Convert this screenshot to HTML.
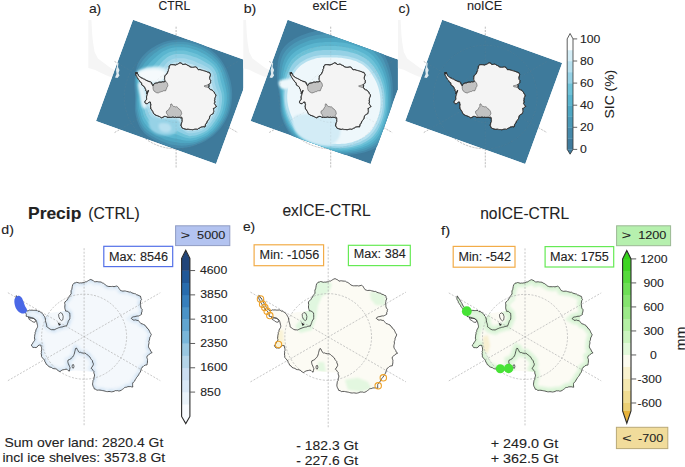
<!DOCTYPE html><html><head><meta charset="utf-8"><style>html,body{margin:0;padding:0;background:#fff;}svg{display:block;}text{font-family:"Liberation Sans",sans-serif;stroke:#2a2a2a;stroke-width:0.1px;}</style></head><body>
<svg width="685" height="467" viewBox="0 0 685 467">
<defs><clipPath id="ax0"><rect x="88.2" y="19.7" width="155.1" height="160"/></clipPath><clipPath id="rc0"><path d="M133 19.7 L253 63 L216 164 L96 121Z"/></clipPath><clipPath id="ax1"><rect x="243.3" y="19.7" width="154.6" height="160"/></clipPath><clipPath id="rc1"><path d="M287.6 19.7 L407.6 63 L370.6 164 L250.6 121Z"/></clipPath><clipPath id="ax2"><rect x="397.9" y="19.7" width="287.1" height="160"/></clipPath><clipPath id="rc2"><path d="M442.2 19.7 L562.2 63 L525.2 164 L405.2 121Z"/></clipPath><clipPath id="coastclip"><path d="M-67.8 -41.1 L-65.9 -38.2 L-63.8 -34.4 L-61.5 -30.9 L-59.3 -27.9 L-57.1 -25.8 L-53.4 -26.6 L-48.1 -26.4 L-43.8 -24.7 L-40.6 -22.1 L-39 -18.9 L-36.6 -22.9 L-33.1 -23.9 L-29.1 -24.5 L-25.1 -24.9 L-21.6 -25.4 L-18.3 -25.6 L-19.6 -29.4 L-19 -34.6 L-16.4 -37.8 L-14.5 -40.4 L-13.2 -42.9 L-13.2 -46.1 L-11.9 -48.7 L-11.2 -51.9 L-10 -53.8 L-7.4 -54.5 L-4.8 -53.8 L-1 -53.8 L2.2 -55.1 L6.7 -57.1 L9.3 -56.2 L10.6 -54.5 L13.2 -55.1 L17 -54.5 L20.2 -52.6 L23.5 -50.6 L27.3 -50 L32.5 -50.6 L34.4 -49.3 L36.2 -46.2 L41.3 -45.4 L46.5 -44.5 L51.6 -42.6 L56.1 -40.6 L57.4 -37.4 L56.1 -33.6 L56.7 -29.7 L58 -27.1 L57.4 -22.6 L54.2 -20.7 L55.4 -18.7 L54.2 -16.2 L56.7 -13 L60.6 -11.7 L63.8 -7.9 L65.7 -5.3 L67 -2.1 L65.4 2.2 L64.7 6 L64.5 11.2 L66.7 14.4 L68 15.7 L65.4 17.6 L62.8 19.5 L63.5 24 L62.8 27.9 L60.2 29.1 L57 31.7 L56.4 35.6 L54.5 38.1 L52.5 40.7 L51.2 43.3 L48.7 46.5 L48.7 50.4 L46.1 49.7 L41.6 50.4 L38.4 52.3 L35.8 54.2 L31.3 54.2 L27.5 54.9 L23.6 54.9 L19.8 54.2 L15.9 53.6 L12.9 53.3 L10.4 52.3 L8.5 48.4 L9.1 43.9 L10.4 39.4 L9.7 34.9 L5.9 34.7 L0.9 34.5 L-4.1 34.1 L-9.1 33.7 L-12.1 33.9 L-14.7 34.3 L-17.9 32.4 L-21.1 33 L-24.3 34.9 L-27.5 32.8 L-31.4 31.5 L-35.3 29.6 L-37.8 27.6 L-39.1 25.1 L-40.4 22.5 L-42.3 19.9 L-43 16.7 L-42.3 12.2 L-43 8.4 L-44.9 8.4 L-48.1 10.9 L-51.3 10.9 L-52.6 8.4 L-51.3 5.8 L-49.4 3.9 L-49.7 -0.1 L-49.1 -3.3 L-48.1 -6.6 L-47 -9.2 L-46.4 -11.4 L-47.5 -15.1 L-48.6 -17.3 L-50.7 -18.3 L-52.9 -18.3 L-55.5 -19.4 L-57.7 -20.5 L-58.2 -23.7 L-61.1 -26.5 L-63.9 -30.2 L-66.3 -34.3 L-68.3 -38.5Z"/></clipPath><filter id="bl1" x="-20%" y="-20%" width="140%" height="140%"><feGaussianBlur stdDeviation="1.2"/></filter><filter id="bl2" x="-20%" y="-20%" width="140%" height="140%"><feGaussianBlur stdDeviation="0.8"/></filter></defs>
<g clip-path="url(#ax0)">
<rect x="88.2" y="19.7" width="155.1" height="160" fill="#fff"/>
<path d="M88.2 19.8 L91.4 19.8 L92.2 34.3 L93 42.3 L94.6 52 L97.9 58.4 L104.3 63.2 L110.7 68.1 L115.5 70.5 L117.5 72 L119 74.5 L117.2 76.5 L113.1 77 L109.1 76.6 L101.1 72.9 L94.6 69.7 L88.2 68.1Z" fill="#f5f5f5"/>
<g stroke="#a3a3a3" stroke-width="0.6" stroke-dasharray="2 1.3" fill="none"><line x1="176.1" y1="26.7" x2="176.1" y2="168" /><line x1="114.61" y1="61.5" x2="237.59" y2="132.5"/><line x1="114.61" y1="132.5" x2="237.59" y2="61.5"/><circle cx="176.1" cy="97" r="25.4" fill="none"/><circle cx="176.1" cy="97" r="51.8" fill="none"/></g>
<g clip-path="url(#rc0)">
<path d="M133 19.7 L253 63 L216 164 L96 121Z" fill="#3e7a9b"/>
<path d="M117 62 L118.5 63 L118 67 L119.5 70 L118.5 73 L119.5 75.5 L117.5 78 L115 77.5 L116.5 74 L116 70 L117 66Z" fill="#dfe9ee"/>
<path d="M232.1 97 C232.05 98.22 231.95 99.44 231.82 100.65 C231.69 101.86 231.52 103.07 231.31 104.27 C231.1 105.46 230.85 106.66 230.56 107.83 C230.27 109.01 229.94 110.18 229.58 111.33 C229.21 112.48 228.8 113.62 228.36 114.74 C227.92 115.86 227.43 116.97 226.91 118.05 C226.39 119.13 225.83 120.19 225.24 121.23 C224.65 122.27 224.02 123.29 223.36 124.29 C222.7 125.28 222 126.25 221.28 127.19 C220.56 128.13 219.8 129.05 219.02 129.93 C218.24 130.82 217.42 131.68 216.59 132.51 C215.75 133.33 214.89 134.13 214 134.9 C213.11 135.67 212.2 136.4 211.27 137.1 C210.33 137.8 209.38 138.46 208.4 139.09 C207.43 139.72 206.43 140.32 205.42 140.88 C204.41 141.44 203.38 141.97 202.35 142.46 C201.31 142.96 200.26 143.42 199.2 143.85 C198.14 144.28 197.07 144.67 196 145.04 C194.93 145.41 193.84 145.75 192.76 146.07 C191.67 146.38 190.57 146.67 189.48 146.92 C188.38 147.17 187.27 147.39 186.16 147.57 C185.05 147.74 183.93 147.89 182.81 147.98 C181.69 148.08 180.57 148.13 179.45 148.14 C178.33 148.14 177.21 148.1 176.1 148 C174.99 147.9 173.88 147.74 172.79 147.54 C171.7 147.34 170.61 147.08 169.55 146.78 C168.48 146.49 167.43 146.14 166.4 145.78 C165.37 145.41 164.35 145 163.35 144.58 C162.35 144.15 161.37 143.7 160.4 143.24 C159.44 142.78 158.49 142.29 157.54 141.81 C156.59 141.32 155.66 140.84 154.73 140.33 C153.8 139.83 152.88 139.32 151.98 138.78 C151.07 138.25 150.17 137.69 149.3 137.1 C148.43 136.51 147.58 135.9 146.76 135.24 C145.94 134.58 145.15 133.88 144.4 133.14 C143.66 132.41 142.95 131.62 142.3 130.8 C141.65 129.98 141.06 129.1 140.51 128.21 C139.96 127.32 139.47 126.39 139.02 125.45 C138.57 124.51 138.18 123.55 137.82 122.58 C137.45 121.62 137.14 120.64 136.85 119.66 C136.56 118.69 136.31 117.71 136.08 116.74 C135.85 115.77 135.62 114.8 135.45 113.84 C135.27 112.87 135.13 111.91 135.03 110.94 C134.93 109.98 134.9 109 134.87 108.05 C134.85 107.09 134.87 106.14 134.89 105.2 C134.92 104.26 134.97 103.33 135 102.41 C135.04 101.49 135.09 100.59 135.1 99.69 C135.12 98.79 135.12 97.9 135.1 97 C135.08 96.1 135.02 95.21 134.96 94.3 C134.9 93.4 134.81 92.48 134.74 91.56 C134.67 90.63 134.58 89.69 134.52 88.73 C134.46 87.77 134.39 86.8 134.36 85.82 C134.34 84.83 134.32 83.83 134.34 82.83 C134.37 81.82 134.44 80.81 134.53 79.78 C134.61 78.75 134.72 77.71 134.84 76.65 C134.97 75.6 135.09 74.51 135.26 73.42 C135.43 72.33 135.62 71.22 135.86 70.11 C136.11 69.01 136.39 67.89 136.73 66.79 C137.08 65.7 137.48 64.6 137.94 63.54 C138.41 62.48 138.95 61.44 139.54 60.44 C140.14 59.45 140.81 58.49 141.51 57.56 C142.22 56.63 142.98 55.74 143.78 54.88 C144.58 54.02 145.43 53.2 146.31 52.41 C147.19 51.62 148.11 50.87 149.05 50.15 C149.99 49.43 150.97 48.74 151.97 48.08 C152.97 47.42 154 46.78 155.05 46.19 C156.1 45.59 157.18 45.02 158.27 44.49 C159.37 43.96 160.5 43.47 161.64 43.02 C162.78 42.57 163.94 42.17 165.12 41.8 C166.3 41.44 167.5 41.11 168.71 40.83 C169.91 40.55 171.14 40.32 172.37 40.13 C173.6 39.94 174.85 39.8 176.1 39.7 C177.35 39.6 178.61 39.55 179.87 39.55 C181.12 39.54 182.39 39.58 183.65 39.67 C184.91 39.76 186.17 39.89 187.42 40.07 C188.68 40.25 189.93 40.48 191.17 40.75 C192.41 41.03 193.65 41.35 194.87 41.72 C196.09 42.08 197.3 42.5 198.49 42.95 C199.68 43.41 200.86 43.91 202.01 44.46 C203.17 45 204.31 45.59 205.42 46.21 C206.54 46.84 207.63 47.51 208.69 48.22 C209.76 48.93 210.8 49.68 211.81 50.47 C212.81 51.25 213.8 52.08 214.74 52.94 C215.68 53.8 216.6 54.7 217.47 55.63 C218.34 56.57 219.17 57.54 219.96 58.54 C220.74 59.54 221.49 60.58 222.19 61.64 C222.89 62.69 223.55 63.78 224.17 64.88 C224.79 65.98 225.37 67.11 225.91 68.24 C226.46 69.37 226.96 70.53 227.44 71.68 C227.91 72.84 228.35 74.01 228.76 75.19 C229.17 76.36 229.55 77.55 229.89 78.74 C230.23 79.93 230.53 81.14 230.8 82.34 C231.07 83.55 231.29 84.77 231.48 85.98 C231.67 87.2 231.82 88.43 231.93 89.65 C232.04 90.87 232.11 92.1 232.14 93.33 C232.17 94.55 232.15 95.78 232.1 97Z" fill="#4589aa"/>
<path d="M230.56 97 C230.52 98.19 230.45 99.37 230.33 100.55 C230.21 101.73 230.05 102.91 229.86 104.08 C229.66 105.24 229.41 106.4 229.14 107.55 C228.87 108.7 228.58 109.84 228.23 110.97 C227.88 112.09 227.5 113.21 227.07 114.3 C226.64 115.4 226.16 116.47 225.66 117.53 C225.15 118.58 224.6 119.62 224.03 120.63 C223.45 121.65 222.84 122.65 222.2 123.62 C221.56 124.59 220.87 125.53 220.17 126.45 C219.47 127.37 218.75 128.28 218 129.15 C217.24 130.02 216.46 130.87 215.65 131.68 C214.83 132.49 213.99 133.27 213.12 134.02 C212.25 134.77 211.37 135.49 210.45 136.17 C209.54 136.85 208.59 137.49 207.63 138.09 C206.67 138.7 205.68 139.26 204.69 139.79 C203.69 140.32 202.68 140.81 201.66 141.28 C200.64 141.74 199.61 142.17 198.57 142.56 C197.53 142.96 196.47 143.31 195.42 143.64 C194.37 143.97 193.31 144.31 192.24 144.55 C191.17 144.8 190.07 144.96 188.99 145.11 C187.91 145.27 186.83 145.4 185.74 145.49 C184.66 145.58 183.58 145.64 182.51 145.65 C181.43 145.67 180.35 145.65 179.28 145.58 C178.22 145.52 177.15 145.39 176.1 145.26 C175.05 145.14 174 145.02 172.96 144.83 C171.93 144.65 170.9 144.4 169.89 144.13 C168.89 143.86 167.89 143.55 166.91 143.21 C165.93 142.88 164.96 142.51 164.01 142.12 C163.06 141.74 162.12 141.32 161.2 140.9 C160.27 140.47 159.37 140.02 158.46 139.58 C157.56 139.14 156.66 138.7 155.76 138.24 C154.87 137.78 153.98 137.33 153.1 136.83 C152.23 136.34 151.36 135.83 150.52 135.29 C149.67 134.74 148.84 134.18 148.04 133.57 C147.24 132.96 146.45 132.33 145.72 131.64 C144.99 130.95 144.3 130.22 143.66 129.44 C143.02 128.67 142.43 127.84 141.89 127 C141.35 126.16 140.86 125.28 140.41 124.39 C139.96 123.49 139.56 122.58 139.2 121.66 C138.83 120.74 138.52 119.8 138.23 118.87 C137.94 117.93 137.69 116.99 137.46 116.05 C137.23 115.12 137.04 114.18 136.85 113.26 C136.66 112.33 136.47 111.42 136.35 110.49 C136.22 109.57 136.15 108.64 136.1 107.72 C136.05 106.8 136.05 105.88 136.04 104.97 C136.04 104.06 136.06 103.16 136.07 102.27 C136.07 101.38 136.07 100.5 136.08 99.62 C136.09 98.74 136.13 97.87 136.12 97 C136.11 96.13 136.08 95.26 136.04 94.37 C136 93.49 135.93 92.61 135.87 91.7 C135.82 90.8 135.76 89.9 135.69 88.96 C135.62 88.03 135.51 87.08 135.44 86.1 C135.36 85.13 135.27 84.14 135.23 83.13 C135.18 82.12 135.1 81.06 135.16 80.04 C135.22 79.02 135.43 78.04 135.6 77.03 C135.77 76.01 135.94 74.97 136.18 73.95 C136.43 72.94 136.72 71.92 137.08 70.93 C137.43 69.93 137.83 68.94 138.3 67.99 C138.76 67.04 139.33 66.16 139.86 65.22 C140.4 64.29 140.89 63.3 141.48 62.38 C142.07 61.47 142.72 60.58 143.4 59.71 C144.08 58.85 144.8 58 145.55 57.19 C146.3 56.37 147.1 55.59 147.92 54.83 C148.74 54.06 149.6 53.33 150.48 52.62 C151.36 51.92 152.27 51.23 153.2 50.57 C154.14 49.91 155.09 49.27 156.07 48.65 C157.06 48.04 158.06 47.45 159.09 46.9 C160.12 46.35 161.18 45.83 162.26 45.37 C163.34 44.9 164.45 44.47 165.57 44.09 C166.7 43.7 167.84 43.36 169 43.06 C170.16 42.77 171.33 42.53 172.52 42.33 C173.7 42.14 174.9 41.99 176.1 41.9 C177.3 41.8 178.51 41.76 179.72 41.76 C180.93 41.75 182.15 41.78 183.36 41.86 C184.57 41.93 185.79 42.06 186.99 42.23 C188.2 42.4 189.41 42.62 190.6 42.89 C191.79 43.16 192.97 43.48 194.15 43.84 C195.32 44.19 196.49 44.58 197.64 45.01 C198.78 45.44 199.92 45.91 201.04 46.43 C202.16 46.94 203.25 47.5 204.33 48.1 C205.41 48.69 206.47 49.33 207.51 49.99 C208.55 50.66 209.57 51.36 210.56 52.09 C211.55 52.83 212.51 53.61 213.44 54.42 C214.37 55.23 215.28 56.08 216.14 56.96 C217.01 57.84 217.85 58.74 218.64 59.69 C219.42 60.64 220.16 61.64 220.85 62.66 C221.55 63.68 222.19 64.73 222.8 65.8 C223.4 66.87 223.96 67.96 224.47 69.07 C224.99 70.18 225.44 71.32 225.87 72.45 C226.31 73.59 226.69 74.74 227.06 75.89 C227.43 77.04 227.8 78.19 228.12 79.34 C228.45 80.5 228.75 81.66 229.01 82.82 C229.28 83.99 229.52 85.16 229.73 86.33 C229.93 87.51 230.11 88.69 230.25 89.87 C230.39 91.05 230.5 92.24 230.55 93.43 C230.6 94.62 230.6 95.81 230.56 97Z" fill="#4a98b6"/>
<path d="M228.85 97 C228.83 98.15 228.78 99.3 228.68 100.45 C228.58 101.59 228.43 102.73 228.25 103.87 C228.06 105 227.82 106.12 227.57 107.24 C227.32 108.36 227.06 109.47 226.73 110.57 C226.41 111.66 226.05 112.75 225.64 113.82 C225.22 114.88 224.75 115.92 224.26 116.95 C223.77 117.97 223.23 118.98 222.68 119.97 C222.12 120.96 221.54 121.93 220.91 122.87 C220.29 123.82 219.62 124.73 218.95 125.63 C218.27 126.53 217.59 127.43 216.87 128.28 C216.14 129.14 215.39 129.97 214.6 130.76 C213.81 131.56 212.98 132.31 212.14 133.04 C211.3 133.77 210.44 134.48 209.55 135.14 C208.65 135.79 207.72 136.41 206.78 136.98 C205.83 137.55 204.85 138.07 203.87 138.57 C202.9 139.06 201.9 139.53 200.9 139.96 C199.9 140.38 198.89 140.78 197.86 141.13 C196.84 141.49 195.81 141.8 194.78 142.09 C193.74 142.38 192.72 142.7 191.67 142.87 C190.62 143.04 189.52 143.06 188.46 143.11 C187.39 143.16 186.33 143.18 185.29 143.18 C184.24 143.17 183.2 143.14 182.16 143.06 C181.13 142.99 180.11 142.89 179.1 142.75 C178.09 142.61 177.09 142.37 176.1 142.22 C175.11 142.06 174.13 142 173.16 141.83 C172.19 141.66 171.23 141.44 170.28 141.19 C169.33 140.95 168.4 140.67 167.47 140.37 C166.55 140.07 165.64 139.74 164.74 139.4 C163.84 139.05 162.96 138.68 162.08 138.29 C161.21 137.91 160.35 137.5 159.49 137.11 C158.62 136.71 157.76 136.33 156.91 135.92 C156.05 135.51 155.19 135.11 154.35 134.67 C153.51 134.23 152.68 133.76 151.87 133.27 C151.05 132.78 150.24 132.27 149.46 131.72 C148.68 131.17 147.91 130.59 147.19 129.96 C146.48 129.33 145.79 128.65 145.16 127.94 C144.54 127.22 143.96 126.45 143.42 125.66 C142.89 124.87 142.4 124.04 141.95 123.2 C141.5 122.37 141.1 121.5 140.73 120.63 C140.37 119.76 140.05 118.87 139.76 117.98 C139.47 117.09 139.23 116.19 139 115.29 C138.78 114.4 138.6 113.5 138.4 112.61 C138.21 111.73 137.97 110.87 137.81 110 C137.65 109.12 137.54 108.23 137.46 107.35 C137.38 106.47 137.36 105.59 137.32 104.71 C137.29 103.84 137.27 102.98 137.25 102.12 C137.22 101.25 137.17 100.4 137.17 99.55 C137.17 98.7 137.24 97.85 137.25 97 C137.26 96.15 137.27 95.31 137.25 94.45 C137.23 93.6 137.18 92.74 137.13 91.87 C137.09 91 137.07 90.13 136.99 89.22 C136.9 88.31 136.76 87.38 136.63 86.42 C136.5 85.46 136.34 84.47 136.21 83.46 C136.08 82.44 135.82 81.34 135.86 80.33 C135.9 79.33 136.21 78.41 136.44 77.44 C136.66 76.48 136.88 75.48 137.21 74.55 C137.54 73.61 137.96 72.7 138.43 71.83 C138.9 70.96 139.44 70.11 140.03 69.33 C140.63 68.54 141.4 67.89 142 67.09 C142.6 66.3 143.06 65.37 143.64 64.54 C144.22 63.71 144.85 62.9 145.49 62.1 C146.14 61.3 146.81 60.52 147.52 59.75 C148.22 58.99 148.95 58.24 149.71 57.51 C150.47 56.78 151.26 56.07 152.07 55.38 C152.88 54.68 153.71 54 154.57 53.34 C155.42 52.67 156.3 52.02 157.21 51.4 C158.12 50.77 159.04 50.15 160 49.58 C160.96 49 161.95 48.46 162.96 47.97 C163.98 47.48 165.02 47.03 166.08 46.62 C167.14 46.22 168.23 45.85 169.33 45.54 C170.42 45.23 171.55 44.98 172.68 44.78 C173.81 44.58 174.95 44.43 176.1 44.34 C177.25 44.25 178.4 44.22 179.56 44.21 C180.72 44.2 181.88 44.22 183.04 44.29 C184.2 44.36 185.36 44.46 186.52 44.62 C187.67 44.79 188.82 45.01 189.96 45.27 C191.1 45.53 192.23 45.85 193.35 46.19 C194.47 46.53 195.59 46.89 196.69 47.29 C197.79 47.69 198.89 48.13 199.96 48.61 C201.03 49.1 202.08 49.64 203.12 50.2 C204.16 50.75 205.19 51.34 206.19 51.96 C207.2 52.58 208.2 53.22 209.17 53.91 C210.14 54.59 211.09 55.31 212 56.06 C212.92 56.81 213.81 57.61 214.68 58.42 C215.54 59.24 216.4 60.08 217.18 60.98 C217.96 61.87 218.69 62.82 219.37 63.8 C220.05 64.77 220.69 65.78 221.27 66.82 C221.86 67.85 222.4 68.91 222.88 69.99 C223.35 71.08 223.76 72.2 224.14 73.31 C224.52 74.42 224.83 75.56 225.17 76.67 C225.51 77.79 225.85 78.89 226.16 80.01 C226.47 81.12 226.76 82.23 227.03 83.35 C227.3 84.47 227.55 85.59 227.77 86.72 C228 87.85 228.22 88.98 228.38 90.12 C228.55 91.25 228.7 92.4 228.78 93.55 C228.85 94.69 228.87 95.85 228.85 97Z" fill="#4ea6c2"/>
<path d="M226.8 97 C226.81 98.1 226.77 99.21 226.69 100.32 C226.61 101.42 226.49 102.52 226.32 103.61 C226.15 104.7 225.92 105.78 225.69 106.86 C225.46 107.94 225.23 109.03 224.94 110.09 C224.65 111.15 224.31 112.2 223.92 113.23 C223.52 114.26 223.06 115.26 222.58 116.25 C222.11 117.24 221.59 118.21 221.05 119.17 C220.52 120.12 219.97 121.07 219.37 121.98 C218.77 122.89 218.12 123.77 217.47 124.64 C216.83 125.52 216.2 126.4 215.51 127.24 C214.82 128.08 214.1 128.89 213.35 129.66 C212.59 130.43 211.78 131.16 210.97 131.87 C210.15 132.57 209.33 133.27 208.46 133.9 C207.59 134.53 206.68 135.11 205.76 135.65 C204.83 136.18 203.86 136.65 202.9 137.11 C201.94 137.56 200.97 137.99 199.99 138.37 C199.01 138.76 198.02 139.11 197.02 139.42 C196.02 139.73 195.01 139.98 194 140.22 C193 140.46 192.02 140.77 190.99 140.85 C189.95 140.93 188.85 140.78 187.81 140.71 C186.77 140.63 185.74 140.53 184.73 140.4 C183.72 140.28 182.73 140.14 181.76 139.96 C180.78 139.78 179.82 139.57 178.88 139.34 C177.93 139.11 177.01 138.75 176.1 138.56 C175.19 138.38 174.29 138.37 173.4 138.22 C172.51 138.07 171.62 137.87 170.75 137.66 C169.87 137.45 169.01 137.21 168.15 136.95 C167.3 136.69 166.45 136.42 165.62 136.12 C164.78 135.83 163.96 135.5 163.14 135.17 C162.33 134.84 161.53 134.48 160.72 134.14 C159.91 133.8 159.09 133.48 158.28 133.13 C157.47 132.79 156.65 132.45 155.85 132.07 C155.05 131.69 154.26 131.28 153.48 130.85 C152.7 130.42 151.92 129.98 151.17 129.49 C150.41 129.01 149.65 128.52 148.95 127.95 C148.25 127.39 147.59 126.78 146.97 126.13 C146.36 125.48 145.79 124.77 145.26 124.04 C144.73 123.32 144.25 122.56 143.8 121.79 C143.35 121.01 142.95 120.21 142.58 119.4 C142.21 118.59 141.88 117.76 141.6 116.92 C141.31 116.09 141.07 115.23 140.85 114.38 C140.63 113.54 140.49 112.67 140.27 111.84 C140.06 111.01 139.76 110.22 139.57 109.4 C139.37 108.58 139.21 107.75 139.09 106.92 C138.97 106.08 138.93 105.24 138.86 104.41 C138.79 103.58 138.73 102.75 138.67 101.93 C138.6 101.1 138.49 100.29 138.48 99.47 C138.47 98.64 138.57 97.82 138.61 97 C138.64 96.18 138.69 95.37 138.69 94.55 C138.7 93.73 138.67 92.91 138.64 92.07 C138.62 91.23 138.64 90.41 138.55 89.53 C138.45 88.65 138.25 87.75 138.05 86.81 C137.86 85.86 137.61 84.88 137.39 83.86 C137.16 82.84 136.69 81.67 136.7 80.68 C136.71 79.69 137.16 78.84 137.45 77.94 C137.73 77.03 138.01 76.09 138.44 75.26 C138.87 74.42 139.43 73.63 140.05 72.91 C140.66 72.19 141.37 71.52 142.12 70.92 C142.87 70.33 143.87 69.97 144.56 69.34 C145.24 68.71 145.65 67.86 146.23 67.13 C146.8 66.4 147.4 65.69 148.01 64.97 C148.62 64.25 149.24 63.53 149.88 62.83 C150.52 62.12 151.18 61.42 151.86 60.72 C152.54 60.03 153.25 59.36 153.97 58.68 C154.7 58 155.44 57.32 156.21 56.66 C156.97 55.99 157.76 55.33 158.57 54.69 C159.39 54.04 160.22 53.39 161.09 52.79 C161.96 52.19 162.87 51.61 163.8 51.09 C164.73 50.57 165.7 50.1 166.69 49.67 C167.67 49.24 168.69 48.84 169.72 48.52 C170.75 48.19 171.81 47.92 172.87 47.71 C173.93 47.5 175.02 47.36 176.1 47.27 C177.18 47.18 178.27 47.17 179.37 47.16 C180.46 47.15 181.56 47.15 182.66 47.2 C183.75 47.26 184.86 47.35 185.95 47.5 C187.04 47.65 188.12 47.86 189.2 48.12 C190.27 48.37 191.33 48.7 192.39 49.02 C193.45 49.34 194.51 49.66 195.56 50.03 C196.6 50.4 197.65 50.79 198.67 51.24 C199.69 51.69 200.68 52.2 201.67 52.71 C202.66 53.22 203.64 53.76 204.62 54.32 C205.59 54.89 206.56 55.46 207.5 56.08 C208.44 56.7 209.37 57.34 210.28 58.03 C211.18 58.71 212.05 59.44 212.91 60.19 C213.77 60.93 214.64 61.68 215.42 62.51 C216.2 63.34 216.92 64.24 217.59 65.16 C218.26 66.08 218.88 67.05 219.44 68.04 C220 69.03 220.52 70.05 220.96 71.1 C221.39 72.15 221.74 73.25 222.06 74.33 C222.38 75.42 222.61 76.54 222.9 77.61 C223.19 78.69 223.52 79.74 223.81 80.81 C224.1 81.87 224.38 82.93 224.65 83.99 C224.92 85.06 225.18 86.12 225.43 87.19 C225.68 88.26 225.94 89.33 226.14 90.41 C226.35 91.49 226.54 92.59 226.65 93.69 C226.76 94.78 226.79 95.9 226.8 97Z" fill="#5ab5cf"/>
<path d="M224.4 97 C224.44 98.05 224.43 99.11 224.38 100.16 C224.32 101.22 224.21 102.27 224.07 103.31 C223.92 104.36 223.69 105.39 223.49 106.43 C223.28 107.46 223.11 108.5 222.85 109.53 C222.58 110.55 222.28 111.56 221.91 112.55 C221.54 113.54 221.08 114.5 220.63 115.44 C220.17 116.39 219.67 117.32 219.16 118.24 C218.65 119.15 218.14 120.06 217.57 120.94 C217 121.82 216.36 122.65 215.75 123.5 C215.15 124.34 214.57 125.21 213.93 126.02 C213.28 126.84 212.6 127.63 211.88 128.38 C211.16 129.13 210.38 129.82 209.6 130.5 C208.82 131.18 208.03 131.85 207.19 132.45 C206.35 133.05 205.47 133.6 204.56 134.09 C203.66 134.58 202.7 135 201.76 135.4 C200.82 135.81 199.88 136.19 198.92 136.53 C197.97 136.86 197 137.17 196.03 137.42 C195.06 137.67 194.07 137.86 193.1 138.04 C192.13 138.22 191.19 138.52 190.19 138.5 C189.18 138.48 188.08 138.12 187.06 137.9 C186.04 137.68 185.05 137.43 184.09 137.17 C183.13 136.91 182.19 136.64 181.28 136.34 C180.37 136.04 179.48 135.71 178.61 135.37 C177.75 135.03 176.92 134.53 176.1 134.3 C175.28 134.07 174.48 134.13 173.67 134.01 C172.87 133.88 172.08 133.72 171.29 133.55 C170.5 133.37 169.72 133.17 168.95 132.96 C168.17 132.76 167.4 132.55 166.64 132.31 C165.88 132.07 165.13 131.8 164.38 131.53 C163.63 131.26 162.9 130.95 162.15 130.67 C161.4 130.4 160.64 130.15 159.88 129.88 C159.13 129.61 158.36 129.35 157.6 129.04 C156.85 128.73 156.11 128.38 155.37 128.03 C154.63 127.67 153.88 127.3 153.16 126.9 C152.43 126.5 151.69 126.09 151.01 125.61 C150.33 125.13 149.68 124.59 149.08 124.02 C148.48 123.44 147.93 122.81 147.41 122.16 C146.89 121.52 146.4 120.83 145.96 120.13 C145.51 119.43 145.1 118.7 144.73 117.96 C144.36 117.22 144.03 116.46 143.74 115.68 C143.45 114.91 143.22 114.11 143 113.32 C142.79 112.53 142.68 111.71 142.45 110.94 C142.22 110.17 141.86 109.46 141.61 108.71 C141.37 107.95 141.16 107.18 141 106.41 C140.83 105.63 140.76 104.83 140.65 104.05 C140.53 103.27 140.43 102.49 140.32 101.71 C140.21 100.93 140.03 100.15 140.01 99.37 C139.99 98.58 140.13 97.78 140.19 97 C140.26 96.22 140.34 95.44 140.38 94.66 C140.41 93.88 140.41 93.1 140.41 92.3 C140.4 91.51 140.48 90.73 140.36 89.89 C140.25 89.05 139.99 88.18 139.72 87.25 C139.45 86.32 139.1 85.35 138.76 84.33 C138.42 83.3 137.71 82.06 137.69 81.09 C137.66 80.12 138.26 79.35 138.62 78.52 C138.99 77.68 139.32 76.81 139.87 76.09 C140.43 75.36 141.16 74.72 141.94 74.17 C142.71 73.62 143.61 73.16 144.55 72.79 C145.48 72.42 146.76 72.4 147.54 71.96 C148.33 71.52 148.68 70.76 149.25 70.15 C149.81 69.54 150.38 68.94 150.94 68.32 C151.51 67.69 152.06 67.05 152.63 66.41 C153.2 65.77 153.77 65.12 154.37 64.48 C154.96 63.83 155.57 63.19 156.2 62.53 C156.82 61.87 157.46 61.2 158.12 60.53 C158.78 59.86 159.46 59.19 160.16 58.53 C160.87 57.86 161.6 57.17 162.36 56.54 C163.13 55.9 163.94 55.29 164.78 54.74 C165.61 54.19 166.49 53.68 167.39 53.23 C168.29 52.77 169.22 52.33 170.17 51.99 C171.12 51.64 172.11 51.35 173.09 51.13 C174.08 50.92 175.09 50.78 176.1 50.69 C177.11 50.6 178.12 50.61 179.14 50.6 C180.16 50.58 181.18 50.56 182.21 50.61 C183.23 50.65 184.26 50.71 185.28 50.85 C186.3 50.99 187.31 51.2 188.31 51.44 C189.31 51.68 190.28 52.02 191.27 52.31 C192.26 52.61 193.25 52.9 194.23 53.23 C195.21 53.56 196.2 53.9 197.15 54.3 C198.11 54.71 199.04 55.18 199.98 55.65 C200.91 56.11 201.84 56.59 202.77 57.08 C203.7 57.58 204.64 58.07 205.56 58.61 C206.47 59.15 207.38 59.72 208.26 60.33 C209.14 60.93 210 61.58 210.86 62.24 C211.71 62.91 212.6 63.56 213.38 64.31 C214.15 65.06 214.86 65.9 215.51 66.76 C216.17 67.62 216.78 68.53 217.31 69.46 C217.84 70.4 218.33 71.38 218.72 72.39 C219.11 73.4 219.38 74.48 219.63 75.53 C219.89 76.58 220.02 77.68 220.26 78.71 C220.49 79.74 220.79 80.73 221.06 81.74 C221.33 82.74 221.6 83.74 221.87 84.74 C222.14 85.74 222.41 86.73 222.69 87.73 C222.97 88.74 223.28 89.74 223.53 90.76 C223.77 91.78 224.03 92.81 224.17 93.85 C224.32 94.89 224.37 95.95 224.4 97Z" fill="#6ec2d8"/>
<path d="M222.01 97 C222.07 98 222.1 99.01 222.06 100.01 C222.03 101.02 221.94 102.02 221.81 103.02 C221.68 104.01 221.46 105 221.29 105.99 C221.11 106.98 220.98 107.98 220.75 108.96 C220.52 109.94 220.25 110.92 219.9 111.87 C219.56 112.81 219.11 113.73 218.67 114.63 C218.23 115.54 217.76 116.43 217.27 117.3 C216.79 118.18 216.31 119.06 215.77 119.9 C215.23 120.74 214.6 121.53 214.03 122.35 C213.46 123.16 212.94 124.02 212.34 124.81 C211.74 125.6 211.1 126.38 210.42 127.1 C209.73 127.82 208.98 128.48 208.23 129.13 C207.48 129.78 206.73 130.43 205.92 131 C205.11 131.57 204.25 132.09 203.37 132.54 C202.48 132.99 201.54 133.34 200.62 133.7 C199.7 134.06 198.78 134.39 197.85 134.68 C196.93 134.97 195.99 135.22 195.05 135.42 C194.1 135.62 193.14 135.74 192.2 135.86 C191.25 135.98 190.37 136.27 189.39 136.15 C188.41 136.02 187.3 135.46 186.31 135.09 C185.32 134.73 184.36 134.33 183.45 133.94 C182.53 133.54 181.65 133.13 180.8 132.71 C179.95 132.29 179.14 131.84 178.35 131.4 C177.57 130.95 176.83 130.31 176.1 130.04 C175.37 129.77 174.66 129.9 173.95 129.8 C173.24 129.7 172.53 129.56 171.83 129.43 C171.13 129.29 170.43 129.13 169.74 128.98 C169.04 128.82 168.35 128.67 167.66 128.49 C166.98 128.31 166.29 128.1 165.62 127.89 C164.94 127.67 164.28 127.42 163.59 127.21 C162.9 127 162.19 126.83 161.49 126.63 C160.78 126.43 160.06 126.24 159.35 126 C158.65 125.77 157.96 125.48 157.26 125.2 C156.56 124.92 155.84 124.63 155.15 124.31 C154.45 123.99 153.72 123.67 153.07 123.27 C152.41 122.87 151.78 122.4 151.19 121.91 C150.61 121.41 150.07 120.85 149.55 120.28 C149.04 119.71 148.56 119.1 148.11 118.48 C147.67 117.85 147.25 117.2 146.88 116.52 C146.51 115.85 146.17 115.16 145.88 114.45 C145.59 113.74 145.36 113 145.15 112.26 C144.95 111.53 144.88 110.74 144.63 110.04 C144.38 109.33 143.95 108.7 143.66 108.01 C143.37 107.32 143.11 106.61 142.9 105.9 C142.7 105.18 142.59 104.43 142.44 103.7 C142.28 102.96 142.12 102.23 141.97 101.49 C141.82 100.75 141.57 100.01 141.53 99.27 C141.5 98.52 141.69 97.75 141.78 97 C141.87 96.25 142 95.51 142.06 94.77 C142.13 94.02 142.15 93.29 142.17 92.53 C142.19 91.78 142.31 91.06 142.18 90.25 C142.05 89.45 141.73 88.61 141.39 87.7 C141.04 86.79 140.59 85.83 140.14 84.79 C139.68 83.76 138.73 82.45 138.67 81.5 C138.61 80.55 139.36 79.86 139.8 79.1 C140.24 78.33 140.64 77.52 141.31 76.91 C141.98 76.3 142.88 75.81 143.82 75.43 C144.77 75.06 145.86 74.8 146.98 74.65 C148.1 74.51 149.65 74.82 150.53 74.58 C151.41 74.33 151.71 73.65 152.27 73.17 C152.83 72.68 153.36 72.19 153.88 71.66 C154.4 71.13 154.88 70.57 155.38 70 C155.88 69.43 156.37 68.83 156.88 68.23 C157.38 67.63 157.9 67.02 158.42 66.38 C158.95 65.75 159.47 65.08 160.03 64.41 C160.58 63.74 161.15 63.05 161.75 62.37 C162.36 61.68 162.97 60.95 163.64 60.28 C164.3 59.62 165.01 58.97 165.75 58.38 C166.5 57.8 167.29 57.27 168.1 56.78 C168.91 56.29 169.76 55.83 170.63 55.46 C171.5 55.09 172.41 54.78 173.32 54.56 C174.23 54.33 175.17 54.19 176.1 54.11 C177.03 54.02 177.97 54.05 178.92 54.03 C179.86 54.02 180.81 53.98 181.76 54.01 C182.71 54.04 183.67 54.08 184.61 54.21 C185.55 54.33 186.49 54.53 187.42 54.77 C188.34 55 189.23 55.34 190.15 55.61 C191.06 55.89 191.99 56.13 192.91 56.42 C193.82 56.72 194.75 57.01 195.64 57.37 C196.54 57.73 197.4 58.17 198.28 58.58 C199.16 58.99 200.04 59.41 200.93 59.84 C201.82 60.27 202.73 60.68 203.61 61.15 C204.5 61.61 205.38 62.1 206.25 62.63 C207.11 63.15 207.95 63.72 208.8 64.3 C209.65 64.88 210.56 65.43 211.33 66.1 C212.1 66.78 212.8 67.55 213.44 68.35 C214.08 69.15 214.67 70 215.18 70.89 C215.68 71.78 216.14 72.71 216.48 73.69 C216.82 74.66 217.02 75.71 217.21 76.73 C217.39 77.75 217.43 78.82 217.61 79.81 C217.8 80.8 218.07 81.72 218.31 82.67 C218.56 83.62 218.81 84.55 219.09 85.48 C219.36 86.42 219.65 87.34 219.96 88.28 C220.26 89.21 220.62 90.14 220.91 91.1 C221.2 92.06 221.51 93.03 221.69 94.01 C221.88 94.99 221.95 96 222.01 97Z" fill="#8fcfe4"/>
<path d="M219.1 97 C219.2 97.94 219.26 98.89 219.25 99.83 C219.25 100.77 219.18 101.72 219.08 102.66 C218.97 103.6 218.76 104.52 218.62 105.46 C218.47 106.39 218.4 107.35 218.21 108.28 C218.02 109.21 217.79 110.15 217.47 111.04 C217.15 111.94 216.71 112.79 216.3 113.65 C215.88 114.5 215.43 115.34 214.98 116.17 C214.52 117 214.08 117.84 213.58 118.64 C213.07 119.43 212.47 120.17 211.95 120.95 C211.42 121.73 210.97 122.57 210.42 123.33 C209.87 124.1 209.28 124.85 208.64 125.54 C208 126.23 207.28 126.85 206.56 127.46 C205.85 128.08 205.15 128.71 204.38 129.24 C203.6 129.77 202.77 130.25 201.92 130.65 C201.06 131.04 200.13 131.33 199.24 131.63 C198.35 131.93 197.46 132.21 196.56 132.44 C195.66 132.66 194.76 132.86 193.85 132.99 C192.94 133.12 192.01 133.17 191.1 133.22 C190.2 133.27 189.37 133.54 188.42 133.29 C187.47 133.03 186.35 132.23 185.39 131.69 C184.44 131.14 183.53 130.57 182.67 130.01 C181.8 129.45 180.99 128.88 180.22 128.31 C179.45 127.74 178.73 127.15 178.04 126.58 C177.35 126 176.73 125.18 176.1 124.86 C175.47 124.55 174.89 124.76 174.29 124.68 C173.68 124.61 173.09 124.52 172.49 124.43 C171.89 124.34 171.3 124.23 170.7 124.14 C170.1 124.04 169.5 123.96 168.9 123.85 C168.31 123.74 167.71 123.61 167.12 123.46 C166.52 123.32 165.94 123.13 165.33 123 C164.72 122.87 164.08 122.79 163.44 122.68 C162.79 122.57 162.13 122.47 161.48 122.32 C160.83 122.17 160.2 121.97 159.55 121.77 C158.89 121.58 158.23 121.39 157.56 121.16 C156.9 120.93 156.2 120.72 155.56 120.42 C154.93 120.12 154.32 119.75 153.76 119.34 C153.19 118.94 152.66 118.48 152.16 118 C151.65 117.52 151.17 117 150.73 116.47 C150.29 115.93 149.87 115.37 149.49 114.78 C149.12 114.19 148.77 113.58 148.48 112.94 C148.2 112.31 147.97 111.64 147.77 110.97 C147.57 110.3 147.54 109.58 147.27 108.94 C147 108.31 146.49 107.78 146.15 107.17 C145.81 106.56 145.47 105.93 145.21 105.28 C144.96 104.63 144.81 103.94 144.61 103.26 C144.4 102.59 144.19 101.92 143.98 101.23 C143.78 100.54 143.43 99.85 143.39 99.14 C143.34 98.44 143.58 97.71 143.7 97 C143.82 96.29 144.01 95.6 144.11 94.9 C144.21 94.21 144.26 93.52 144.31 92.81 C144.35 92.11 144.54 91.45 144.39 90.69 C144.24 89.93 143.84 89.13 143.41 88.24 C142.98 87.35 142.4 86.4 141.8 85.36 C141.21 84.32 139.96 82.92 139.86 81.99 C139.77 81.06 140.69 80.48 141.22 79.8 C141.75 79.12 142.24 78.39 143.05 77.92 C143.87 77.45 144.97 77.13 146.12 76.97 C147.26 76.8 148.59 76.79 149.93 76.92 C151.27 77.05 153.16 77.77 154.16 77.76 C155.16 77.74 155.39 77.17 155.93 76.83 C156.48 76.5 156.98 76.14 157.44 75.73 C157.91 75.31 158.31 74.85 158.73 74.36 C159.14 73.87 159.52 73.34 159.92 72.79 C160.32 72.24 160.72 71.67 161.12 71.06 C161.53 70.45 161.92 69.78 162.35 69.11 C162.77 68.44 163.21 67.74 163.69 67.03 C164.16 66.31 164.64 65.54 165.18 64.83 C165.72 64.13 166.31 63.43 166.94 62.81 C167.57 62.18 168.25 61.62 168.96 61.1 C169.67 60.57 170.41 60.07 171.19 59.67 C171.96 59.27 172.77 58.95 173.59 58.71 C174.41 58.48 175.26 58.34 176.1 58.26 C176.94 58.17 177.79 58.23 178.64 58.21 C179.5 58.19 180.36 58.13 181.22 58.14 C182.08 58.15 182.95 58.17 183.8 58.28 C184.66 58.39 185.5 58.58 186.34 58.8 C187.17 59.02 187.96 59.37 188.79 59.62 C189.62 59.87 190.46 60.06 191.3 60.31 C192.14 60.55 192.99 60.78 193.81 61.09 C194.63 61.4 195.41 61.79 196.22 62.14 C197.04 62.49 197.86 62.84 198.69 63.19 C199.53 63.53 200.4 63.85 201.25 64.22 C202.1 64.6 202.96 64.99 203.8 65.42 C204.64 65.84 205.46 66.32 206.3 66.8 C207.14 67.27 208.08 67.7 208.85 68.28 C209.61 68.86 210.29 69.56 210.92 70.28 C211.54 71.01 212.11 71.79 212.58 72.62 C213.06 73.45 213.49 74.33 213.76 75.25 C214.04 76.18 214.15 77.2 214.26 78.18 C214.36 79.16 214.28 80.2 214.4 81.14 C214.52 82.07 214.76 82.93 214.98 83.8 C215.2 84.68 215.44 85.53 215.71 86.39 C215.99 87.24 216.3 88.08 216.63 88.94 C216.97 89.79 217.39 90.64 217.74 91.52 C218.08 92.4 218.46 93.3 218.68 94.21 C218.91 95.12 219.01 96.06 219.1 97Z" fill="#a6d8ea"/>
<path d="M216.54 97 C216.66 97.88 216.75 98.78 216.77 99.67 C216.79 100.56 216.75 101.45 216.66 102.34 C216.58 103.23 216.37 104.1 216.26 104.99 C216.14 105.88 216.12 106.79 215.97 107.68 C215.81 108.57 215.61 109.46 215.32 110.31 C215.02 111.16 214.59 111.97 214.2 112.78 C213.81 113.59 213.38 114.38 212.95 115.17 C212.53 115.96 212.12 116.77 211.65 117.52 C211.17 118.28 210.59 118.97 210.1 119.72 C209.62 120.47 209.23 121.29 208.72 122.03 C208.22 122.77 207.68 123.5 207.07 124.16 C206.47 124.82 205.77 125.41 205.1 126 C204.42 126.59 203.76 127.2 203.02 127.69 C202.27 128.19 201.47 128.63 200.64 128.98 C199.8 129.33 198.89 129.56 198.02 129.8 C197.15 130.05 196.29 130.28 195.42 130.46 C194.55 130.63 193.67 130.78 192.79 130.85 C191.91 130.92 191.01 130.9 190.14 130.89 C189.26 130.87 188.49 131.13 187.56 130.77 C186.64 130.4 185.52 129.39 184.59 128.68 C183.66 127.98 182.79 127.25 181.98 126.54 C181.16 125.84 180.41 125.13 179.71 124.43 C179.01 123.72 178.36 123.01 177.76 122.32 C177.16 121.63 176.63 120.66 176.1 120.3 C175.57 119.94 175.09 120.22 174.58 120.17 C174.08 120.13 173.57 120.07 173.07 120.01 C172.57 119.96 172.06 119.91 171.55 119.87 C171.04 119.82 170.52 119.81 170 119.76 C169.48 119.71 168.96 119.64 168.44 119.56 C167.92 119.48 167.42 119.35 166.87 119.29 C166.32 119.23 165.74 119.23 165.15 119.2 C164.57 119.16 163.95 119.15 163.36 119.07 C162.76 119 162.18 118.86 161.57 118.75 C160.96 118.63 160.33 118.52 159.69 118.38 C159.06 118.24 158.38 118.12 157.76 117.91 C157.15 117.69 156.57 117.4 156.02 117.08 C155.47 116.76 154.95 116.38 154.46 115.98 C153.96 115.58 153.48 115.15 153.04 114.69 C152.6 114.24 152.17 113.75 151.8 113.24 C151.42 112.73 151.07 112.19 150.78 111.62 C150.49 111.05 150.27 110.44 150.08 109.83 C149.88 109.23 149.89 108.54 149.61 107.97 C149.32 107.41 148.74 106.96 148.35 106.42 C147.95 105.88 147.56 105.32 147.26 104.73 C146.95 104.14 146.78 103.51 146.52 102.88 C146.27 102.26 146 101.64 145.75 101 C145.5 100.35 145.08 99.7 145.02 99.04 C144.96 98.37 145.25 97.67 145.4 97 C145.55 96.33 145.79 95.68 145.92 95.02 C146.05 94.37 146.13 93.72 146.2 93.06 C146.27 92.41 146.5 91.8 146.34 91.08 C146.17 90.36 145.7 89.59 145.19 88.72 C144.68 87.85 143.99 86.91 143.28 85.86 C142.57 84.81 141.05 83.33 140.92 82.43 C140.79 81.52 141.87 81.02 142.48 80.42 C143.09 79.82 143.65 79.16 144.59 78.81 C145.54 78.46 146.82 78.3 148.14 78.32 C149.47 78.34 151 78.54 152.53 78.92 C154.07 79.29 156.25 80.37 157.36 80.56 C158.46 80.75 158.63 80.28 159.17 80.07 C159.71 79.86 160.17 79.62 160.59 79.31 C161 79 161.34 78.62 161.68 78.2 C162.01 77.79 162.3 77.31 162.61 76.81 C162.91 76.31 163.21 75.78 163.51 75.19 C163.8 74.6 164.08 73.94 164.39 73.26 C164.71 72.59 165.03 71.88 165.39 71.14 C165.75 70.41 166.11 69.59 166.54 68.85 C166.98 68.11 167.46 67.37 167.98 66.71 C168.51 66.05 169.1 65.46 169.72 64.9 C170.33 64.35 170.99 63.81 171.67 63.39 C172.36 62.97 173.09 62.63 173.83 62.38 C174.57 62.14 175.34 62 176.1 61.92 C176.86 61.84 177.63 61.91 178.4 61.89 C179.17 61.87 179.95 61.79 180.74 61.79 C181.52 61.78 182.31 61.78 183.09 61.87 C183.86 61.97 184.63 62.15 185.38 62.36 C186.13 62.58 186.84 62.92 187.59 63.15 C188.34 63.38 189.11 63.53 189.88 63.73 C190.65 63.93 191.44 64.11 192.19 64.37 C192.94 64.63 193.65 64.99 194.41 65.29 C195.16 65.58 195.93 65.87 196.72 66.14 C197.51 66.42 198.35 66.65 199.17 66.94 C199.99 67.23 200.82 67.53 201.64 67.88 C202.46 68.22 203.26 68.61 204.1 69 C204.94 69.39 205.89 69.71 206.65 70.21 C207.42 70.7 208.09 71.33 208.69 71.99 C209.3 72.65 209.85 73.38 210.3 74.15 C210.74 74.93 211.14 75.75 211.37 76.64 C211.59 77.52 211.62 78.52 211.66 79.47 C211.69 80.41 211.5 81.42 211.56 82.31 C211.63 83.2 211.84 83.99 212.03 84.8 C212.23 85.61 212.46 86.4 212.74 87.18 C213.01 87.97 213.34 88.74 213.7 89.52 C214.07 90.3 214.55 91.08 214.93 91.89 C215.32 92.7 215.76 93.53 216.03 94.38 C216.29 95.24 216.41 96.12 216.54 97Z" fill="#c4e5f2"/>
<path d="M137 72 C137.67 70.83 140 69.83 142 69 C144 68.17 146.67 67.42 149 67 C151.33 66.58 153.67 66.42 156 66.5 C158.33 66.58 161.17 66.92 163 67.5 C164.83 68.08 166.33 68.75 167 70 C167.67 71.25 167.5 73.33 167 75 C166.5 76.67 165.67 78.67 164 80 C162.33 81.33 159.33 82.67 157 83 C154.67 83.33 152.5 82.58 150 82 C147.5 81.42 144 80.5 142 79.5 C140 78.5 138.83 77.25 138 76 C137.17 74.75 136.33 73.17 137 72Z" fill="#d5eef7" filter="url(#bl2)"/>
<path d="M139 73 C139.75 72.08 142 71.08 144 70.5 C146 69.92 148.67 69.67 151 69.5 C153.33 69.33 155.83 69.25 158 69.5 C160.17 69.75 162.75 70.08 164 71 C165.25 71.92 165.75 73.58 165.5 75 C165.25 76.42 163.92 78.33 162.5 79.5 C161.08 80.67 159.08 81.67 157 82 C154.92 82.33 152.33 82 150 81.5 C147.67 81 144.75 79.92 143 79 C141.25 78.08 140.17 77 139.5 76 C138.83 75 138.25 73.92 139 73Z" fill="#f5fafc" filter="url(#bl2)"/>
<path d="M150 118 C151.67 116.5 156.33 118.83 160 119 C163.67 119.17 168.67 118.67 172 119 C175.33 119.33 179 119.17 180 121 C181 122.83 179.67 127.67 178 130 C176.33 132.33 173.33 134.33 170 135 C166.67 135.67 161.33 135.17 158 134 C154.67 132.83 151.33 130.67 150 128 C148.67 125.33 148.33 119.5 150 118Z" fill="#96d2e6" filter="url(#bl2)"/>
<path d="M159 124 C159.83 122.83 163.17 122.83 165 123 C166.83 123.17 169 123.83 170 125 C171 126.17 171.67 128.75 171 130 C170.33 131.25 167.83 132.5 166 132.5 C164.17 132.5 161.17 131.42 160 130 C158.83 128.58 158.17 125.17 159 124Z" fill="#b8e0f0" filter="url(#bl2)"/>
<path d="M180 119 C181.17 118.17 185.33 117.67 188 117.5 C190.67 117.33 194.5 117.42 196 118 C197.5 118.58 198.17 120.17 197 121 C195.83 121.83 191.67 122.75 189 123 C186.33 123.25 182.5 123.17 181 122.5 C179.5 121.83 178.83 119.83 180 119Z" fill="#cfeaf5" filter="url(#bl2)"/>
<path d="M138 84 C138.33 81.83 140.83 82 142 83 C143.17 84 144.17 87.17 145 90 C145.83 92.83 146.83 97 147 100 C147.17 103 146.83 107 146 108 C145.17 109 143 108 142 106 C141 104 140.67 99.67 140 96 C139.33 92.33 137.67 86.17 138 84Z" fill="#e2f3f9" filter="url(#bl2)"/>
</g>
<g stroke="#8a8a8a" stroke-opacity="0.22" stroke-width="0.6" stroke-dasharray="2 1.5" fill="none"><line x1="176.1" y1="26.7" x2="176.1" y2="168" /><line x1="114.61" y1="61.5" x2="237.59" y2="132.5"/><line x1="114.61" y1="132.5" x2="237.59" y2="61.5"/><circle cx="176.1" cy="97" r="25.4" fill="none"/><circle cx="176.1" cy="97" r="51.8" fill="none"/></g>
<g transform="translate(176.1 97)">
<path d="M-39.38 -23.34 L-39.58 -22.83 L-40.46 -24.48 L-40.38 -23.05 L-40.28 -22.07 L-39.78 -21.29 L-39.2 -20.57 L-38.99 -19.6 L-38.23 -18.95 L-38 -18 L-37.24 -17.42 L-36.7 -16.68 L-36.33 -15.81 L-35.66 -14.78 L-34.38 -14.15 L-34.3 -13.18 L-34.39 -12.12 L-33.28 -11.34 L-32.22 -10.64 L-31.23 -9.83 L-31.18 -8.61 L-30.14 -7.79 L-30.25 -6.55 L-29.62 -5.56 L-29.29 -4.52 L-29.54 -3.51 L-29.02 -4.32 L-28.3 -5.04 L-28.29 -6.11 L-27.68 -6.78 L-27.71 -6.81 L-27.89 -5.44 L-28.66 -3.94 L-28.64 -2.86 L-28.92 -1.91 L-29.2 -0.97 L-29.71 -0.05 L-29.44 1.13 L-29.31 2.41 L-30.59 3.43 L-31.28 4.98 L-30.54 6.35 L-29.58 6.69 L-28.55 6.6 L-27.79 5.6 L-26.73 5.05 L-25.61 5 L-25.65 6.18 L-25.34 7.24 L-25.17 8.18 L-25.79 9 L-25.33 9.88 L-25.33 10.88 L-25.32 11.95 L-24.42 12.48 L-24.04 13.39 L-22.99 14.79 L-22.57 16.52 L-21.87 17.17 L-21.03 17.67 L-19.97 18.42 L-18.65 18.63 L-17.57 19.27 L-16.41 19.58 L-15.45 20.2 L-14.48 20.75 L-13.39 20.41 L-12.5 19.95 L-11.61 19.45 L-10.71 19.38 L-9.55 19.59 L-8.73 20.56 L-7.2 20.28 L-5.44 20.4 L-4.44 20.36 L-3.42 20.07 L-2.43 20.22 L-1.46 20.49 L-0.43 20.12 L0.54 20.51 L1.54 20.34 L2.53 20.35 L3.53 20.35 L4.63 20.9 L6.03 20.73 L6.09 21.64 L6.13 22.55 L5.94 23.38 L6.21 24.43 L5.71 25.25 L5.38 26.13 L5.03 26.99 L4.96 27.89 L4.83 28.92 L5.76 29.9 L6.21 31.08 L7.69 31.63 L9.42 32.17 L10.58 32.4 L11.83 32.02 L12.96 32.25 L14.05 32.49 L15.21 32.49 L16.37 32.67 L17.51 32.53 L18.63 32.1 L19.97 31.91 L21.28 32.22 L22.03 31.62 L22.88 31.17 L23.97 30.84 L24.78 30.13 L25.66 29.87 L26.56 29.8 L27.41 29.7 L28.68 30 L29.27 28.84 L29.14 27.8 L29.94 26.89 L30.66 25.87 L31.19 24.18 L31.79 23.41 L32.22 22.51 L33.08 21.99 L33.27 21.14 L33.45 19.98 L33.8 18.71 L34.73 17.91 L35.79 17.22 L37.07 16.55 L37.24 15.38 L37.56 14.32 L37.38 13.44 L37.43 12.51 L37.18 11.34 L38.31 11.25 L38.98 10.54 L39.56 9.71 L40.35 9.47 L39.61 8.63 L38.97 7.67 L38.13 6.66 L38.68 5.64 L38.82 4.62 L38.49 3.57 L38.71 2.44 L38.66 1.21 L38.99 0.36 L39.46 -0.44 L39.73 -1.19 L39.71 -2.29 L38.92 -3.01 L38.27 -3.73 L38.22 -4.91 L37.36 -5.47 L36.52 -6.05 L36.08 -6.99 L34.81 -7.04 L33.77 -7.75 L33.27 -8.9 L32.49 -9.53 L33.09 -11.2 L32.18 -12.47 L33.17 -12.97 L33.94 -13.48 L34.47 -14.32 L34.43 -15.24 L34.7 -16.22 L33.63 -17.66 L33.38 -18.81 L33.6 -19.93 L34.1 -21.02 L34.4 -22.35 L33.98 -23.29 L33.48 -24.37 L32.57 -24.72 L31.53 -24.79 L30.72 -25.37 L29.67 -25.64 L28.58 -25.8 L27.62 -26.16 L26.62 -26.51 L25.59 -26.68 L24.6 -27.16 L23.62 -27.5 L22.55 -27.3 L21.81 -27.65 L21.31 -28.59 L20.66 -29.61 L19.36 -30.02 L18.34 -29.81 L17.3 -29.69 L16.22 -29.55 L15.09 -29.74 L14.03 -30.19 L13.15 -30.95 L12.15 -31.51 L11.06 -31.86 L10.14 -32.55 L9.02 -32.83 L7.92 -32.51 L6.4 -32.51 L5.63 -33.72 L3.91 -34.17 L3.02 -33.75 L2.21 -33.18 L1.39 -32.59 L0.28 -32.6 L-0.6 -31.91 L-1.73 -32.23 L-2.77 -32.34 L-4.39 -32.37 L-5.89 -31.99 L-6.97 -30.96 L-7.03 -29.97 L-6.88 -28.88 L-7.6 -27.44 L-7.61 -26.49 L-8.11 -25.67 L-8.8 -24.17 L-9 -23.13 L-9.94 -22.64 L-10.8 -21.76 L-11.42 -20.61 L-11.32 -19.55 L-11.58 -18.54 L-11.42 -17.58 L-10.96 -16.48 L-10.91 -15.57 L-11.88 -15.28 L-12.86 -15.14 L-13.94 -15.27 L-14.94 -14.78 L-16.16 -14.96 L-17.36 -14.81 L-18.48 -14.2 L-19.65 -14.06 L-20.7 -13.79 L-21.63 -13.54 L-22.31 -12.87 L-22.59 -11.96 L-23.26 -11.22 L-23.92 -12.09 L-23.99 -13.38 L-24.84 -13.63 L-24.61 -14.57 L-25.68 -15.01 L-26.7 -15.57 L-28.07 -15.7 L-29.15 -16.45 L-30.1 -16.7 L-30.89 -17.22 L-31.69 -17.71 L-32.65 -17.9 L-33.34 -18.56 L-34.25 -18.8 L-35.13 -19.09 L-35.67 -19.96 L-36.9 -20.42 L-37.72 -21.39 L-37.96 -22.34 L-38.46 -23.17 L-39.01 -23.97 L-39.31 -24.9Z" fill="#c2c2c2" stroke="#262626" stroke-width="0.75" stroke-linejoin="round"/>
<path d="M-39.53 -23.29 L-39.25 -23.04 L-40.16 -24.43 L-40.68 -22.9 L-40.14 -22.14 L-39.76 -21.3 L-39.58 -20.35 L-38.99 -19.6 L-38.54 -18.77 L-38.14 -17.9 L-37.64 -17.12 L-36.9 -16.53 L-36.41 -15.73 L-35.51 -14.94 L-34.65 -14.11 L-34.59 -13.14 L-34.33 -12.22 L-33.07 -11.55 L-32.17 -10.69 L-31.5 -9.72 L-30.96 -8.7 L-30.61 -7.6 L-30.22 -6.55 L-29.65 -5.56 L-29.56 -4.46 L-29.1 -3.31 L-28.75 -4.2 L-28.66 -5.21 L-28.26 -6.1 L-27.59 -6.8 L-27.41 -6.73 L-27.86 -5.43 L-28.43 -3.87 L-29.01 -2.97 L-29.37 -1.99 L-29.6 -1.05 L-29.41 -0.07 L-29.6 1.14 L-29.46 2.26 L-30.38 3.53 L-31.48 5.09 L-30.54 6.72 L-29.58 6.35 L-28.49 6.67 L-27.71 5.7 L-26.73 4.99 L-25.84 5.04 L-25.55 6.16 L-25.01 7.29 L-25.28 8.16 L-25.46 9.05 L-25.52 9.92 L-25.24 10.86 L-25.11 11.79 L-24.7 12.68 L-23.83 13.29 L-23.3 14.95 L-22.48 16.41 L-21.61 16.84 L-20.98 17.54 L-19.88 18.24 L-18.69 18.76 L-17.46 18.93 L-16.5 19.73 L-15.5 20.27 L-14.34 20.98 L-13.61 20.04 L-12.58 19.53 L-11.65 19.24 L-10.73 19.41 L-9.64 19.75 L-8.93 20.38 L-8.58 19.46 L-8.15 18.42 L-8.79 17.28 L-9.64 16.2 L-9.76 15.07 L-9.55 14.12 L-8.79 13.57 L-7.91 13.23 L-7.03 11.93 L-6.45 10.76 L-5.56 9.72 L-5.51 8.54 L-5.49 7.29 L-5.03 6.87 L-4.23 7.05 L-3.92 8.03 L-3.31 8.74 L-2.51 9.48 L-1.49 9.49 L-0.54 9.88 L0.43 9.68 L1.24 10.2 L1.95 10.85 L2.59 11.76 L3.6 12.31 L4.43 13.22 L5.05 14.29 L5.37 15.43 L5.59 16.69 L5 17.81 L4.46 18.73 L5.15 19.73 L5.87 20.76 L6.01 21.65 L5.92 22.58 L6.29 23.48 L5.93 24.35 L5.83 25.28 L5.49 26.14 L5.54 27.06 L5.3 27.93 L5.28 28.7 L5.52 30.02 L6.18 31.15 L7.69 31.57 L9.47 31.89 L10.59 32.3 L11.82 32.07 L12.89 32.63 L14.05 32.64 L15.21 32.68 L16.4 32.84 L17.49 32.42 L18.63 32.27 L19.97 32.36 L21.45 32.46 L22.04 31.63 L22.94 31.27 L23.86 30.65 L24.77 30.07 L25.65 29.81 L26.54 29.65 L27.5 29.37 L28.8 30 L28.77 28.84 L29.08 27.75 L29.64 26.65 L30.33 25.7 L31.09 24.1 L31.98 23.56 L32.59 22.79 L33.07 21.99 L33.46 21.17 L33.62 20.01 L33.86 18.79 L34.87 18.08 L35.76 17.17 L37.35 16.6 L37.47 15.43 L38.03 14.25 L37.89 13.36 L37.54 12.5 L37.31 11.5 L38.29 11.23 L38.87 10.4 L39.66 9.85 L40.3 9.52 L39.65 8.6 L39.04 7.63 L38.39 6.67 L38.28 5.63 L38.47 4.6 L38.27 3.53 L38.6 2.42 L38.74 1.24 L39.2 0.44 L39.35 -0.48 L39.66 -1.16 L39.4 -2.17 L39 -3.08 L38.58 -3.95 L37.99 -4.71 L37.44 -5.54 L36.77 -6.26 L36.11 -7.07 L34.97 -7.53 L33.71 -7.7 L32.94 -8.64 L32.29 -9.88 L31.21 -9.61 L30.21 -10.03 L29.2 -10.12 L27.87 -10.94 L28.85 -11.38 L30 -11.61 L31.13 -12 L32.32 -12.22 L33.29 -12.75 L33.99 -13.48 L34.3 -14.34 L34.41 -15.24 L34.67 -16.21 L33.9 -17.7 L33.73 -18.86 L33.43 -19.99 L33.97 -21.07 L34.25 -22.3 L33.87 -23.25 L33.34 -24.04 L32.4 -24.35 L31.53 -24.79 L30.69 -25.29 L29.63 -25.55 L28.75 -26.27 L27.68 -26.52 L26.66 -26.73 L25.63 -26.91 L24.6 -27.11 L23.57 -27.18 L22.52 -27.1 L21.68 -27.57 L21.12 -28.48 L20.48 -29.35 L19.34 -30.14 L18.3 -30.08 L17.31 -29.67 L16.27 -29.88 L15.1 -29.82 L13.88 -29.94 L12.95 -30.61 L12.08 -31.41 L11 -31.75 L10.14 -32.56 L9.03 -32.85 L7.86 -32.79 L6.26 -32.4 L5.53 -33.44 L3.95 -34.07 L3.04 -33.71 L2.18 -33.25 L1.28 -32.86 L0.44 -32.21 L-0.6 -31.85 L-1.73 -31.9 L-2.83 -32.14 L-4.38 -32.35 L-5.98 -32.04 L-6.43 -30.84 L-6.66 -29.89 L-6.98 -28.94 L-7.94 -27.44 L-7.95 -26.49 L-7.94 -25.58 L-8.55 -23.99 L-9.2 -23.28 L-9.75 -22.49 L-10.52 -21.54 L-11.12 -20.57 L-11.62 -19.59 L-11.4 -18.51 L-11.89 -17.42 L-11.49 -16.3 L-10.91 -15.48 L-9.87 -15.31 L-9.37 -14.53 L-8.86 -13.96 L-8.46 -12.71 L-8.23 -11.39 L-8.67 -10.18 L-9.49 -9.14 L-9.53 -8.12 L-10.08 -7.32 L-10.4 -6.25 L-12.03 -6.26 L-13.05 -6.14 L-13.87 -5.42 L-14.93 -5.42 L-15.84 -4.94 L-16.87 -4.64 L-17.72 -4.09 L-19.39 -4.22 L-20.81 -5.02 L-22.21 -6.13 L-22.76 -7.35 L-23.1 -8.66 L-23.04 -9.97 L-23.24 -11.24 L-23.78 -12.16 L-24.28 -13.02 L-24.81 -13.63 L-24.63 -14.51 L-25.65 -15.11 L-26.88 -15.07 L-28.01 -15.87 L-29.21 -16.34 L-30.2 -16.54 L-30.79 -17.38 L-31.64 -17.79 L-32.41 -18.38 L-33.37 -18.51 L-34.18 -18.94 L-35 -19.35 L-35.64 -19.99 L-36.72 -20.63 L-37.76 -21.37 L-38.13 -22.26 L-38.6 -23.1 L-39.11 -23.93 L-39.1 -24.88Z" fill="#f4f4f4" stroke="#3a3a3a" stroke-width="0.5" stroke-linejoin="round"/>
<path d="M-39.38 -23.34 L-39.58 -22.83 L-40.46 -24.48 L-40.38 -23.05 L-40.28 -22.07 L-39.78 -21.29 L-39.2 -20.57 L-38.99 -19.6 L-38.23 -18.95 L-38 -18 L-37.24 -17.42 L-36.7 -16.68 L-36.33 -15.81 L-35.66 -14.78 L-34.38 -14.15 L-34.3 -13.18 L-34.39 -12.12 L-33.28 -11.34 L-32.22 -10.64 L-31.23 -9.83 L-31.18 -8.61 L-30.14 -7.79 L-30.25 -6.55 L-29.62 -5.56 L-29.29 -4.52 L-29.54 -3.51 L-29.02 -4.32 L-28.3 -5.04 L-28.29 -6.11 L-27.68 -6.78 L-27.71 -6.81 L-27.89 -5.44 L-28.66 -3.94 L-28.64 -2.86 L-28.92 -1.91 L-29.2 -0.97 L-29.71 -0.05 L-29.44 1.13 L-29.31 2.41 L-30.59 3.43 L-31.28 4.98 L-30.54 6.35 L-29.58 6.69 L-28.55 6.6 L-27.79 5.6 L-26.73 5.05 L-25.61 5 L-25.65 6.18 L-25.34 7.24 L-25.17 8.18 L-25.79 9 L-25.33 9.88 L-25.33 10.88 L-25.32 11.95 L-24.42 12.48 L-24.04 13.39 L-22.99 14.79 L-22.57 16.52 L-21.87 17.17 L-21.03 17.67 L-19.97 18.42 L-18.65 18.63 L-17.57 19.27 L-16.41 19.58 L-15.45 20.2 L-14.48 20.75 L-13.39 20.41 L-12.5 19.95 L-11.61 19.45 L-10.71 19.38 L-9.55 19.59 L-8.73 20.56 L-7.2 20.28 L-5.44 20.4 L-4.44 20.36 L-3.42 20.07 L-2.43 20.22 L-1.46 20.49 L-0.43 20.12 L0.54 20.51 L1.54 20.34 L2.53 20.35 L3.53 20.35 L4.63 20.9 L6.03 20.73 L6.09 21.64 L6.13 22.55 L5.94 23.38 L6.21 24.43 L5.71 25.25 L5.38 26.13 L5.03 26.99 L4.96 27.89 L4.83 28.92 L5.76 29.9 L6.21 31.08 L7.69 31.63 L9.42 32.17 L10.58 32.4 L11.83 32.02 L12.96 32.25 L14.05 32.49 L15.21 32.49 L16.37 32.67 L17.51 32.53 L18.63 32.1 L19.97 31.91 L21.28 32.22 L22.03 31.62 L22.88 31.17 L23.97 30.84 L24.78 30.13 L25.66 29.87 L26.56 29.8 L27.41 29.7 L28.68 30 L29.27 28.84 L29.14 27.8 L29.94 26.89 L30.66 25.87 L31.19 24.18 L31.79 23.41 L32.22 22.51 L33.08 21.99 L33.27 21.14 L33.45 19.98 L33.8 18.71 L34.73 17.91 L35.79 17.22 L37.07 16.55 L37.24 15.38 L37.56 14.32 L37.38 13.44 L37.43 12.51 L37.18 11.34 L38.31 11.25 L38.98 10.54 L39.56 9.71 L40.35 9.47 L39.61 8.63 L38.97 7.67 L38.13 6.66 L38.68 5.64 L38.82 4.62 L38.49 3.57 L38.71 2.44 L38.66 1.21 L38.99 0.36 L39.46 -0.44 L39.73 -1.19 L39.71 -2.29 L38.92 -3.01 L38.27 -3.73 L38.22 -4.91 L37.36 -5.47 L36.52 -6.05 L36.08 -6.99 L34.81 -7.04 L33.77 -7.75 L33.27 -8.9 L32.49 -9.53 L33.09 -11.2 L32.18 -12.47 L33.17 -12.97 L33.94 -13.48 L34.47 -14.32 L34.43 -15.24 L34.7 -16.22 L33.63 -17.66 L33.38 -18.81 L33.6 -19.93 L34.1 -21.02 L34.4 -22.35 L33.98 -23.29 L33.48 -24.37 L32.57 -24.72 L31.53 -24.79 L30.72 -25.37 L29.67 -25.64 L28.58 -25.8 L27.62 -26.16 L26.62 -26.51 L25.59 -26.68 L24.6 -27.16 L23.62 -27.5 L22.55 -27.3 L21.81 -27.65 L21.31 -28.59 L20.66 -29.61 L19.36 -30.02 L18.34 -29.81 L17.3 -29.69 L16.22 -29.55 L15.09 -29.74 L14.03 -30.19 L13.15 -30.95 L12.15 -31.51 L11.06 -31.86 L10.14 -32.55 L9.02 -32.83 L7.92 -32.51 L6.4 -32.51 L5.63 -33.72 L3.91 -34.17 L3.02 -33.75 L2.21 -33.18 L1.39 -32.59 L0.28 -32.6 L-0.6 -31.91 L-1.73 -32.23 L-2.77 -32.34 L-4.39 -32.37 L-5.89 -31.99 L-6.97 -30.96 L-7.03 -29.97 L-6.88 -28.88 L-7.6 -27.44 L-7.61 -26.49 L-8.11 -25.67 L-8.8 -24.17 L-9 -23.13 L-9.94 -22.64 L-10.8 -21.76 L-11.42 -20.61 L-11.32 -19.55 L-11.58 -18.54 L-11.42 -17.58 L-10.96 -16.48 L-10.91 -15.57 L-11.88 -15.28 L-12.86 -15.14 L-13.94 -15.27 L-14.94 -14.78 L-16.16 -14.96 L-17.36 -14.81 L-18.48 -14.2 L-19.65 -14.06 L-20.7 -13.79 L-21.63 -13.54 L-22.31 -12.87 L-22.59 -11.96 L-23.26 -11.22 L-23.92 -12.09 L-23.99 -13.38 L-24.84 -13.63 L-24.61 -14.57 L-25.68 -15.01 L-26.7 -15.57 L-28.07 -15.7 L-29.15 -16.45 L-30.1 -16.7 L-30.89 -17.22 L-31.69 -17.71 L-32.65 -17.9 L-33.34 -18.56 L-34.25 -18.8 L-35.13 -19.09 L-35.67 -19.96 L-36.9 -20.42 L-37.72 -21.39 L-37.96 -22.34 L-38.46 -23.17 L-39.01 -23.97 L-39.31 -24.9Z" fill="none" stroke="#262626" stroke-width="0.75" stroke-linejoin="round"/>
</g>
</g>
<g clip-path="url(#ax1)">
<rect x="243.3" y="19.7" width="154.6" height="160" fill="#fff"/>
<path d="M242.8 19.8 L246 19.8 L246.8 34.3 L247.6 42.3 L249.2 52 L252.5 58.4 L258.9 63.2 L265.3 68.1 L270.1 70.5 L272.1 72 L273.6 74.5 L271.8 76.5 L267.7 77 L263.7 76.6 L255.7 72.9 L249.2 69.7 L242.8 68.1Z" fill="#f5f5f5"/>
<g stroke="#a3a3a3" stroke-width="0.6" stroke-dasharray="2 1.3" fill="none"><line x1="330.7" y1="26.7" x2="330.7" y2="168" /><line x1="269.21" y1="61.5" x2="392.19" y2="132.5"/><line x1="269.21" y1="132.5" x2="392.19" y2="61.5"/><circle cx="330.7" cy="97" r="25.4" fill="none"/><circle cx="330.7" cy="97" r="51.8" fill="none"/></g>
<g clip-path="url(#rc1)">
<path d="M287.6 19.7 L407.6 63 L370.6 164 L250.6 121Z" fill="#3e7a9b"/>
<path d="M271.6 62 L273.1 63 L272.6 67 L274.1 70 L273.1 73 L274.1 75.5 L272.1 78 L269.6 77.5 L271.1 74 L270.6 70 L271.6 66Z" fill="#dfe9ee"/>
<path d="M392.7 97 C392.67 98.35 392.64 99.7 392.59 101.06 C392.54 102.41 392.48 103.76 392.39 105.12 C392.3 106.48 392.2 107.84 392.06 109.21 C391.92 110.57 391.76 111.94 391.55 113.31 C391.35 114.67 391.11 116.04 390.82 117.41 C390.54 118.77 390.18 120.13 389.83 121.49 C389.47 122.86 389.09 124.22 388.7 125.6 C388.31 126.98 387.92 128.39 387.47 129.78 C387.02 131.17 386.55 132.58 385.99 133.95 C385.43 135.31 384.83 136.69 384.12 137.99 C383.41 139.29 382.63 140.58 381.74 141.76 C380.85 142.94 379.87 144.08 378.78 145.08 C377.7 146.09 376.5 146.99 375.25 147.8 C374 148.61 372.66 149.3 371.31 149.92 C369.95 150.54 368.53 151.05 367.12 151.51 C365.71 151.97 364.27 152.34 362.85 152.68 C361.43 153.02 359.99 153.29 358.59 153.55 C357.19 153.82 355.8 154.07 354.43 154.28 C353.05 154.49 351.69 154.69 350.33 154.82 C348.97 154.95 347.6 155.02 346.26 155.06 C344.91 155.1 343.57 155.09 342.25 155.05 C340.92 155.01 339.61 154.93 338.31 154.83 C337.02 154.74 335.74 154.61 334.47 154.47 C333.2 154.33 331.94 154.16 330.7 154 C329.46 153.84 328.22 153.67 327 153.48 C325.77 153.3 324.55 153.11 323.34 152.89 C322.13 152.67 320.92 152.44 319.73 152.17 C318.53 151.9 317.34 151.61 316.16 151.27 C314.98 150.93 313.81 150.56 312.66 150.14 C311.51 149.72 310.38 149.25 309.27 148.74 C308.16 148.23 307.07 147.67 306 147.09 C304.93 146.5 303.88 145.89 302.85 145.24 C301.82 144.59 300.81 143.91 299.83 143.2 C298.85 142.48 297.89 141.74 296.97 140.96 C296.05 140.18 295.15 139.36 294.29 138.52 C293.43 137.68 292.6 136.8 291.81 135.89 C291.02 134.98 290.27 134.04 289.56 133.08 C288.84 132.12 288.17 131.13 287.54 130.12 C286.9 129.11 286.31 128.08 285.75 127.04 C285.19 125.99 284.67 124.93 284.19 123.85 C283.71 122.78 283.27 121.69 282.86 120.59 C282.45 119.5 282.06 118.4 281.73 117.28 C281.41 116.17 281.14 115.03 280.93 113.9 C280.72 112.76 280.58 111.6 280.47 110.46 C280.36 109.32 280.31 108.17 280.25 107.03 C280.19 105.9 280.18 104.78 280.14 103.66 C280.09 102.54 280.07 101.43 280 100.32 C279.92 99.21 279.83 98.12 279.7 97 C279.57 95.88 279.38 94.77 279.2 93.62 C279.02 92.48 278.8 91.33 278.59 90.14 C278.39 88.96 278.17 87.75 277.98 86.51 C277.79 85.28 277.61 84.02 277.47 82.74 C277.33 81.45 277.2 80.14 277.15 78.82 C277.09 77.5 277.1 76.17 277.11 74.8 C277.13 73.44 277.18 72.06 277.24 70.64 C277.3 69.21 277.34 67.74 277.46 66.26 C277.57 64.78 277.71 63.26 277.95 61.76 C278.19 60.25 278.49 58.73 278.9 57.25 C279.31 55.77 279.8 54.29 280.42 52.9 C281.04 51.52 281.77 50.16 282.62 48.92 C283.46 47.67 284.44 46.51 285.48 45.43 C286.51 44.35 287.65 43.36 288.83 42.43 C290.01 41.51 291.26 40.67 292.54 39.89 C293.81 39.1 295.14 38.4 296.48 37.73 C297.81 37.05 299.18 36.45 300.55 35.86 C301.91 35.27 303.29 34.7 304.68 34.18 C306.07 33.66 307.47 33.16 308.88 32.73 C310.3 32.31 311.74 31.95 313.19 31.64 C314.63 31.33 316.09 31.07 317.54 30.86 C319 30.64 320.46 30.48 321.93 30.35 C323.39 30.22 324.85 30.14 326.31 30.08 C327.78 30.02 329.24 30 330.7 30 C332.16 30 333.62 30.03 335.09 30.09 C336.55 30.16 338.01 30.25 339.47 30.39 C340.93 30.53 342.39 30.7 343.84 30.92 C345.3 31.14 346.75 31.4 348.19 31.71 C349.64 32.02 351.08 32.38 352.5 32.79 C353.92 33.2 355.33 33.67 356.72 34.18 C358.12 34.68 359.5 35.23 360.87 35.81 C362.25 36.39 363.62 37 364.96 37.66 C366.3 38.32 367.64 39.02 368.93 39.78 C370.22 40.55 371.5 41.35 372.73 42.23 C373.95 43.1 375.15 44.03 376.28 45.03 C377.4 46.03 378.49 47.09 379.49 48.21 C380.49 49.33 381.42 50.53 382.28 51.76 C383.14 52.99 383.93 54.29 384.65 55.6 C385.37 56.92 386.02 58.28 386.62 59.64 C387.22 61 387.75 62.39 388.24 63.78 C388.74 65.16 389.18 66.57 389.59 67.96 C390.01 69.35 390.41 70.73 390.75 72.13 C391.1 73.52 391.41 74.91 391.67 76.3 C391.92 77.7 392.11 79.11 392.27 80.5 C392.43 81.9 392.53 83.3 392.61 84.68 C392.69 86.07 392.73 87.46 392.76 88.83 C392.78 90.2 392.78 91.57 392.77 92.93 C392.76 94.29 392.73 95.65 392.7 97Z" fill="#4589aa"/>
<path d="M391.1 97 C391.09 98.32 391.08 99.63 391.04 100.96 C391.01 102.28 390.96 103.6 390.88 104.92 C390.8 106.25 390.7 107.58 390.57 108.91 C390.43 110.24 390.28 111.58 390.07 112.91 C389.87 114.24 389.63 115.58 389.34 116.91 C389.06 118.24 388.71 119.55 388.35 120.88 C387.99 122.21 387.61 123.53 387.21 124.87 C386.81 126.2 386.41 127.56 385.95 128.9 C385.49 130.24 385 131.59 384.44 132.91 C383.87 134.22 383.26 135.54 382.55 136.79 C381.85 138.04 381.07 139.27 380.2 140.41 C379.33 141.55 378.36 142.64 377.31 143.61 C376.26 144.59 375.1 145.47 373.9 146.26 C372.69 147.04 371.4 147.73 370.1 148.34 C368.79 148.96 367.43 149.48 366.07 149.94 C364.72 150.41 363.33 150.79 361.96 151.14 C360.58 151.49 359.2 151.77 357.85 152.05 C356.49 152.32 355.15 152.58 353.81 152.8 C352.48 153.02 351.16 153.23 349.83 153.37 C348.51 153.51 347.19 153.59 345.88 153.64 C344.57 153.69 343.26 153.69 341.97 153.67 C340.68 153.64 339.4 153.57 338.14 153.49 C336.87 153.4 335.62 153.28 334.38 153.16 C333.14 153.03 331.92 152.88 330.7 152.72 C329.48 152.56 328.28 152.4 327.08 152.22 C325.88 152.04 324.69 151.86 323.51 151.64 C322.32 151.43 321.14 151.2 319.97 150.93 C318.8 150.67 317.64 150.38 316.49 150.05 C315.34 149.71 314.19 149.35 313.07 148.93 C311.95 148.52 310.84 148.05 309.76 147.55 C308.68 147.06 307.61 146.51 306.57 145.94 C305.52 145.36 304.49 144.76 303.49 144.13 C302.49 143.49 301.5 142.83 300.55 142.13 C299.59 141.43 298.66 140.7 297.76 139.93 C296.85 139.17 295.98 138.38 295.14 137.55 C294.3 136.73 293.49 135.87 292.71 134.99 C291.94 134.1 291.21 133.19 290.51 132.25 C289.81 131.31 289.15 130.35 288.52 129.36 C287.9 128.38 287.31 127.38 286.76 126.36 C286.21 125.34 285.7 124.3 285.22 123.26 C284.74 122.21 284.3 121.15 283.89 120.08 C283.49 119.01 283.1 117.94 282.77 116.85 C282.44 115.77 282.16 114.66 281.93 113.56 C281.7 112.45 281.55 111.32 281.41 110.21 C281.27 109.09 281.19 107.97 281.11 106.86 C281.03 105.75 280.99 104.65 280.94 103.55 C280.88 102.45 280.84 101.36 280.77 100.27 C280.69 99.18 280.61 98.1 280.5 97 C280.39 95.9 280.24 94.8 280.1 93.68 C279.95 92.56 279.78 91.43 279.63 90.28 C279.48 89.12 279.33 87.95 279.2 86.76 C279.07 85.56 278.95 84.35 278.87 83.11 C278.8 81.88 278.74 80.63 278.75 79.36 C278.75 78.1 278.82 76.83 278.89 75.54 C278.96 74.24 279.07 72.94 279.19 71.6 C279.3 70.26 279.41 68.88 279.59 67.49 C279.77 66.11 279.97 64.69 280.26 63.29 C280.55 61.9 280.88 60.48 281.33 59.12 C281.77 57.75 282.29 56.38 282.92 55.09 C283.55 53.81 284.28 52.56 285.11 51.41 C285.93 50.25 286.88 49.18 287.88 48.17 C288.88 47.17 289.97 46.25 291.1 45.39 C292.23 44.53 293.42 43.75 294.63 43.02 C295.85 42.29 297.11 41.63 298.37 41.01 C299.64 40.39 300.94 39.82 302.23 39.27 C303.53 38.73 304.83 38.2 306.15 37.72 C307.46 37.25 308.79 36.79 310.13 36.41 C311.47 36.02 312.84 35.7 314.2 35.42 C315.56 35.14 316.94 34.92 318.31 34.73 C319.69 34.54 321.07 34.41 322.44 34.3 C323.82 34.18 325.2 34.12 326.58 34.07 C327.95 34.02 329.33 34 330.7 34 C332.07 34 333.45 34.02 334.82 34.08 C336.2 34.14 337.58 34.22 338.95 34.34 C340.32 34.46 341.7 34.61 343.07 34.8 C344.44 35 345.81 35.23 347.18 35.51 C348.54 35.78 349.9 36.1 351.25 36.47 C352.59 36.84 353.93 37.27 355.25 37.72 C356.58 38.18 357.89 38.68 359.2 39.21 C360.51 39.73 361.82 40.28 363.1 40.88 C364.38 41.49 365.66 42.12 366.9 42.82 C368.15 43.52 369.37 44.26 370.56 45.06 C371.74 45.86 372.89 46.72 373.99 47.64 C375.08 48.56 376.14 49.54 377.11 50.59 C378.09 51.63 379.01 52.74 379.86 53.89 C380.71 55.04 381.49 56.25 382.21 57.47 C382.94 58.7 383.59 59.97 384.21 61.25 C384.82 62.53 385.37 63.83 385.88 65.14 C386.4 66.45 386.86 67.77 387.3 69.09 C387.74 70.4 388.16 71.72 388.53 73.04 C388.91 74.37 389.25 75.69 389.54 77.03 C389.82 78.36 390.05 79.7 390.25 81.04 C390.44 82.38 390.59 83.73 390.71 85.06 C390.83 86.4 390.91 87.74 390.97 89.07 C391.03 90.39 391.06 91.72 391.08 93.04 C391.11 94.36 391.11 95.68 391.1 97Z" fill="#4a98b6"/>
<path d="M389.5 97 C389.52 98.28 389.52 99.57 389.5 100.85 C389.48 102.14 389.44 103.43 389.37 104.72 C389.3 106.02 389.21 107.31 389.08 108.61 C388.95 109.91 388.79 111.21 388.59 112.51 C388.39 113.81 388.15 115.11 387.86 116.4 C387.58 117.7 387.23 118.98 386.87 120.27 C386.51 121.55 386.12 122.84 385.71 124.13 C385.31 125.42 384.9 126.73 384.42 128.02 C383.95 129.31 383.46 130.61 382.88 131.87 C382.31 133.13 381.69 134.39 380.99 135.59 C380.28 136.79 379.52 137.97 378.66 139.06 C377.8 140.15 376.86 141.2 375.84 142.14 C374.82 143.08 373.7 143.94 372.54 144.71 C371.38 145.48 370.14 146.16 368.89 146.77 C367.64 147.38 366.33 147.9 365.02 148.37 C363.72 148.84 362.38 149.23 361.06 149.59 C359.74 149.95 358.41 150.25 357.1 150.54 C355.79 150.83 354.5 151.09 353.2 151.32 C351.91 151.55 350.63 151.77 349.34 151.92 C348.06 152.07 346.77 152.16 345.5 152.22 C344.22 152.28 342.95 152.3 341.7 152.28 C340.44 152.27 339.19 152.22 337.96 152.14 C336.73 152.07 335.5 151.96 334.29 151.85 C333.08 151.73 331.89 151.59 330.7 151.44 C329.51 151.29 328.33 151.14 327.16 150.96 C325.99 150.79 324.83 150.61 323.67 150.4 C322.51 150.19 321.36 149.96 320.22 149.7 C319.08 149.43 317.94 149.15 316.81 148.82 C315.69 148.49 314.58 148.13 313.48 147.72 C312.39 147.32 311.31 146.86 310.25 146.37 C309.19 145.88 308.15 145.35 307.13 144.79 C306.12 144.23 305.11 143.64 304.13 143.01 C303.16 142.39 302.2 141.74 301.26 141.05 C300.33 140.37 299.42 139.65 298.54 138.91 C297.66 138.16 296.81 137.39 295.99 136.58 C295.17 135.78 294.37 134.94 293.62 134.08 C292.86 133.22 292.14 132.33 291.46 131.41 C290.77 130.5 290.12 129.56 289.51 128.61 C288.9 127.65 288.32 126.67 287.78 125.68 C287.23 124.69 286.73 123.68 286.25 122.66 C285.78 121.64 285.34 120.61 284.93 119.57 C284.52 118.53 284.14 117.48 283.8 116.43 C283.47 115.37 283.18 114.29 282.93 113.21 C282.69 112.14 282.51 111.04 282.35 109.96 C282.19 108.87 282.08 107.78 281.98 106.69 C281.87 105.61 281.81 104.52 281.73 103.45 C281.66 102.37 281.61 101.3 281.54 100.22 C281.46 99.15 281.39 98.08 281.3 97 C281.21 95.92 281.1 94.84 280.99 93.74 C280.89 92.64 280.77 91.54 280.67 90.41 C280.58 89.29 280.48 88.15 280.42 87 C280.35 85.84 280.29 84.67 280.28 83.49 C280.27 82.31 280.28 81.11 280.34 79.91 C280.41 78.7 280.53 77.5 280.66 76.27 C280.79 75.05 280.96 73.82 281.14 72.56 C281.31 71.3 281.49 70.01 281.73 68.72 C281.96 67.44 282.22 66.12 282.56 64.83 C282.9 63.54 283.28 62.24 283.76 60.98 C284.23 59.72 284.77 58.47 285.41 57.29 C286.05 56.1 286.78 54.96 287.59 53.89 C288.41 52.83 289.33 51.84 290.29 50.92 C291.25 49.99 292.3 49.14 293.37 48.35 C294.44 47.56 295.58 46.83 296.73 46.16 C297.88 45.48 299.07 44.87 300.27 44.29 C301.47 43.72 302.69 43.2 303.92 42.69 C305.14 42.19 306.37 41.71 307.62 41.27 C308.86 40.84 310.11 40.43 311.38 40.08 C312.64 39.74 313.93 39.45 315.21 39.21 C316.5 38.96 317.79 38.77 319.08 38.61 C320.38 38.45 321.67 38.33 322.96 38.24 C324.26 38.14 325.55 38.09 326.84 38.05 C328.13 38.01 329.41 38 330.7 38 C331.99 38 333.27 38.02 334.56 38.07 C335.85 38.11 337.14 38.18 338.43 38.29 C339.72 38.39 341.01 38.52 342.3 38.69 C343.59 38.86 344.88 39.06 346.16 39.3 C347.44 39.54 348.73 39.83 350 40.15 C351.27 40.48 352.53 40.86 353.78 41.27 C355.04 41.68 356.29 42.13 357.53 42.6 C358.77 43.07 360.01 43.56 361.24 44.11 C362.46 44.65 363.68 45.22 364.87 45.85 C366.07 46.48 367.25 47.16 368.38 47.89 C369.52 48.62 370.64 49.41 371.7 50.25 C372.76 51.1 373.78 52 374.74 52.96 C375.69 53.92 376.59 54.95 377.43 56.02 C378.27 57.08 379.05 58.2 379.78 59.34 C380.5 60.48 381.17 61.67 381.79 62.86 C382.42 64.05 382.99 65.28 383.52 66.5 C384.06 67.73 384.54 68.97 385.01 70.22 C385.48 71.46 385.92 72.71 386.32 73.96 C386.72 75.22 387.09 76.48 387.41 77.75 C387.73 79.02 387.99 80.3 388.23 81.59 C388.46 82.87 388.65 84.16 388.81 85.44 C388.97 86.73 389.09 88.02 389.18 89.3 C389.28 90.59 389.35 91.87 389.4 93.15 C389.46 94.44 389.48 95.72 389.5 97Z" fill="#4ea6c2"/>
<path d="M387.9 97 C387.94 98.25 387.96 99.5 387.95 100.75 C387.95 102.01 387.92 103.26 387.86 104.53 C387.8 105.79 387.71 107.05 387.59 108.32 C387.46 109.58 387.31 110.85 387.11 112.11 C386.91 113.38 386.67 114.65 386.38 115.9 C386.1 117.16 385.75 118.41 385.39 119.65 C385.03 120.9 384.64 122.15 384.22 123.39 C383.81 124.64 383.38 125.9 382.9 127.14 C382.42 128.38 381.91 129.62 381.33 130.83 C380.75 132.04 380.12 133.24 379.42 134.39 C378.72 135.53 377.96 136.66 377.12 137.71 C376.28 138.75 375.36 139.76 374.37 140.67 C373.38 141.58 372.3 142.41 371.19 143.17 C370.07 143.92 368.88 144.59 367.68 145.19 C366.48 145.8 365.23 146.32 363.97 146.8 C362.72 147.27 361.44 147.68 360.17 148.05 C358.9 148.42 357.62 148.73 356.36 149.03 C355.09 149.33 353.84 149.61 352.59 149.85 C351.34 150.09 350.09 150.31 348.85 150.46 C347.6 150.62 346.35 150.73 345.12 150.8 C343.88 150.88 342.64 150.9 341.42 150.9 C340.2 150.9 338.98 150.86 337.78 150.8 C336.58 150.74 335.39 150.64 334.21 150.54 C333.03 150.43 331.86 150.3 330.7 150.16 C329.54 150.02 328.39 149.87 327.25 149.7 C326.1 149.54 324.96 149.36 323.83 149.15 C322.7 148.94 321.58 148.72 320.46 148.46 C319.35 148.2 318.24 147.92 317.14 147.6 C316.05 147.27 314.96 146.92 313.89 146.52 C312.82 146.12 311.77 145.67 310.74 145.19 C309.71 144.71 308.69 144.19 307.7 143.64 C306.71 143.09 305.73 142.51 304.78 141.9 C303.82 141.29 302.89 140.65 301.98 139.98 C301.07 139.31 300.19 138.61 299.33 137.88 C298.47 137.15 297.64 136.4 296.84 135.61 C296.04 134.83 295.26 134.01 294.52 133.18 C293.79 132.34 293.08 131.47 292.41 130.58 C291.74 129.69 291.1 128.78 290.5 127.85 C289.89 126.92 289.33 125.97 288.79 125 C288.26 124.04 287.76 123.06 287.29 122.07 C286.82 121.07 286.38 120.07 285.97 119.06 C285.56 118.05 285.18 117.03 284.84 116 C284.5 114.97 284.19 113.92 283.94 112.87 C283.68 111.83 283.47 110.76 283.29 109.7 C283.11 108.64 282.97 107.58 282.84 106.52 C282.71 105.46 282.62 104.4 282.53 103.34 C282.44 102.28 282.38 101.23 282.31 100.17 C282.23 99.11 282.17 98.06 282.1 97 C282.03 95.94 281.95 94.88 281.89 93.8 C281.82 92.73 281.76 91.64 281.71 90.55 C281.67 89.46 281.64 88.35 281.63 87.24 C281.63 86.13 281.64 85 281.69 83.87 C281.74 82.74 281.82 81.59 281.94 80.45 C282.07 79.31 282.25 78.16 282.44 77.01 C282.63 75.85 282.85 74.7 283.09 73.52 C283.32 72.34 283.56 71.15 283.86 69.96 C284.16 68.77 284.48 67.56 284.86 66.37 C285.25 65.19 285.68 63.99 286.19 62.85 C286.7 61.7 287.26 60.55 287.91 59.48 C288.56 58.4 289.29 57.35 290.08 56.38 C290.88 55.41 291.77 54.51 292.69 53.66 C293.62 52.82 294.62 52.03 295.64 51.31 C296.66 50.58 297.73 49.91 298.82 49.29 C299.91 48.67 301.04 48.11 302.17 47.58 C303.3 47.05 304.45 46.57 305.6 46.11 C306.76 45.65 307.92 45.21 309.09 44.82 C310.26 44.43 311.44 44.06 312.63 43.75 C313.82 43.45 315.02 43.2 316.23 42.99 C317.43 42.78 318.65 42.62 319.86 42.48 C321.06 42.35 322.28 42.25 323.48 42.18 C324.69 42.11 325.89 42.07 327.1 42.04 C328.3 42.01 329.5 42 330.7 42 C331.9 42 333.1 42.01 334.3 42.05 C335.5 42.09 336.71 42.15 337.91 42.23 C339.11 42.32 340.32 42.43 341.53 42.57 C342.73 42.71 343.94 42.88 345.14 43.1 C346.35 43.31 347.55 43.55 348.75 43.84 C349.94 44.12 351.13 44.46 352.31 44.82 C353.5 45.18 354.68 45.57 355.85 45.99 C357.03 46.41 358.21 46.85 359.38 47.33 C360.54 47.81 361.71 48.32 362.85 48.89 C363.99 49.45 365.12 50.06 366.21 50.72 C367.31 51.38 368.38 52.09 369.41 52.86 C370.43 53.63 371.43 54.46 372.36 55.34 C373.3 56.22 374.18 57.16 375.01 58.14 C375.84 59.12 376.61 60.16 377.34 61.21 C378.07 62.27 378.75 63.36 379.38 64.47 C380.02 65.58 380.6 66.72 381.16 67.87 C381.72 69.01 382.23 70.18 382.72 71.35 C383.21 72.52 383.67 73.69 384.1 74.88 C384.53 76.07 384.93 77.26 385.28 78.47 C385.63 79.68 385.94 80.9 386.21 82.13 C386.48 83.35 386.71 84.59 386.9 85.82 C387.1 87.06 387.26 88.3 387.4 89.54 C387.54 90.78 387.64 92.02 387.72 93.26 C387.8 94.51 387.86 95.75 387.9 97Z" fill="#5ab5cf"/>
<path d="M386.3 97 C386.36 98.21 386.4 99.43 386.41 100.65 C386.42 101.87 386.4 103.1 386.35 104.33 C386.3 105.55 386.22 106.79 386.1 108.02 C385.98 109.25 385.82 110.49 385.62 111.72 C385.42 112.95 385.19 114.18 384.9 115.4 C384.62 116.62 384.28 117.83 383.92 119.04 C383.55 120.25 383.15 121.46 382.73 122.66 C382.31 123.86 381.87 125.07 381.38 126.26 C380.88 127.45 380.36 128.64 379.77 129.79 C379.19 130.94 378.56 132.09 377.86 133.18 C377.16 134.28 376.4 135.35 375.58 136.36 C374.75 137.36 373.86 138.32 372.9 139.2 C371.94 140.08 370.9 140.89 369.83 141.62 C368.76 142.36 367.62 143.02 366.47 143.62 C365.32 144.22 364.12 144.75 362.92 145.23 C361.73 145.71 360.5 146.12 359.28 146.5 C358.06 146.89 356.83 147.21 355.61 147.52 C354.4 147.83 353.19 148.12 351.98 148.37 C350.77 148.62 349.56 148.84 348.36 149.01 C347.15 149.18 345.94 149.3 344.74 149.38 C343.53 149.47 342.34 149.51 341.15 149.52 C339.96 149.53 338.78 149.5 337.61 149.45 C336.43 149.4 335.27 149.32 334.12 149.23 C332.97 149.13 331.83 149.01 330.7 148.88 C329.57 148.75 328.45 148.61 327.33 148.45 C326.21 148.28 325.1 148.11 324 147.91 C322.89 147.7 321.8 147.48 320.71 147.23 C319.62 146.97 318.54 146.69 317.47 146.37 C316.4 146.05 315.34 145.7 314.3 145.31 C313.26 144.91 312.23 144.48 311.23 144.01 C310.22 143.54 309.24 143.02 308.27 142.49 C307.3 141.95 306.35 141.38 305.42 140.79 C304.49 140.19 303.58 139.56 302.7 138.91 C301.81 138.25 300.95 137.57 300.12 136.86 C299.28 136.15 298.47 135.41 297.69 134.64 C296.91 133.88 296.15 133.09 295.43 132.27 C294.71 131.45 294.02 130.61 293.36 129.75 C292.7 128.88 292.08 127.99 291.48 127.09 C290.89 126.19 290.33 125.26 289.81 124.32 C289.28 123.39 288.78 122.43 288.32 121.47 C287.85 120.51 287.42 119.53 287.01 118.55 C286.6 117.56 286.22 116.57 285.87 115.57 C285.53 114.57 285.21 113.55 284.94 112.53 C284.66 111.51 284.43 110.48 284.23 109.45 C284.02 108.42 283.85 107.38 283.7 106.35 C283.55 105.31 283.44 104.27 283.33 103.24 C283.23 102.2 283.15 101.16 283.08 100.12 C283.01 99.08 282.95 98.04 282.9 97 C282.85 95.96 282.81 94.91 282.78 93.86 C282.76 92.81 282.74 91.75 282.75 90.69 C282.76 89.62 282.79 88.56 282.85 87.48 C282.91 86.41 282.98 85.33 283.1 84.25 C283.22 83.16 283.36 82.08 283.54 80.99 C283.73 79.91 283.96 78.83 284.21 77.74 C284.46 76.66 284.74 75.57 285.04 74.48 C285.33 73.39 285.64 72.28 286 71.19 C286.35 70.09 286.73 68.99 287.17 67.91 C287.6 66.83 288.08 65.75 288.62 64.71 C289.16 63.67 289.75 62.64 290.41 61.67 C291.07 60.69 291.79 59.75 292.57 58.87 C293.35 58 294.21 57.17 295.1 56.41 C295.99 55.64 296.94 54.93 297.91 54.26 C298.88 53.6 299.89 52.99 300.92 52.43 C301.94 51.86 303 51.35 304.06 50.86 C305.12 50.38 306.21 49.94 307.29 49.53 C308.37 49.11 309.46 48.72 310.56 48.37 C311.65 48.02 312.76 47.69 313.87 47.43 C314.99 47.16 316.12 46.95 317.24 46.77 C318.37 46.59 319.5 46.46 320.63 46.35 C321.75 46.25 322.88 46.18 324 46.12 C325.12 46.07 326.24 46.04 327.36 46.02 C328.48 46 329.59 46 330.7 46 C331.81 46 332.93 46.01 334.04 46.04 C335.16 46.07 336.27 46.11 337.39 46.18 C338.51 46.25 339.63 46.34 340.75 46.46 C341.88 46.57 343 46.71 344.13 46.89 C345.25 47.07 346.38 47.27 347.5 47.52 C348.62 47.76 349.73 48.06 350.84 48.37 C351.96 48.68 353.07 49.02 354.18 49.39 C355.29 49.75 356.41 50.13 357.52 50.55 C358.62 50.98 359.73 51.42 360.82 51.92 C361.91 52.42 362.99 52.96 364.04 53.55 C365.09 54.14 366.13 54.78 367.12 55.47 C368.11 56.16 369.08 56.91 369.99 57.71 C370.9 58.51 371.76 59.38 372.58 60.27 C373.4 61.16 374.18 62.11 374.91 63.08 C375.64 64.05 376.32 65.06 376.97 66.08 C377.62 67.11 378.22 68.16 378.8 69.23 C379.38 70.3 379.91 71.38 380.42 72.48 C380.94 73.57 381.43 74.68 381.88 75.8 C382.34 76.92 382.77 78.05 383.15 79.19 C383.54 80.34 383.88 81.5 384.19 82.67 C384.49 83.84 384.76 85.02 385 86.2 C385.24 87.38 385.44 88.57 385.61 89.77 C385.79 90.97 385.93 92.17 386.04 93.37 C386.15 94.58 386.24 95.79 386.3 97Z" fill="#6ec2d8"/>
<path d="M384.7 97 C384.78 98.18 384.84 99.36 384.86 100.55 C384.89 101.74 384.88 102.93 384.84 104.13 C384.8 105.32 384.72 106.52 384.61 107.72 C384.49 108.92 384.34 110.12 384.14 111.32 C383.94 112.52 383.71 113.71 383.42 114.9 C383.14 116.08 382.8 117.26 382.44 118.43 C382.07 119.6 381.67 120.77 381.24 121.92 C380.81 123.08 380.36 124.24 379.85 125.38 C379.35 126.52 378.81 127.65 378.22 128.75 C377.63 129.85 376.99 130.94 376.29 131.98 C375.59 133.03 374.85 134.05 374.04 135 C373.22 135.96 372.36 136.88 371.43 137.73 C370.5 138.58 369.51 139.36 368.48 140.08 C367.45 140.8 366.36 141.45 365.26 142.04 C364.16 142.64 363.02 143.17 361.87 143.66 C360.73 144.14 359.56 144.57 358.39 144.96 C357.22 145.35 356.04 145.69 354.87 146.01 C353.7 146.33 352.53 146.63 351.36 146.89 C350.2 147.15 349.03 147.38 347.86 147.56 C346.69 147.74 345.52 147.87 344.36 147.97 C343.19 148.06 342.03 148.11 340.87 148.14 C339.72 148.16 338.57 148.14 337.43 148.11 C336.29 148.07 335.16 148 334.04 147.92 C332.92 147.83 331.8 147.72 330.7 147.6 C329.6 147.48 328.5 147.34 327.41 147.19 C326.32 147.03 325.24 146.86 324.16 146.66 C323.09 146.46 322.02 146.24 320.96 145.99 C319.89 145.74 318.84 145.46 317.8 145.15 C316.76 144.83 315.73 144.49 314.71 144.1 C313.7 143.71 312.7 143.28 311.72 142.82 C310.74 142.36 309.78 141.86 308.84 141.34 C307.89 140.81 306.97 140.26 306.06 139.67 C305.16 139.09 304.27 138.48 303.41 137.84 C302.55 137.2 301.71 136.53 300.9 135.83 C300.09 135.14 299.3 134.42 298.54 133.67 C297.78 132.93 297.04 132.16 296.33 131.37 C295.63 130.57 294.95 129.75 294.31 128.91 C293.67 128.08 293.05 127.21 292.47 126.33 C291.89 125.46 291.34 124.56 290.82 123.65 C290.3 122.74 289.81 121.81 289.35 120.87 C288.89 119.94 288.46 118.99 288.05 118.03 C287.64 117.08 287.26 116.11 286.91 115.14 C286.56 114.17 286.23 113.18 285.94 112.19 C285.65 111.2 285.39 110.2 285.17 109.2 C284.94 108.2 284.74 107.19 284.57 106.18 C284.39 105.16 284.25 104.15 284.13 103.13 C284.01 102.11 283.92 101.09 283.85 100.07 C283.78 99.05 283.73 98.03 283.7 97 C283.67 95.97 283.66 94.95 283.68 93.92 C283.69 92.89 283.73 91.86 283.79 90.82 C283.86 89.79 283.94 88.76 284.06 87.72 C284.18 86.69 284.33 85.65 284.51 84.62 C284.69 83.59 284.9 82.56 285.14 81.54 C285.39 80.51 285.68 79.49 285.98 78.48 C286.29 77.46 286.63 76.45 286.99 75.44 C287.34 74.43 287.72 73.42 288.13 72.42 C288.54 71.42 288.98 70.43 289.47 69.45 C289.96 68.48 290.48 67.51 291.05 66.58 C291.62 65.64 292.24 64.72 292.91 63.86 C293.58 62.99 294.3 62.15 295.06 61.36 C295.83 60.58 296.65 59.84 297.51 59.15 C298.36 58.46 299.26 57.82 300.18 57.22 C301.09 56.62 302.05 56.07 303.01 55.56 C303.98 55.05 304.97 54.58 305.96 54.15 C306.95 53.71 307.96 53.32 308.97 52.95 C309.99 52.57 311 52.22 312.03 51.91 C313.05 51.61 314.08 51.33 315.12 51.1 C316.16 50.88 317.21 50.7 318.26 50.56 C319.3 50.41 320.35 50.31 321.4 50.23 C322.44 50.15 323.48 50.1 324.52 50.06 C325.56 50.03 326.59 50.02 327.62 50.01 C328.65 50 329.67 50 330.7 50 C331.73 50 332.75 50.01 333.78 50.03 C334.81 50.05 335.84 50.08 336.87 50.13 C337.9 50.18 338.94 50.25 339.98 50.34 C341.02 50.43 342.07 50.54 343.11 50.69 C344.15 50.83 345.2 51 346.25 51.2 C347.29 51.41 348.33 51.65 349.37 51.91 C350.42 52.18 351.46 52.47 352.51 52.78 C353.55 53.09 354.61 53.41 355.66 53.78 C356.7 54.14 357.76 54.52 358.79 54.96 C359.83 55.39 360.86 55.86 361.87 56.38 C362.88 56.9 363.87 57.46 364.83 58.08 C365.79 58.7 366.72 59.37 367.61 60.09 C368.5 60.81 369.35 61.59 370.16 62.4 C370.97 63.21 371.74 64.06 372.47 64.95 C373.21 65.83 373.9 66.75 374.56 67.69 C375.22 68.63 375.84 69.61 376.44 70.59 C377.03 71.58 377.59 72.59 378.13 73.61 C378.67 74.63 379.18 75.67 379.67 76.72 C380.15 77.77 380.61 78.84 381.02 79.92 C381.44 81 381.82 82.1 382.17 83.21 C382.51 84.32 382.82 85.44 383.1 86.58 C383.38 87.71 383.62 88.85 383.83 90.01 C384.04 91.16 384.21 92.32 384.36 93.48 C384.5 94.65 384.62 95.82 384.7 97Z" fill="#95d1e5"/>
<path d="M382.7 97 C382.81 98.13 382.89 99.28 382.93 100.42 C382.97 101.57 382.98 102.72 382.95 103.88 C382.92 105.03 382.85 106.19 382.74 107.35 C382.63 108.51 382.48 109.67 382.29 110.82 C382.09 111.98 381.86 113.13 381.57 114.27 C381.29 115.41 380.96 116.54 380.59 117.66 C380.22 118.79 379.81 119.9 379.37 121 C378.93 122.11 378.46 123.2 377.95 124.28 C377.43 125.35 376.88 126.42 376.27 127.45 C375.67 128.49 375.03 129.5 374.33 130.48 C373.64 131.46 372.9 132.41 372.11 133.31 C371.32 134.22 370.48 135.09 369.59 135.89 C368.7 136.7 367.76 137.45 366.79 138.15 C365.81 138.85 364.79 139.49 363.75 140.08 C362.72 140.67 361.64 141.2 360.56 141.69 C359.48 142.18 358.38 142.62 357.27 143.03 C356.17 143.43 355.05 143.79 353.94 144.13 C352.83 144.46 351.72 144.77 350.6 145.04 C349.48 145.31 348.37 145.55 347.25 145.74 C346.13 145.94 345 146.08 343.88 146.19 C342.76 146.3 341.64 146.37 340.53 146.41 C339.42 146.45 338.31 146.45 337.21 146.43 C336.11 146.4 335.01 146.35 333.93 146.28 C332.85 146.21 331.77 146.11 330.7 146 C329.63 145.89 328.57 145.76 327.51 145.61 C326.46 145.46 325.41 145.3 324.37 145.1 C323.33 144.91 322.29 144.69 321.26 144.45 C320.24 144.2 319.22 143.92 318.21 143.61 C317.2 143.31 316.2 142.97 315.22 142.59 C314.25 142.21 313.28 141.79 312.33 141.35 C311.38 140.9 310.45 140.41 309.54 139.9 C308.63 139.39 307.74 138.85 306.87 138.28 C305.99 137.71 305.14 137.12 304.31 136.49 C303.48 135.87 302.67 135.22 301.89 134.55 C301.1 133.88 300.34 133.18 299.6 132.46 C298.86 131.74 298.15 131 297.47 130.23 C296.78 129.47 296.12 128.68 295.5 127.87 C294.87 127.06 294.27 126.23 293.71 125.39 C293.14 124.54 292.6 123.68 292.09 122.8 C291.58 121.92 291.1 121.03 290.64 120.13 C290.18 119.23 289.75 118.31 289.35 117.39 C288.94 116.47 288.56 115.54 288.2 114.6 C287.84 113.67 287.51 112.72 287.2 111.77 C286.89 110.81 286.6 109.85 286.34 108.89 C286.08 107.92 285.85 106.94 285.65 105.96 C285.44 104.98 285.27 103.99 285.13 103 C284.99 102.01 284.88 101.01 284.81 100.01 C284.74 99.01 284.7 98 284.7 97 C284.7 96 284.73 94.99 284.8 93.99 C284.86 92.99 284.96 91.99 285.09 91 C285.22 90 285.39 89.01 285.58 88.03 C285.78 87.04 286.01 86.06 286.27 85.09 C286.53 84.13 286.82 83.16 287.14 82.21 C287.46 81.26 287.82 80.32 288.2 79.4 C288.58 78.47 288.99 77.55 289.42 76.64 C289.86 75.74 290.31 74.84 290.8 73.96 C291.29 73.08 291.8 72.22 292.35 71.37 C292.9 70.53 293.47 69.7 294.09 68.91 C294.7 68.11 295.35 67.33 296.03 66.59 C296.71 65.85 297.43 65.14 298.17 64.47 C298.92 63.8 299.71 63.17 300.51 62.58 C301.32 61.99 302.16 61.43 303.01 60.92 C303.87 60.4 304.74 59.92 305.63 59.48 C306.52 59.04 307.42 58.63 308.33 58.25 C309.24 57.88 310.16 57.54 311.08 57.22 C312 56.9 312.93 56.6 313.86 56.35 C314.79 56.1 315.74 55.87 316.68 55.69 C317.62 55.52 318.58 55.39 319.52 55.29 C320.47 55.18 321.42 55.12 322.36 55.07 C323.3 55.02 324.24 55.01 325.17 54.99 C326.1 54.98 327.02 54.99 327.95 54.99 C328.87 54.99 329.78 55 330.7 55 C331.62 55 332.53 55 333.45 55.01 C334.37 55.02 335.29 55.04 336.22 55.07 C337.15 55.1 338.08 55.13 339.02 55.19 C339.95 55.25 340.89 55.33 341.84 55.43 C342.78 55.53 343.73 55.65 344.68 55.8 C345.63 55.96 346.58 56.15 347.54 56.35 C348.49 56.55 349.45 56.78 350.41 57.02 C351.38 57.27 352.36 57.52 353.33 57.8 C354.3 58.09 355.29 58.4 356.26 58.75 C357.23 59.1 358.2 59.49 359.15 59.92 C360.11 60.35 361.06 60.82 361.97 61.34 C362.88 61.87 363.78 62.44 364.64 63.06 C365.5 63.68 366.33 64.35 367.13 65.06 C367.92 65.76 368.69 66.51 369.43 67.28 C370.16 68.06 370.87 68.87 371.55 69.71 C372.22 70.54 372.87 71.41 373.49 72.3 C374.11 73.18 374.7 74.09 375.27 75.02 C375.83 75.95 376.38 76.9 376.89 77.87 C377.41 78.83 377.9 79.82 378.36 80.82 C378.82 81.82 379.25 82.85 379.64 83.89 C380.03 84.92 380.39 85.98 380.72 87.05 C381.05 88.12 381.34 89.2 381.59 90.3 C381.85 91.39 382.07 92.5 382.26 93.62 C382.44 94.74 382.59 95.87 382.7 97Z" fill="#b6e0ef"/>
<path d="M380.2 97 C380.31 98.08 380.39 99.17 380.44 100.26 C380.48 101.35 380.5 102.45 380.47 103.55 C380.45 104.65 380.39 105.76 380.29 106.86 C380.19 107.97 380.05 109.08 379.87 110.18 C379.69 111.28 379.47 112.38 379.21 113.47 C378.94 114.55 378.63 115.64 378.28 116.71 C377.93 117.78 377.55 118.84 377.13 119.9 C376.72 120.95 376.27 122 375.78 123.03 C375.29 124.06 374.77 125.07 374.2 126.06 C373.62 127.05 373.01 128.03 372.35 128.96 C371.69 129.89 370.98 130.81 370.23 131.67 C369.47 132.53 368.67 133.36 367.82 134.12 C366.97 134.89 366.07 135.61 365.14 136.27 C364.21 136.93 363.23 137.54 362.23 138.09 C361.24 138.65 360.21 139.15 359.17 139.61 C358.14 140.07 357.08 140.48 356.02 140.86 C354.97 141.24 353.9 141.57 352.83 141.89 C351.77 142.2 350.71 142.48 349.64 142.73 C348.58 142.98 347.51 143.2 346.44 143.38 C345.37 143.55 344.3 143.68 343.23 143.78 C342.17 143.87 341.1 143.93 340.04 143.96 C338.98 143.98 337.93 143.98 336.88 143.95 C335.84 143.92 334.8 143.86 333.77 143.78 C332.74 143.71 331.71 143.61 330.7 143.5 C329.69 143.39 328.68 143.26 327.68 143.12 C326.68 142.97 325.68 142.81 324.69 142.62 C323.71 142.44 322.72 142.23 321.75 141.99 C320.78 141.76 319.81 141.5 318.86 141.2 C317.9 140.9 316.96 140.58 316.03 140.22 C315.1 139.86 314.18 139.46 313.29 139.04 C312.39 138.61 311.51 138.15 310.65 137.66 C309.79 137.17 308.94 136.66 308.12 136.12 C307.29 135.58 306.48 135.01 305.7 134.42 C304.91 133.82 304.15 133.21 303.41 132.57 C302.67 131.93 301.94 131.27 301.25 130.58 C300.55 129.9 299.88 129.19 299.23 128.47 C298.59 127.74 297.97 126.99 297.38 126.22 C296.79 125.46 296.22 124.67 295.69 123.86 C295.15 123.06 294.65 122.24 294.17 121.41 C293.69 120.58 293.23 119.73 292.8 118.88 C292.37 118.03 291.97 117.16 291.59 116.29 C291.21 115.42 290.85 114.53 290.51 113.65 C290.17 112.76 289.86 111.87 289.56 110.96 C289.27 110.06 289 109.15 288.75 108.24 C288.51 107.32 288.29 106.4 288.1 105.47 C287.91 104.55 287.74 103.61 287.61 102.67 C287.48 101.73 287.37 100.79 287.3 99.84 C287.24 98.9 287.2 97.95 287.2 97 C287.2 96.05 287.23 95.1 287.29 94.15 C287.36 93.21 287.45 92.26 287.57 91.32 C287.7 90.38 287.85 89.44 288.04 88.51 C288.22 87.58 288.44 86.66 288.68 85.74 C288.93 84.83 289.2 83.92 289.51 83.02 C289.81 82.12 290.15 81.23 290.51 80.35 C290.87 79.48 291.26 78.61 291.67 77.75 C292.07 76.89 292.5 76.04 292.96 75.21 C293.42 74.38 293.91 73.56 294.43 72.76 C294.95 71.97 295.49 71.18 296.07 70.43 C296.65 69.68 297.26 68.94 297.91 68.24 C298.55 67.54 299.23 66.87 299.94 66.24 C300.65 65.61 301.4 65.02 302.16 64.46 C302.93 63.9 303.73 63.38 304.53 62.9 C305.34 62.42 306.18 61.97 307.02 61.56 C307.86 61.14 308.72 60.77 309.58 60.42 C310.44 60.07 311.31 59.75 312.19 59.46 C313.06 59.17 313.94 58.89 314.82 58.66 C315.7 58.43 316.59 58.22 317.48 58.06 C318.37 57.9 319.28 57.79 320.17 57.7 C321.06 57.61 321.96 57.56 322.85 57.52 C323.74 57.48 324.62 57.48 325.5 57.47 C326.37 57.46 327.24 57.48 328.11 57.48 C328.98 57.49 329.84 57.5 330.7 57.5 C331.56 57.5 332.42 57.5 333.29 57.51 C334.15 57.51 335.02 57.52 335.89 57.54 C336.77 57.57 337.65 57.6 338.53 57.65 C339.41 57.7 340.3 57.76 341.19 57.84 C342.08 57.93 342.98 58.04 343.88 58.17 C344.78 58.31 345.68 58.48 346.58 58.66 C347.49 58.84 348.39 59.05 349.31 59.26 C350.23 59.48 351.15 59.71 352.08 59.97 C353.01 60.23 353.94 60.51 354.87 60.83 C355.79 61.15 356.72 61.5 357.63 61.9 C358.54 62.3 359.45 62.74 360.32 63.22 C361.2 63.71 362.05 64.25 362.87 64.83 C363.69 65.41 364.48 66.04 365.25 66.7 C366.01 67.37 366.74 68.07 367.44 68.81 C368.15 69.54 368.82 70.31 369.47 71.1 C370.11 71.89 370.73 72.71 371.32 73.55 C371.92 74.38 372.48 75.25 373.02 76.13 C373.57 77.01 374.09 77.91 374.58 78.82 C375.08 79.74 375.55 80.67 375.99 81.62 C376.44 82.58 376.85 83.55 377.23 84.53 C377.6 85.52 377.95 86.52 378.27 87.54 C378.58 88.55 378.87 89.58 379.12 90.63 C379.36 91.67 379.58 92.72 379.76 93.78 C379.94 94.85 380.09 95.92 380.2 97Z" fill="#eef7fb"/>
<path d="M294 117 C296.33 114 304.83 114.17 310 114 C315.17 113.83 320.33 115.17 325 116 C329.67 116.83 335.5 115.83 338 119 C340.5 122.17 341.33 130.67 340 135 C338.67 139.33 335 143.83 330 145 C325 146.17 315.67 144.17 310 142 C304.33 139.83 298.67 136.17 296 132 C293.33 127.83 291.67 120 294 117Z" fill="#d3ecf6" filter="url(#bl2)"/>
<path d="M280 80.5 C282.08 79.33 289 78.92 292 79 C295 79.08 297.33 79.67 298 81 C298.67 82.33 298.33 85.67 296 87 C293.67 88.33 286.75 89.17 284 89 C281.25 88.83 280.17 87.42 279.5 86 C278.83 84.58 277.92 81.67 280 80.5Z" fill="#eef7fb" filter="url(#bl2)"/>
</g>
<g stroke="#8a8a8a" stroke-opacity="0.22" stroke-width="0.6" stroke-dasharray="2 1.5" fill="none"><line x1="330.7" y1="26.7" x2="330.7" y2="168" /><line x1="269.21" y1="61.5" x2="392.19" y2="132.5"/><line x1="269.21" y1="132.5" x2="392.19" y2="61.5"/><circle cx="330.7" cy="97" r="25.4" fill="none"/><circle cx="330.7" cy="97" r="51.8" fill="none"/></g>
<g transform="translate(330.7 97)">
<path d="M-39.38 -23.34 L-39.58 -22.83 L-40.46 -24.48 L-40.38 -23.05 L-40.28 -22.07 L-39.78 -21.29 L-39.2 -20.57 L-38.99 -19.6 L-38.23 -18.95 L-38 -18 L-37.24 -17.42 L-36.7 -16.68 L-36.33 -15.81 L-35.66 -14.78 L-34.38 -14.15 L-34.3 -13.18 L-34.39 -12.12 L-33.28 -11.34 L-32.22 -10.64 L-31.23 -9.83 L-31.18 -8.61 L-30.14 -7.79 L-30.25 -6.55 L-29.62 -5.56 L-29.29 -4.52 L-29.54 -3.51 L-29.02 -4.32 L-28.3 -5.04 L-28.29 -6.11 L-27.68 -6.78 L-27.71 -6.81 L-27.89 -5.44 L-28.66 -3.94 L-28.64 -2.86 L-28.92 -1.91 L-29.2 -0.97 L-29.71 -0.05 L-29.44 1.13 L-29.31 2.41 L-30.59 3.43 L-31.28 4.98 L-30.54 6.35 L-29.58 6.69 L-28.55 6.6 L-27.79 5.6 L-26.73 5.05 L-25.61 5 L-25.65 6.18 L-25.34 7.24 L-25.17 8.18 L-25.79 9 L-25.33 9.88 L-25.33 10.88 L-25.32 11.95 L-24.42 12.48 L-24.04 13.39 L-22.99 14.79 L-22.57 16.52 L-21.87 17.17 L-21.03 17.67 L-19.97 18.42 L-18.65 18.63 L-17.57 19.27 L-16.41 19.58 L-15.45 20.2 L-14.48 20.75 L-13.39 20.41 L-12.5 19.95 L-11.61 19.45 L-10.71 19.38 L-9.55 19.59 L-8.73 20.56 L-7.2 20.28 L-5.44 20.4 L-4.44 20.36 L-3.42 20.07 L-2.43 20.22 L-1.46 20.49 L-0.43 20.12 L0.54 20.51 L1.54 20.34 L2.53 20.35 L3.53 20.35 L4.63 20.9 L6.03 20.73 L6.09 21.64 L6.13 22.55 L5.94 23.38 L6.21 24.43 L5.71 25.25 L5.38 26.13 L5.03 26.99 L4.96 27.89 L4.83 28.92 L5.76 29.9 L6.21 31.08 L7.69 31.63 L9.42 32.17 L10.58 32.4 L11.83 32.02 L12.96 32.25 L14.05 32.49 L15.21 32.49 L16.37 32.67 L17.51 32.53 L18.63 32.1 L19.97 31.91 L21.28 32.22 L22.03 31.62 L22.88 31.17 L23.97 30.84 L24.78 30.13 L25.66 29.87 L26.56 29.8 L27.41 29.7 L28.68 30 L29.27 28.84 L29.14 27.8 L29.94 26.89 L30.66 25.87 L31.19 24.18 L31.79 23.41 L32.22 22.51 L33.08 21.99 L33.27 21.14 L33.45 19.98 L33.8 18.71 L34.73 17.91 L35.79 17.22 L37.07 16.55 L37.24 15.38 L37.56 14.32 L37.38 13.44 L37.43 12.51 L37.18 11.34 L38.31 11.25 L38.98 10.54 L39.56 9.71 L40.35 9.47 L39.61 8.63 L38.97 7.67 L38.13 6.66 L38.68 5.64 L38.82 4.62 L38.49 3.57 L38.71 2.44 L38.66 1.21 L38.99 0.36 L39.46 -0.44 L39.73 -1.19 L39.71 -2.29 L38.92 -3.01 L38.27 -3.73 L38.22 -4.91 L37.36 -5.47 L36.52 -6.05 L36.08 -6.99 L34.81 -7.04 L33.77 -7.75 L33.27 -8.9 L32.49 -9.53 L33.09 -11.2 L32.18 -12.47 L33.17 -12.97 L33.94 -13.48 L34.47 -14.32 L34.43 -15.24 L34.7 -16.22 L33.63 -17.66 L33.38 -18.81 L33.6 -19.93 L34.1 -21.02 L34.4 -22.35 L33.98 -23.29 L33.48 -24.37 L32.57 -24.72 L31.53 -24.79 L30.72 -25.37 L29.67 -25.64 L28.58 -25.8 L27.62 -26.16 L26.62 -26.51 L25.59 -26.68 L24.6 -27.16 L23.62 -27.5 L22.55 -27.3 L21.81 -27.65 L21.31 -28.59 L20.66 -29.61 L19.36 -30.02 L18.34 -29.81 L17.3 -29.69 L16.22 -29.55 L15.09 -29.74 L14.03 -30.19 L13.15 -30.95 L12.15 -31.51 L11.06 -31.86 L10.14 -32.55 L9.02 -32.83 L7.92 -32.51 L6.4 -32.51 L5.63 -33.72 L3.91 -34.17 L3.02 -33.75 L2.21 -33.18 L1.39 -32.59 L0.28 -32.6 L-0.6 -31.91 L-1.73 -32.23 L-2.77 -32.34 L-4.39 -32.37 L-5.89 -31.99 L-6.97 -30.96 L-7.03 -29.97 L-6.88 -28.88 L-7.6 -27.44 L-7.61 -26.49 L-8.11 -25.67 L-8.8 -24.17 L-9 -23.13 L-9.94 -22.64 L-10.8 -21.76 L-11.42 -20.61 L-11.32 -19.55 L-11.58 -18.54 L-11.42 -17.58 L-10.96 -16.48 L-10.91 -15.57 L-11.88 -15.28 L-12.86 -15.14 L-13.94 -15.27 L-14.94 -14.78 L-16.16 -14.96 L-17.36 -14.81 L-18.48 -14.2 L-19.65 -14.06 L-20.7 -13.79 L-21.63 -13.54 L-22.31 -12.87 L-22.59 -11.96 L-23.26 -11.22 L-23.92 -12.09 L-23.99 -13.38 L-24.84 -13.63 L-24.61 -14.57 L-25.68 -15.01 L-26.7 -15.57 L-28.07 -15.7 L-29.15 -16.45 L-30.1 -16.7 L-30.89 -17.22 L-31.69 -17.71 L-32.65 -17.9 L-33.34 -18.56 L-34.25 -18.8 L-35.13 -19.09 L-35.67 -19.96 L-36.9 -20.42 L-37.72 -21.39 L-37.96 -22.34 L-38.46 -23.17 L-39.01 -23.97 L-39.31 -24.9Z" fill="#c2c2c2" stroke="#262626" stroke-width="0.75" stroke-linejoin="round"/>
<path d="M-39.53 -23.29 L-39.25 -23.04 L-40.16 -24.43 L-40.68 -22.9 L-40.14 -22.14 L-39.76 -21.3 L-39.58 -20.35 L-38.99 -19.6 L-38.54 -18.77 L-38.14 -17.9 L-37.64 -17.12 L-36.9 -16.53 L-36.41 -15.73 L-35.51 -14.94 L-34.65 -14.11 L-34.59 -13.14 L-34.33 -12.22 L-33.07 -11.55 L-32.17 -10.69 L-31.5 -9.72 L-30.96 -8.7 L-30.61 -7.6 L-30.22 -6.55 L-29.65 -5.56 L-29.56 -4.46 L-29.1 -3.31 L-28.75 -4.2 L-28.66 -5.21 L-28.26 -6.1 L-27.59 -6.8 L-27.41 -6.73 L-27.86 -5.43 L-28.43 -3.87 L-29.01 -2.97 L-29.37 -1.99 L-29.6 -1.05 L-29.41 -0.07 L-29.6 1.14 L-29.46 2.26 L-30.38 3.53 L-31.48 5.09 L-30.54 6.72 L-29.58 6.35 L-28.49 6.67 L-27.71 5.7 L-26.73 4.99 L-25.84 5.04 L-25.55 6.16 L-25.01 7.29 L-25.28 8.16 L-25.46 9.05 L-25.52 9.92 L-25.24 10.86 L-25.11 11.79 L-24.7 12.68 L-23.83 13.29 L-23.3 14.95 L-22.48 16.41 L-21.61 16.84 L-20.98 17.54 L-19.88 18.24 L-18.69 18.76 L-17.46 18.93 L-16.5 19.73 L-15.5 20.27 L-14.34 20.98 L-13.61 20.04 L-12.58 19.53 L-11.65 19.24 L-10.73 19.41 L-9.64 19.75 L-8.93 20.38 L-8.58 19.46 L-8.15 18.42 L-8.79 17.28 L-9.64 16.2 L-9.76 15.07 L-9.55 14.12 L-8.79 13.57 L-7.91 13.23 L-7.03 11.93 L-6.45 10.76 L-5.56 9.72 L-5.51 8.54 L-5.49 7.29 L-5.03 6.87 L-4.23 7.05 L-3.92 8.03 L-3.31 8.74 L-2.51 9.48 L-1.49 9.49 L-0.54 9.88 L0.43 9.68 L1.24 10.2 L1.95 10.85 L2.59 11.76 L3.6 12.31 L4.43 13.22 L5.05 14.29 L5.37 15.43 L5.59 16.69 L5 17.81 L4.46 18.73 L5.15 19.73 L5.87 20.76 L6.01 21.65 L5.92 22.58 L6.29 23.48 L5.93 24.35 L5.83 25.28 L5.49 26.14 L5.54 27.06 L5.3 27.93 L5.28 28.7 L5.52 30.02 L6.18 31.15 L7.69 31.57 L9.47 31.89 L10.59 32.3 L11.82 32.07 L12.89 32.63 L14.05 32.64 L15.21 32.68 L16.4 32.84 L17.49 32.42 L18.63 32.27 L19.97 32.36 L21.45 32.46 L22.04 31.63 L22.94 31.27 L23.86 30.65 L24.77 30.07 L25.65 29.81 L26.54 29.65 L27.5 29.37 L28.8 30 L28.77 28.84 L29.08 27.75 L29.64 26.65 L30.33 25.7 L31.09 24.1 L31.98 23.56 L32.59 22.79 L33.07 21.99 L33.46 21.17 L33.62 20.01 L33.86 18.79 L34.87 18.08 L35.76 17.17 L37.35 16.6 L37.47 15.43 L38.03 14.25 L37.89 13.36 L37.54 12.5 L37.31 11.5 L38.29 11.23 L38.87 10.4 L39.66 9.85 L40.3 9.52 L39.65 8.6 L39.04 7.63 L38.39 6.67 L38.28 5.63 L38.47 4.6 L38.27 3.53 L38.6 2.42 L38.74 1.24 L39.2 0.44 L39.35 -0.48 L39.66 -1.16 L39.4 -2.17 L39 -3.08 L38.58 -3.95 L37.99 -4.71 L37.44 -5.54 L36.77 -6.26 L36.11 -7.07 L34.97 -7.53 L33.71 -7.7 L32.94 -8.64 L32.29 -9.88 L31.21 -9.61 L30.21 -10.03 L29.2 -10.12 L27.87 -10.94 L28.85 -11.38 L30 -11.61 L31.13 -12 L32.32 -12.22 L33.29 -12.75 L33.99 -13.48 L34.3 -14.34 L34.41 -15.24 L34.67 -16.21 L33.9 -17.7 L33.73 -18.86 L33.43 -19.99 L33.97 -21.07 L34.25 -22.3 L33.87 -23.25 L33.34 -24.04 L32.4 -24.35 L31.53 -24.79 L30.69 -25.29 L29.63 -25.55 L28.75 -26.27 L27.68 -26.52 L26.66 -26.73 L25.63 -26.91 L24.6 -27.11 L23.57 -27.18 L22.52 -27.1 L21.68 -27.57 L21.12 -28.48 L20.48 -29.35 L19.34 -30.14 L18.3 -30.08 L17.31 -29.67 L16.27 -29.88 L15.1 -29.82 L13.88 -29.94 L12.95 -30.61 L12.08 -31.41 L11 -31.75 L10.14 -32.56 L9.03 -32.85 L7.86 -32.79 L6.26 -32.4 L5.53 -33.44 L3.95 -34.07 L3.04 -33.71 L2.18 -33.25 L1.28 -32.86 L0.44 -32.21 L-0.6 -31.85 L-1.73 -31.9 L-2.83 -32.14 L-4.38 -32.35 L-5.98 -32.04 L-6.43 -30.84 L-6.66 -29.89 L-6.98 -28.94 L-7.94 -27.44 L-7.95 -26.49 L-7.94 -25.58 L-8.55 -23.99 L-9.2 -23.28 L-9.75 -22.49 L-10.52 -21.54 L-11.12 -20.57 L-11.62 -19.59 L-11.4 -18.51 L-11.89 -17.42 L-11.49 -16.3 L-10.91 -15.48 L-9.87 -15.31 L-9.37 -14.53 L-8.86 -13.96 L-8.46 -12.71 L-8.23 -11.39 L-8.67 -10.18 L-9.49 -9.14 L-9.53 -8.12 L-10.08 -7.32 L-10.4 -6.25 L-12.03 -6.26 L-13.05 -6.14 L-13.87 -5.42 L-14.93 -5.42 L-15.84 -4.94 L-16.87 -4.64 L-17.72 -4.09 L-19.39 -4.22 L-20.81 -5.02 L-22.21 -6.13 L-22.76 -7.35 L-23.1 -8.66 L-23.04 -9.97 L-23.24 -11.24 L-23.78 -12.16 L-24.28 -13.02 L-24.81 -13.63 L-24.63 -14.51 L-25.65 -15.11 L-26.88 -15.07 L-28.01 -15.87 L-29.21 -16.34 L-30.2 -16.54 L-30.79 -17.38 L-31.64 -17.79 L-32.41 -18.38 L-33.37 -18.51 L-34.18 -18.94 L-35 -19.35 L-35.64 -19.99 L-36.72 -20.63 L-37.76 -21.37 L-38.13 -22.26 L-38.6 -23.1 L-39.11 -23.93 L-39.1 -24.88Z" fill="#f4f4f4" stroke="#3a3a3a" stroke-width="0.5" stroke-linejoin="round"/>
<path d="M-39.38 -23.34 L-39.58 -22.83 L-40.46 -24.48 L-40.38 -23.05 L-40.28 -22.07 L-39.78 -21.29 L-39.2 -20.57 L-38.99 -19.6 L-38.23 -18.95 L-38 -18 L-37.24 -17.42 L-36.7 -16.68 L-36.33 -15.81 L-35.66 -14.78 L-34.38 -14.15 L-34.3 -13.18 L-34.39 -12.12 L-33.28 -11.34 L-32.22 -10.64 L-31.23 -9.83 L-31.18 -8.61 L-30.14 -7.79 L-30.25 -6.55 L-29.62 -5.56 L-29.29 -4.52 L-29.54 -3.51 L-29.02 -4.32 L-28.3 -5.04 L-28.29 -6.11 L-27.68 -6.78 L-27.71 -6.81 L-27.89 -5.44 L-28.66 -3.94 L-28.64 -2.86 L-28.92 -1.91 L-29.2 -0.97 L-29.71 -0.05 L-29.44 1.13 L-29.31 2.41 L-30.59 3.43 L-31.28 4.98 L-30.54 6.35 L-29.58 6.69 L-28.55 6.6 L-27.79 5.6 L-26.73 5.05 L-25.61 5 L-25.65 6.18 L-25.34 7.24 L-25.17 8.18 L-25.79 9 L-25.33 9.88 L-25.33 10.88 L-25.32 11.95 L-24.42 12.48 L-24.04 13.39 L-22.99 14.79 L-22.57 16.52 L-21.87 17.17 L-21.03 17.67 L-19.97 18.42 L-18.65 18.63 L-17.57 19.27 L-16.41 19.58 L-15.45 20.2 L-14.48 20.75 L-13.39 20.41 L-12.5 19.95 L-11.61 19.45 L-10.71 19.38 L-9.55 19.59 L-8.73 20.56 L-7.2 20.28 L-5.44 20.4 L-4.44 20.36 L-3.42 20.07 L-2.43 20.22 L-1.46 20.49 L-0.43 20.12 L0.54 20.51 L1.54 20.34 L2.53 20.35 L3.53 20.35 L4.63 20.9 L6.03 20.73 L6.09 21.64 L6.13 22.55 L5.94 23.38 L6.21 24.43 L5.71 25.25 L5.38 26.13 L5.03 26.99 L4.96 27.89 L4.83 28.92 L5.76 29.9 L6.21 31.08 L7.69 31.63 L9.42 32.17 L10.58 32.4 L11.83 32.02 L12.96 32.25 L14.05 32.49 L15.21 32.49 L16.37 32.67 L17.51 32.53 L18.63 32.1 L19.97 31.91 L21.28 32.22 L22.03 31.62 L22.88 31.17 L23.97 30.84 L24.78 30.13 L25.66 29.87 L26.56 29.8 L27.41 29.7 L28.68 30 L29.27 28.84 L29.14 27.8 L29.94 26.89 L30.66 25.87 L31.19 24.18 L31.79 23.41 L32.22 22.51 L33.08 21.99 L33.27 21.14 L33.45 19.98 L33.8 18.71 L34.73 17.91 L35.79 17.22 L37.07 16.55 L37.24 15.38 L37.56 14.32 L37.38 13.44 L37.43 12.51 L37.18 11.34 L38.31 11.25 L38.98 10.54 L39.56 9.71 L40.35 9.47 L39.61 8.63 L38.97 7.67 L38.13 6.66 L38.68 5.64 L38.82 4.62 L38.49 3.57 L38.71 2.44 L38.66 1.21 L38.99 0.36 L39.46 -0.44 L39.73 -1.19 L39.71 -2.29 L38.92 -3.01 L38.27 -3.73 L38.22 -4.91 L37.36 -5.47 L36.52 -6.05 L36.08 -6.99 L34.81 -7.04 L33.77 -7.75 L33.27 -8.9 L32.49 -9.53 L33.09 -11.2 L32.18 -12.47 L33.17 -12.97 L33.94 -13.48 L34.47 -14.32 L34.43 -15.24 L34.7 -16.22 L33.63 -17.66 L33.38 -18.81 L33.6 -19.93 L34.1 -21.02 L34.4 -22.35 L33.98 -23.29 L33.48 -24.37 L32.57 -24.72 L31.53 -24.79 L30.72 -25.37 L29.67 -25.64 L28.58 -25.8 L27.62 -26.16 L26.62 -26.51 L25.59 -26.68 L24.6 -27.16 L23.62 -27.5 L22.55 -27.3 L21.81 -27.65 L21.31 -28.59 L20.66 -29.61 L19.36 -30.02 L18.34 -29.81 L17.3 -29.69 L16.22 -29.55 L15.09 -29.74 L14.03 -30.19 L13.15 -30.95 L12.15 -31.51 L11.06 -31.86 L10.14 -32.55 L9.02 -32.83 L7.92 -32.51 L6.4 -32.51 L5.63 -33.72 L3.91 -34.17 L3.02 -33.75 L2.21 -33.18 L1.39 -32.59 L0.28 -32.6 L-0.6 -31.91 L-1.73 -32.23 L-2.77 -32.34 L-4.39 -32.37 L-5.89 -31.99 L-6.97 -30.96 L-7.03 -29.97 L-6.88 -28.88 L-7.6 -27.44 L-7.61 -26.49 L-8.11 -25.67 L-8.8 -24.17 L-9 -23.13 L-9.94 -22.64 L-10.8 -21.76 L-11.42 -20.61 L-11.32 -19.55 L-11.58 -18.54 L-11.42 -17.58 L-10.96 -16.48 L-10.91 -15.57 L-11.88 -15.28 L-12.86 -15.14 L-13.94 -15.27 L-14.94 -14.78 L-16.16 -14.96 L-17.36 -14.81 L-18.48 -14.2 L-19.65 -14.06 L-20.7 -13.79 L-21.63 -13.54 L-22.31 -12.87 L-22.59 -11.96 L-23.26 -11.22 L-23.92 -12.09 L-23.99 -13.38 L-24.84 -13.63 L-24.61 -14.57 L-25.68 -15.01 L-26.7 -15.57 L-28.07 -15.7 L-29.15 -16.45 L-30.1 -16.7 L-30.89 -17.22 L-31.69 -17.71 L-32.65 -17.9 L-33.34 -18.56 L-34.25 -18.8 L-35.13 -19.09 L-35.67 -19.96 L-36.9 -20.42 L-37.72 -21.39 L-37.96 -22.34 L-38.46 -23.17 L-39.01 -23.97 L-39.31 -24.9Z" fill="none" stroke="#262626" stroke-width="0.75" stroke-linejoin="round"/>
</g>
</g>
<g clip-path="url(#ax2)">
<rect x="397.9" y="19.7" width="287.1" height="160" fill="#fff"/>
<path d="M397.4 19.8 L400.6 19.8 L401.4 34.3 L402.2 42.3 L403.8 52 L407.1 58.4 L413.5 63.2 L419.9 68.1 L424.7 70.5 L426.7 72 L428.2 74.5 L426.4 76.5 L422.3 77 L418.3 76.6 L410.3 72.9 L403.8 69.7 L397.4 68.1Z" fill="#f5f5f5"/>
<g stroke="#a3a3a3" stroke-width="0.6" stroke-dasharray="2 1.3" fill="none"><line x1="485.3" y1="26.7" x2="485.3" y2="168" /><line x1="423.81" y1="61.5" x2="546.79" y2="132.5"/><line x1="423.81" y1="132.5" x2="546.79" y2="61.5"/><circle cx="485.3" cy="97" r="25.4" fill="none"/><circle cx="485.3" cy="97" r="51.8" fill="none"/></g>
<g clip-path="url(#rc2)">
<path d="M442.2 19.7 L562.2 63 L525.2 164 L405.2 121Z" fill="#3e7a9b"/>
<path d="M426.2 62 L427.7 63 L427.2 67 L428.7 70 L427.7 73 L428.7 75.5 L426.7 78 L424.2 77.5 L425.7 74 L425.2 70 L426.2 66Z" fill="#dfe9ee"/>
</g>
<g stroke="#8a8a8a" stroke-opacity="0.22" stroke-width="0.6" stroke-dasharray="2 1.5" fill="none"><line x1="485.3" y1="26.7" x2="485.3" y2="168" /><line x1="423.81" y1="61.5" x2="546.79" y2="132.5"/><line x1="423.81" y1="132.5" x2="546.79" y2="61.5"/><circle cx="485.3" cy="97" r="25.4" fill="none"/><circle cx="485.3" cy="97" r="51.8" fill="none"/></g>
<g transform="translate(485.3 97)">
<path d="M-39.38 -23.34 L-39.58 -22.83 L-40.46 -24.48 L-40.38 -23.05 L-40.28 -22.07 L-39.78 -21.29 L-39.2 -20.57 L-38.99 -19.6 L-38.23 -18.95 L-38 -18 L-37.24 -17.42 L-36.7 -16.68 L-36.33 -15.81 L-35.66 -14.78 L-34.38 -14.15 L-34.3 -13.18 L-34.39 -12.12 L-33.28 -11.34 L-32.22 -10.64 L-31.23 -9.83 L-31.18 -8.61 L-30.14 -7.79 L-30.25 -6.55 L-29.62 -5.56 L-29.29 -4.52 L-29.54 -3.51 L-29.02 -4.32 L-28.3 -5.04 L-28.29 -6.11 L-27.68 -6.78 L-27.71 -6.81 L-27.89 -5.44 L-28.66 -3.94 L-28.64 -2.86 L-28.92 -1.91 L-29.2 -0.97 L-29.71 -0.05 L-29.44 1.13 L-29.31 2.41 L-30.59 3.43 L-31.28 4.98 L-30.54 6.35 L-29.58 6.69 L-28.55 6.6 L-27.79 5.6 L-26.73 5.05 L-25.61 5 L-25.65 6.18 L-25.34 7.24 L-25.17 8.18 L-25.79 9 L-25.33 9.88 L-25.33 10.88 L-25.32 11.95 L-24.42 12.48 L-24.04 13.39 L-22.99 14.79 L-22.57 16.52 L-21.87 17.17 L-21.03 17.67 L-19.97 18.42 L-18.65 18.63 L-17.57 19.27 L-16.41 19.58 L-15.45 20.2 L-14.48 20.75 L-13.39 20.41 L-12.5 19.95 L-11.61 19.45 L-10.71 19.38 L-9.55 19.59 L-8.73 20.56 L-7.2 20.28 L-5.44 20.4 L-4.44 20.36 L-3.42 20.07 L-2.43 20.22 L-1.46 20.49 L-0.43 20.12 L0.54 20.51 L1.54 20.34 L2.53 20.35 L3.53 20.35 L4.63 20.9 L6.03 20.73 L6.09 21.64 L6.13 22.55 L5.94 23.38 L6.21 24.43 L5.71 25.25 L5.38 26.13 L5.03 26.99 L4.96 27.89 L4.83 28.92 L5.76 29.9 L6.21 31.08 L7.69 31.63 L9.42 32.17 L10.58 32.4 L11.83 32.02 L12.96 32.25 L14.05 32.49 L15.21 32.49 L16.37 32.67 L17.51 32.53 L18.63 32.1 L19.97 31.91 L21.28 32.22 L22.03 31.62 L22.88 31.17 L23.97 30.84 L24.78 30.13 L25.66 29.87 L26.56 29.8 L27.41 29.7 L28.68 30 L29.27 28.84 L29.14 27.8 L29.94 26.89 L30.66 25.87 L31.19 24.18 L31.79 23.41 L32.22 22.51 L33.08 21.99 L33.27 21.14 L33.45 19.98 L33.8 18.71 L34.73 17.91 L35.79 17.22 L37.07 16.55 L37.24 15.38 L37.56 14.32 L37.38 13.44 L37.43 12.51 L37.18 11.34 L38.31 11.25 L38.98 10.54 L39.56 9.71 L40.35 9.47 L39.61 8.63 L38.97 7.67 L38.13 6.66 L38.68 5.64 L38.82 4.62 L38.49 3.57 L38.71 2.44 L38.66 1.21 L38.99 0.36 L39.46 -0.44 L39.73 -1.19 L39.71 -2.29 L38.92 -3.01 L38.27 -3.73 L38.22 -4.91 L37.36 -5.47 L36.52 -6.05 L36.08 -6.99 L34.81 -7.04 L33.77 -7.75 L33.27 -8.9 L32.49 -9.53 L33.09 -11.2 L32.18 -12.47 L33.17 -12.97 L33.94 -13.48 L34.47 -14.32 L34.43 -15.24 L34.7 -16.22 L33.63 -17.66 L33.38 -18.81 L33.6 -19.93 L34.1 -21.02 L34.4 -22.35 L33.98 -23.29 L33.48 -24.37 L32.57 -24.72 L31.53 -24.79 L30.72 -25.37 L29.67 -25.64 L28.58 -25.8 L27.62 -26.16 L26.62 -26.51 L25.59 -26.68 L24.6 -27.16 L23.62 -27.5 L22.55 -27.3 L21.81 -27.65 L21.31 -28.59 L20.66 -29.61 L19.36 -30.02 L18.34 -29.81 L17.3 -29.69 L16.22 -29.55 L15.09 -29.74 L14.03 -30.19 L13.15 -30.95 L12.15 -31.51 L11.06 -31.86 L10.14 -32.55 L9.02 -32.83 L7.92 -32.51 L6.4 -32.51 L5.63 -33.72 L3.91 -34.17 L3.02 -33.75 L2.21 -33.18 L1.39 -32.59 L0.28 -32.6 L-0.6 -31.91 L-1.73 -32.23 L-2.77 -32.34 L-4.39 -32.37 L-5.89 -31.99 L-6.97 -30.96 L-7.03 -29.97 L-6.88 -28.88 L-7.6 -27.44 L-7.61 -26.49 L-8.11 -25.67 L-8.8 -24.17 L-9 -23.13 L-9.94 -22.64 L-10.8 -21.76 L-11.42 -20.61 L-11.32 -19.55 L-11.58 -18.54 L-11.42 -17.58 L-10.96 -16.48 L-10.91 -15.57 L-11.88 -15.28 L-12.86 -15.14 L-13.94 -15.27 L-14.94 -14.78 L-16.16 -14.96 L-17.36 -14.81 L-18.48 -14.2 L-19.65 -14.06 L-20.7 -13.79 L-21.63 -13.54 L-22.31 -12.87 L-22.59 -11.96 L-23.26 -11.22 L-23.92 -12.09 L-23.99 -13.38 L-24.84 -13.63 L-24.61 -14.57 L-25.68 -15.01 L-26.7 -15.57 L-28.07 -15.7 L-29.15 -16.45 L-30.1 -16.7 L-30.89 -17.22 L-31.69 -17.71 L-32.65 -17.9 L-33.34 -18.56 L-34.25 -18.8 L-35.13 -19.09 L-35.67 -19.96 L-36.9 -20.42 L-37.72 -21.39 L-37.96 -22.34 L-38.46 -23.17 L-39.01 -23.97 L-39.31 -24.9Z" fill="#c2c2c2" stroke="#262626" stroke-width="0.75" stroke-linejoin="round"/>
<path d="M-39.53 -23.29 L-39.25 -23.04 L-40.16 -24.43 L-40.68 -22.9 L-40.14 -22.14 L-39.76 -21.3 L-39.58 -20.35 L-38.99 -19.6 L-38.54 -18.77 L-38.14 -17.9 L-37.64 -17.12 L-36.9 -16.53 L-36.41 -15.73 L-35.51 -14.94 L-34.65 -14.11 L-34.59 -13.14 L-34.33 -12.22 L-33.07 -11.55 L-32.17 -10.69 L-31.5 -9.72 L-30.96 -8.7 L-30.61 -7.6 L-30.22 -6.55 L-29.65 -5.56 L-29.56 -4.46 L-29.1 -3.31 L-28.75 -4.2 L-28.66 -5.21 L-28.26 -6.1 L-27.59 -6.8 L-27.41 -6.73 L-27.86 -5.43 L-28.43 -3.87 L-29.01 -2.97 L-29.37 -1.99 L-29.6 -1.05 L-29.41 -0.07 L-29.6 1.14 L-29.46 2.26 L-30.38 3.53 L-31.48 5.09 L-30.54 6.72 L-29.58 6.35 L-28.49 6.67 L-27.71 5.7 L-26.73 4.99 L-25.84 5.04 L-25.55 6.16 L-25.01 7.29 L-25.28 8.16 L-25.46 9.05 L-25.52 9.92 L-25.24 10.86 L-25.11 11.79 L-24.7 12.68 L-23.83 13.29 L-23.3 14.95 L-22.48 16.41 L-21.61 16.84 L-20.98 17.54 L-19.88 18.24 L-18.69 18.76 L-17.46 18.93 L-16.5 19.73 L-15.5 20.27 L-14.34 20.98 L-13.61 20.04 L-12.58 19.53 L-11.65 19.24 L-10.73 19.41 L-9.64 19.75 L-8.93 20.38 L-8.58 19.46 L-8.15 18.42 L-8.79 17.28 L-9.64 16.2 L-9.76 15.07 L-9.55 14.12 L-8.79 13.57 L-7.91 13.23 L-7.03 11.93 L-6.45 10.76 L-5.56 9.72 L-5.51 8.54 L-5.49 7.29 L-5.03 6.87 L-4.23 7.05 L-3.92 8.03 L-3.31 8.74 L-2.51 9.48 L-1.49 9.49 L-0.54 9.88 L0.43 9.68 L1.24 10.2 L1.95 10.85 L2.59 11.76 L3.6 12.31 L4.43 13.22 L5.05 14.29 L5.37 15.43 L5.59 16.69 L5 17.81 L4.46 18.73 L5.15 19.73 L5.87 20.76 L6.01 21.65 L5.92 22.58 L6.29 23.48 L5.93 24.35 L5.83 25.28 L5.49 26.14 L5.54 27.06 L5.3 27.93 L5.28 28.7 L5.52 30.02 L6.18 31.15 L7.69 31.57 L9.47 31.89 L10.59 32.3 L11.82 32.07 L12.89 32.63 L14.05 32.64 L15.21 32.68 L16.4 32.84 L17.49 32.42 L18.63 32.27 L19.97 32.36 L21.45 32.46 L22.04 31.63 L22.94 31.27 L23.86 30.65 L24.77 30.07 L25.65 29.81 L26.54 29.65 L27.5 29.37 L28.8 30 L28.77 28.84 L29.08 27.75 L29.64 26.65 L30.33 25.7 L31.09 24.1 L31.98 23.56 L32.59 22.79 L33.07 21.99 L33.46 21.17 L33.62 20.01 L33.86 18.79 L34.87 18.08 L35.76 17.17 L37.35 16.6 L37.47 15.43 L38.03 14.25 L37.89 13.36 L37.54 12.5 L37.31 11.5 L38.29 11.23 L38.87 10.4 L39.66 9.85 L40.3 9.52 L39.65 8.6 L39.04 7.63 L38.39 6.67 L38.28 5.63 L38.47 4.6 L38.27 3.53 L38.6 2.42 L38.74 1.24 L39.2 0.44 L39.35 -0.48 L39.66 -1.16 L39.4 -2.17 L39 -3.08 L38.58 -3.95 L37.99 -4.71 L37.44 -5.54 L36.77 -6.26 L36.11 -7.07 L34.97 -7.53 L33.71 -7.7 L32.94 -8.64 L32.29 -9.88 L31.21 -9.61 L30.21 -10.03 L29.2 -10.12 L27.87 -10.94 L28.85 -11.38 L30 -11.61 L31.13 -12 L32.32 -12.22 L33.29 -12.75 L33.99 -13.48 L34.3 -14.34 L34.41 -15.24 L34.67 -16.21 L33.9 -17.7 L33.73 -18.86 L33.43 -19.99 L33.97 -21.07 L34.25 -22.3 L33.87 -23.25 L33.34 -24.04 L32.4 -24.35 L31.53 -24.79 L30.69 -25.29 L29.63 -25.55 L28.75 -26.27 L27.68 -26.52 L26.66 -26.73 L25.63 -26.91 L24.6 -27.11 L23.57 -27.18 L22.52 -27.1 L21.68 -27.57 L21.12 -28.48 L20.48 -29.35 L19.34 -30.14 L18.3 -30.08 L17.31 -29.67 L16.27 -29.88 L15.1 -29.82 L13.88 -29.94 L12.95 -30.61 L12.08 -31.41 L11 -31.75 L10.14 -32.56 L9.03 -32.85 L7.86 -32.79 L6.26 -32.4 L5.53 -33.44 L3.95 -34.07 L3.04 -33.71 L2.18 -33.25 L1.28 -32.86 L0.44 -32.21 L-0.6 -31.85 L-1.73 -31.9 L-2.83 -32.14 L-4.38 -32.35 L-5.98 -32.04 L-6.43 -30.84 L-6.66 -29.89 L-6.98 -28.94 L-7.94 -27.44 L-7.95 -26.49 L-7.94 -25.58 L-8.55 -23.99 L-9.2 -23.28 L-9.75 -22.49 L-10.52 -21.54 L-11.12 -20.57 L-11.62 -19.59 L-11.4 -18.51 L-11.89 -17.42 L-11.49 -16.3 L-10.91 -15.48 L-9.87 -15.31 L-9.37 -14.53 L-8.86 -13.96 L-8.46 -12.71 L-8.23 -11.39 L-8.67 -10.18 L-9.49 -9.14 L-9.53 -8.12 L-10.08 -7.32 L-10.4 -6.25 L-12.03 -6.26 L-13.05 -6.14 L-13.87 -5.42 L-14.93 -5.42 L-15.84 -4.94 L-16.87 -4.64 L-17.72 -4.09 L-19.39 -4.22 L-20.81 -5.02 L-22.21 -6.13 L-22.76 -7.35 L-23.1 -8.66 L-23.04 -9.97 L-23.24 -11.24 L-23.78 -12.16 L-24.28 -13.02 L-24.81 -13.63 L-24.63 -14.51 L-25.65 -15.11 L-26.88 -15.07 L-28.01 -15.87 L-29.21 -16.34 L-30.2 -16.54 L-30.79 -17.38 L-31.64 -17.79 L-32.41 -18.38 L-33.37 -18.51 L-34.18 -18.94 L-35 -19.35 L-35.64 -19.99 L-36.72 -20.63 L-37.76 -21.37 L-38.13 -22.26 L-38.6 -23.1 L-39.11 -23.93 L-39.1 -24.88Z" fill="#f4f4f4" stroke="#3a3a3a" stroke-width="0.5" stroke-linejoin="round"/>
<path d="M-39.38 -23.34 L-39.58 -22.83 L-40.46 -24.48 L-40.38 -23.05 L-40.28 -22.07 L-39.78 -21.29 L-39.2 -20.57 L-38.99 -19.6 L-38.23 -18.95 L-38 -18 L-37.24 -17.42 L-36.7 -16.68 L-36.33 -15.81 L-35.66 -14.78 L-34.38 -14.15 L-34.3 -13.18 L-34.39 -12.12 L-33.28 -11.34 L-32.22 -10.64 L-31.23 -9.83 L-31.18 -8.61 L-30.14 -7.79 L-30.25 -6.55 L-29.62 -5.56 L-29.29 -4.52 L-29.54 -3.51 L-29.02 -4.32 L-28.3 -5.04 L-28.29 -6.11 L-27.68 -6.78 L-27.71 -6.81 L-27.89 -5.44 L-28.66 -3.94 L-28.64 -2.86 L-28.92 -1.91 L-29.2 -0.97 L-29.71 -0.05 L-29.44 1.13 L-29.31 2.41 L-30.59 3.43 L-31.28 4.98 L-30.54 6.35 L-29.58 6.69 L-28.55 6.6 L-27.79 5.6 L-26.73 5.05 L-25.61 5 L-25.65 6.18 L-25.34 7.24 L-25.17 8.18 L-25.79 9 L-25.33 9.88 L-25.33 10.88 L-25.32 11.95 L-24.42 12.48 L-24.04 13.39 L-22.99 14.79 L-22.57 16.52 L-21.87 17.17 L-21.03 17.67 L-19.97 18.42 L-18.65 18.63 L-17.57 19.27 L-16.41 19.58 L-15.45 20.2 L-14.48 20.75 L-13.39 20.41 L-12.5 19.95 L-11.61 19.45 L-10.71 19.38 L-9.55 19.59 L-8.73 20.56 L-7.2 20.28 L-5.44 20.4 L-4.44 20.36 L-3.42 20.07 L-2.43 20.22 L-1.46 20.49 L-0.43 20.12 L0.54 20.51 L1.54 20.34 L2.53 20.35 L3.53 20.35 L4.63 20.9 L6.03 20.73 L6.09 21.64 L6.13 22.55 L5.94 23.38 L6.21 24.43 L5.71 25.25 L5.38 26.13 L5.03 26.99 L4.96 27.89 L4.83 28.92 L5.76 29.9 L6.21 31.08 L7.69 31.63 L9.42 32.17 L10.58 32.4 L11.83 32.02 L12.96 32.25 L14.05 32.49 L15.21 32.49 L16.37 32.67 L17.51 32.53 L18.63 32.1 L19.97 31.91 L21.28 32.22 L22.03 31.62 L22.88 31.17 L23.97 30.84 L24.78 30.13 L25.66 29.87 L26.56 29.8 L27.41 29.7 L28.68 30 L29.27 28.84 L29.14 27.8 L29.94 26.89 L30.66 25.87 L31.19 24.18 L31.79 23.41 L32.22 22.51 L33.08 21.99 L33.27 21.14 L33.45 19.98 L33.8 18.71 L34.73 17.91 L35.79 17.22 L37.07 16.55 L37.24 15.38 L37.56 14.32 L37.38 13.44 L37.43 12.51 L37.18 11.34 L38.31 11.25 L38.98 10.54 L39.56 9.71 L40.35 9.47 L39.61 8.63 L38.97 7.67 L38.13 6.66 L38.68 5.64 L38.82 4.62 L38.49 3.57 L38.71 2.44 L38.66 1.21 L38.99 0.36 L39.46 -0.44 L39.73 -1.19 L39.71 -2.29 L38.92 -3.01 L38.27 -3.73 L38.22 -4.91 L37.36 -5.47 L36.52 -6.05 L36.08 -6.99 L34.81 -7.04 L33.77 -7.75 L33.27 -8.9 L32.49 -9.53 L33.09 -11.2 L32.18 -12.47 L33.17 -12.97 L33.94 -13.48 L34.47 -14.32 L34.43 -15.24 L34.7 -16.22 L33.63 -17.66 L33.38 -18.81 L33.6 -19.93 L34.1 -21.02 L34.4 -22.35 L33.98 -23.29 L33.48 -24.37 L32.57 -24.72 L31.53 -24.79 L30.72 -25.37 L29.67 -25.64 L28.58 -25.8 L27.62 -26.16 L26.62 -26.51 L25.59 -26.68 L24.6 -27.16 L23.62 -27.5 L22.55 -27.3 L21.81 -27.65 L21.31 -28.59 L20.66 -29.61 L19.36 -30.02 L18.34 -29.81 L17.3 -29.69 L16.22 -29.55 L15.09 -29.74 L14.03 -30.19 L13.15 -30.95 L12.15 -31.51 L11.06 -31.86 L10.14 -32.55 L9.02 -32.83 L7.92 -32.51 L6.4 -32.51 L5.63 -33.72 L3.91 -34.17 L3.02 -33.75 L2.21 -33.18 L1.39 -32.59 L0.28 -32.6 L-0.6 -31.91 L-1.73 -32.23 L-2.77 -32.34 L-4.39 -32.37 L-5.89 -31.99 L-6.97 -30.96 L-7.03 -29.97 L-6.88 -28.88 L-7.6 -27.44 L-7.61 -26.49 L-8.11 -25.67 L-8.8 -24.17 L-9 -23.13 L-9.94 -22.64 L-10.8 -21.76 L-11.42 -20.61 L-11.32 -19.55 L-11.58 -18.54 L-11.42 -17.58 L-10.96 -16.48 L-10.91 -15.57 L-11.88 -15.28 L-12.86 -15.14 L-13.94 -15.27 L-14.94 -14.78 L-16.16 -14.96 L-17.36 -14.81 L-18.48 -14.2 L-19.65 -14.06 L-20.7 -13.79 L-21.63 -13.54 L-22.31 -12.87 L-22.59 -11.96 L-23.26 -11.22 L-23.92 -12.09 L-23.99 -13.38 L-24.84 -13.63 L-24.61 -14.57 L-25.68 -15.01 L-26.7 -15.57 L-28.07 -15.7 L-29.15 -16.45 L-30.1 -16.7 L-30.89 -17.22 L-31.69 -17.71 L-32.65 -17.9 L-33.34 -18.56 L-34.25 -18.8 L-35.13 -19.09 L-35.67 -19.96 L-36.9 -20.42 L-37.72 -21.39 L-37.96 -22.34 L-38.46 -23.17 L-39.01 -23.97 L-39.31 -24.9Z" fill="none" stroke="#262626" stroke-width="0.75" stroke-linejoin="round"/>
</g>
</g>
<rect x="567.2" y="138.35" width="5.8" height="11.35" fill="#3f7b9d"/>
<rect x="567.2" y="127.3" width="5.8" height="11.35" fill="#4589aa"/>
<rect x="567.2" y="116.25" width="5.8" height="11.35" fill="#4a98b6"/>
<rect x="567.2" y="105.2" width="5.8" height="11.35" fill="#4ea6c2"/>
<rect x="567.2" y="94.15" width="5.8" height="11.35" fill="#5ab5cf"/>
<rect x="567.2" y="83.1" width="5.8" height="11.35" fill="#6ec2d8"/>
<rect x="567.2" y="72.05" width="5.8" height="11.35" fill="#95d1e5"/>
<rect x="567.2" y="61" width="5.8" height="11.35" fill="#b6e0ef"/>
<rect x="567.2" y="49.95" width="5.8" height="11.35" fill="#d5eef7"/>
<rect x="567.2" y="38.9" width="5.8" height="11.35" fill="#fcfefe"/>
<path d="M567.2 38.9 L570.1 33.5 L573 38.9 Z" fill="#fcfefe"/>
<path d="M567.2 149.4 L570.1 154.2 L573 149.4 Z" fill="#3f7b9d"/>
<path d="M567.2 38.9 L570.1 33.5 L573 38.9 L573 149.4 L570.1 154.2 L567.2 149.4 Z" fill="none" stroke="#333" stroke-width="0.8"/>
<line x1="573" y1="149.4" x2="577.2" y2="149.4" stroke="#555" stroke-width="0.9"/>
<text x="579.9" y="153.35" font-size="11.8" textLength="6.81" lengthAdjust="spacingAndGlyphs" style="" fill="#222">0</text>
<line x1="573" y1="127.3" x2="577.2" y2="127.3" stroke="#555" stroke-width="0.9"/>
<text x="579.9" y="131.25" font-size="11.8" textLength="13.62" lengthAdjust="spacingAndGlyphs" style="" fill="#222">20</text>
<line x1="573" y1="105.2" x2="577.2" y2="105.2" stroke="#555" stroke-width="0.9"/>
<text x="579.9" y="109.15" font-size="11.8" textLength="13.62" lengthAdjust="spacingAndGlyphs" style="" fill="#222">40</text>
<line x1="573" y1="83.1" x2="577.2" y2="83.1" stroke="#555" stroke-width="0.9"/>
<text x="579.9" y="87.05" font-size="11.8" textLength="13.62" lengthAdjust="spacingAndGlyphs" style="" fill="#222">60</text>
<line x1="573" y1="61" x2="577.2" y2="61" stroke="#555" stroke-width="0.9"/>
<text x="579.9" y="64.95" font-size="11.8" textLength="13.62" lengthAdjust="spacingAndGlyphs" style="" fill="#222">80</text>
<line x1="573" y1="38.9" x2="577.2" y2="38.9" stroke="#555" stroke-width="0.9"/>
<text x="579.9" y="42.85" font-size="11.8" textLength="20.42" lengthAdjust="spacingAndGlyphs" style="" fill="#222">100</text>
<g transform="translate(614.3 118.5) rotate(-90)"><text x="0" y="0" font-size="13.36" textLength="48.64" lengthAdjust="spacingAndGlyphs" style="" fill="#222">SIC (%)</text></g>
<text x="88.9" y="12.6" font-size="13.04" textLength="12.34" lengthAdjust="spacingAndGlyphs" style="" fill="#222">a)</text>
<text x="158.6" y="9.85" font-size="13.04" textLength="31.5" lengthAdjust="spacingAndGlyphs" style="" fill="#222">CTRL</text>
<text x="243.7" y="12.6" font-size="13.04" textLength="12.61" lengthAdjust="spacingAndGlyphs" style="" fill="#222">b)</text>
<text x="312.4" y="9.85" font-size="13.04" textLength="34.62" lengthAdjust="spacingAndGlyphs" style="" fill="#222">exICE</text>
<text x="398.5" y="12.6" font-size="13.04" textLength="11.56" lengthAdjust="spacingAndGlyphs" style="" fill="#222">c)</text>
<text x="466.9" y="9.85" font-size="13.04" textLength="35.31" lengthAdjust="spacingAndGlyphs" style="" fill="#222">noICE</text>
<g transform="translate(84.1 336.7) scale(1)">
<path d="M-67.8 -41.1 L-65.9 -38.2 L-63.8 -34.4 L-61.5 -30.9 L-59.3 -27.9 L-57.1 -25.8 L-53.4 -26.6 L-48.1 -26.4 L-43.8 -24.7 L-40.6 -22.1 L-39 -18.9 L-36.6 -22.9 L-33.1 -23.9 L-29.1 -24.5 L-25.1 -24.9 L-21.6 -25.4 L-18.3 -25.6 L-19.6 -29.4 L-19 -34.6 L-16.4 -37.8 L-14.5 -40.4 L-13.2 -42.9 L-13.2 -46.1 L-11.9 -48.7 L-11.2 -51.9 L-10 -53.8 L-7.4 -54.5 L-4.8 -53.8 L-1 -53.8 L2.2 -55.1 L6.7 -57.1 L9.3 -56.2 L10.6 -54.5 L13.2 -55.1 L17 -54.5 L20.2 -52.6 L23.5 -50.6 L27.3 -50 L32.5 -50.6 L34.4 -49.3 L36.2 -46.2 L41.3 -45.4 L46.5 -44.5 L51.6 -42.6 L56.1 -40.6 L57.4 -37.4 L56.1 -33.6 L56.7 -29.7 L58 -27.1 L57.4 -22.6 L54.2 -20.7 L55.4 -18.7 L54.2 -16.2 L56.7 -13 L60.6 -11.7 L63.8 -7.9 L65.7 -5.3 L67 -2.1 L65.4 2.2 L64.7 6 L64.5 11.2 L66.7 14.4 L68 15.7 L65.4 17.6 L62.8 19.5 L63.5 24 L62.8 27.9 L60.2 29.1 L57 31.7 L56.4 35.6 L54.5 38.1 L52.5 40.7 L51.2 43.3 L48.7 46.5 L48.7 50.4 L46.1 49.7 L41.6 50.4 L38.4 52.3 L35.8 54.2 L31.3 54.2 L27.5 54.9 L23.6 54.9 L19.8 54.2 L15.9 53.6 L12.9 53.3 L10.4 52.3 L8.5 48.4 L9.1 43.9 L10.4 39.4 L9.7 34.9 L5.9 34.7 L0.9 34.5 L-4.1 34.1 L-9.1 33.7 L-12.1 33.9 L-14.7 34.3 L-17.9 32.4 L-21.1 33 L-24.3 34.9 L-27.5 32.8 L-31.4 31.5 L-35.3 29.6 L-37.8 27.6 L-39.1 25.1 L-40.4 22.5 L-42.3 19.9 L-43 16.7 L-42.3 12.2 L-43 8.4 L-44.9 8.4 L-48.1 10.9 L-51.3 10.9 L-52.6 8.4 L-51.3 5.8 L-49.4 3.9 L-49.7 -0.1 L-49.1 -3.3 L-48.1 -6.6 L-47 -9.2 L-46.4 -11.4 L-47.5 -15.1 L-48.6 -17.3 L-50.7 -18.3 L-52.9 -18.3 L-55.5 -19.4 L-57.7 -20.5 L-58.2 -23.7 L-61.1 -26.5 L-63.9 -30.2 L-66.3 -34.3 L-68.3 -38.5Z" fill="#f4f8fc"/>
<g clip-path="url(#coastclip)"><path d="M-67.8 -41.1 L-65.9 -38.2 L-63.8 -34.4 L-61.5 -30.9 L-59.3 -27.9 L-57.1 -25.8 L-53.4 -26.6 L-48.1 -26.4 L-43.8 -24.7 L-40.6 -22.1 L-39 -18.9 L-38.4 -14.6 L-37.3 -10.3 L-35.2 -8.2 L-32.5 -7.3 L-29.8 -6.7 L-26.6 -8.3 L-23.4 -9.4 L-20.2 -10.5 L-17.5 -10.8 L-15.6 -15.2 L-14 -19.2 L-14.5 -23.5 L-16.6 -25.7 L-18.3 -25.6 L-19.6 -29.4 L-19 -34.6 L-16.4 -37.8 L-14.5 -40.4 L-13.2 -42.9 L-13.2 -46.1 L-11.9 -48.7 L-11.2 -51.9 L-10 -53.8 L-7.4 -54.5 L-4.8 -53.8 L-1 -53.8 L2.2 -55.1 L6.7 -57.1 L9.3 -56.2 L10.6 -54.5 L13.2 -55.1 L17 -54.5 L20.2 -52.6 L23.5 -50.6 L27.3 -50 L32.5 -50.6 L34.4 -49.3 L36.2 -46.2 L41.3 -45.4 L46.5 -44.5 L51.6 -42.6 L56.1 -40.6 L57.4 -37.4 L56.1 -33.6 L56.7 -29.7 L58 -27.1 L57.4 -22.6 L54.2 -20.7 L48.4 -19.4 L47.1 -18.1 L49 -16.9 L54.2 -16.2 L56.7 -13 L60.6 -11.7 L63.8 -7.9 L65.7 -5.3 L67 -2.1 L65.4 2.2 L64.7 6 L64.5 11.2 L66.7 14.4 L68 15.7 L65.4 17.6 L62.8 19.5 L63.5 24 L62.8 27.9 L60.2 29.1 L57 31.7 L56.4 35.6 L54.5 38.1 L52.5 40.7 L51.2 43.3 L48.7 46.5 L48.7 50.4 L46.1 49.7 L41.6 50.4 L38.4 52.3 L35.8 54.2 L31.3 54.2 L27.5 54.9 L23.6 54.9 L19.8 54.2 L15.9 53.6 L12.9 53.3 L10.4 52.3 L8.5 48.4 L9.1 43.9 L10.4 39.4 L9.7 34.9 L7.2 31.7 L9.1 27.9 L8.5 24 L5.9 20.8 L3.3 18.2 L0.7 16.3 L-2.5 16.3 L-5.7 15 L-7 11.8 L-8.3 11.2 L-8.9 12.4 L-9.5 16.3 L-11.5 20.2 L-13.4 22.1 L-16.2 23.4 L-16 27.2 L-14 31.1 L-14.7 34.3 L-17.9 32.4 L-21.1 33 L-24.3 34.9 L-27.5 32.8 L-31.4 31.5 L-35.3 29.6 L-37.8 27.6 L-39.1 25.1 L-40.4 22.5 L-42.3 19.9 L-43 16.7 L-42.3 12.2 L-43 8.4 L-44.9 8.4 L-48.1 10.9 L-51.3 10.9 L-52.6 8.4 L-51.3 5.8 L-49.4 3.9 L-49.7 -0.1 L-49.1 -3.3 L-48.1 -6.6 L-47 -9.2 L-46.4 -11.4 L-47.5 -15.1 L-48.6 -17.3 L-50.7 -18.3 L-52.9 -18.3 L-55.5 -19.4 L-57.7 -20.5 L-58.2 -23.7 L-61.1 -26.5 L-63.9 -30.2 L-66.3 -34.3 L-68.3 -38.5Z" fill="none" stroke="#e6f0f9" stroke-width="7" filter="url(#bl1)"/><path d="M-67.8 -41.1 L-65.9 -38.2 L-63.8 -34.4 L-61.5 -30.9 L-59.3 -27.9 L-57.1 -25.8 L-53.4 -26.6 L-48.1 -26.4 L-43.8 -24.7 L-40.6 -22.1 L-39 -18.9 L-38.4 -14.6 L-37.3 -10.3 L-35.2 -8.2 L-32.5 -7.3 L-29.8 -6.7 L-26.6 -8.3 L-23.4 -9.4 L-20.2 -10.5 L-17.5 -10.8 L-15.6 -15.2 L-14 -19.2 L-14.5 -23.5 L-16.6 -25.7 L-18.3 -25.6 L-19.6 -29.4 L-19 -34.6 L-16.4 -37.8 L-14.5 -40.4 L-13.2 -42.9 L-13.2 -46.1 L-11.9 -48.7 L-11.2 -51.9 L-10 -53.8 L-7.4 -54.5 L-4.8 -53.8 L-1 -53.8 L2.2 -55.1 L6.7 -57.1 L9.3 -56.2 L10.6 -54.5 L13.2 -55.1 L17 -54.5 L20.2 -52.6 L23.5 -50.6 L27.3 -50 L32.5 -50.6 L34.4 -49.3 L36.2 -46.2 L41.3 -45.4 L46.5 -44.5 L51.6 -42.6 L56.1 -40.6 L57.4 -37.4 L56.1 -33.6 L56.7 -29.7 L58 -27.1 L57.4 -22.6 L54.2 -20.7 L48.4 -19.4 L47.1 -18.1 L49 -16.9 L54.2 -16.2 L56.7 -13 L60.6 -11.7 L63.8 -7.9 L65.7 -5.3 L67 -2.1 L65.4 2.2 L64.7 6 L64.5 11.2 L66.7 14.4 L68 15.7 L65.4 17.6 L62.8 19.5 L63.5 24 L62.8 27.9 L60.2 29.1 L57 31.7 L56.4 35.6 L54.5 38.1 L52.5 40.7 L51.2 43.3 L48.7 46.5 L48.7 50.4 L46.1 49.7 L41.6 50.4 L38.4 52.3 L35.8 54.2 L31.3 54.2 L27.5 54.9 L23.6 54.9 L19.8 54.2 L15.9 53.6 L12.9 53.3 L10.4 52.3 L8.5 48.4 L9.1 43.9 L10.4 39.4 L9.7 34.9 L7.2 31.7 L9.1 27.9 L8.5 24 L5.9 20.8 L3.3 18.2 L0.7 16.3 L-2.5 16.3 L-5.7 15 L-7 11.8 L-8.3 11.2 L-8.9 12.4 L-9.5 16.3 L-11.5 20.2 L-13.4 22.1 L-16.2 23.4 L-16 27.2 L-14 31.1 L-14.7 34.3 L-17.9 32.4 L-21.1 33 L-24.3 34.9 L-27.5 32.8 L-31.4 31.5 L-35.3 29.6 L-37.8 27.6 L-39.1 25.1 L-40.4 22.5 L-42.3 19.9 L-43 16.7 L-42.3 12.2 L-43 8.4 L-44.9 8.4 L-48.1 10.9 L-51.3 10.9 L-52.6 8.4 L-51.3 5.8 L-49.4 3.9 L-49.7 -0.1 L-49.1 -3.3 L-48.1 -6.6 L-47 -9.2 L-46.4 -11.4 L-47.5 -15.1 L-48.6 -17.3 L-50.7 -18.3 L-52.9 -18.3 L-55.5 -19.4 L-57.7 -20.5 L-58.2 -23.7 L-61.1 -26.5 L-63.9 -30.2 L-66.3 -34.3 L-68.3 -38.5Z" fill="none" stroke="#cde0f1" stroke-width="3" stroke-dasharray="5 4" filter="url(#bl2)"/></g>
<g stroke="#b0b0b0" stroke-width="0.7" stroke-dasharray="2 1.5" fill="none"><line x1="0" y1="-88.5" x2="0" y2="88.5"/><line x1="-76.21" y1="-44" x2="76.21" y2="44"/><line x1="-76.21" y1="44" x2="76.21" y2="-44"/><circle cx="0" cy="0" r="42.5" fill="none"/></g>
<path d="M-67.97 -40.99 L-67.06 -40.2 L-66.75 -39.02 L-65.77 -38.27 L-65.08 -37 L-64.51 -35.66 L-63.64 -34.5 L-62.97 -33.28 L-62.5 -31.92 L-61.69 -30.76 L-60.92 -29.79 L-60.1 -28.85 L-59.47 -27.72 L-58.38 -26.66 L-57.09 -25.77 L-55.84 -25.94 L-54.69 -26.6 L-53.41 -26.46 L-52.07 -26.58 L-50.76 -26.35 L-49.43 -26.36 L-48.05 -26.52 L-46.93 -26.23 L-46.04 -25.31 L-44.79 -25.33 L-43.79 -24.71 L-42.67 -23.91 L-41.59 -23.06 L-40.73 -22.04 L-40.32 -20.91 L-39.4 -20.03 L-39.09 -18.89 L-38.68 -17.48 L-38.63 -16.03 L-38.34 -14.62 L-37.93 -13.57 L-37.65 -12.5 L-37.41 -11.42 L-37.47 -10.13 L-36.25 -9.25 L-35.15 -8.36 L-33.93 -7.52 L-32.56 -7.01 L-31.14 -7.03 L-29.9 -6.89 L-28.82 -7.4 L-27.78 -7.99 L-26.63 -8.39 L-25.61 -8.9 L-24.52 -9.18 L-23.45 -9.54 L-22.32 -9.73 L-21.19 -9.91 L-20.18 -10.35 L-18.86 -10.7 L-17.55 -10.82 L-17.01 -11.89 L-16.62 -13.03 L-16.16 -14.14 L-15.84 -15.3 L-15.19 -16.58 L-14.27 -17.76 L-14.22 -19.17 L-14.16 -20.63 L-14.26 -22.08 L-14.34 -23.65 L-15.67 -24.48 L-16.59 -25.56 L-18.44 -25.55 L-18.79 -26.85 L-19.2 -28.12 L-19.33 -29.37 L-19.24 -30.68 L-19.08 -31.97 L-19.44 -33.33 L-19.22 -34.78 L-18.04 -35.59 L-17.08 -36.58 L-16.41 -37.81 L-15.41 -39.07 L-14.77 -40.54 L-13.91 -41.68 L-12.94 -42.9 L-13 -44.5 L-13.01 -46 L-12.3 -47.27 L-12.05 -48.73 L-11.78 -50.35 L-11.38 -52.01 L-10.59 -52.84 L-9.97 -53.69 L-8.63 -53.89 L-7.43 -54.37 L-6.12 -54.06 L-4.8 -53.64 L-3.53 -53.83 L-2.27 -53.77 L-1.1 -54.06 L0.13 -54.08 L1.07 -54.82 L2.3 -54.87 L3.36 -55.52 L4.4 -56.21 L5.48 -56.8 L6.75 -57.24 L7.97 -56.57 L9.21 -56.13 L10.55 -54.73 L11.84 -55.05 L13.2 -55.09 L14.46 -54.85 L15.74 -54.77 L17.08 -54.64 L18.04 -53.81 L19.28 -53.49 L20.26 -52.7 L21.31 -51.95 L22.26 -51.03 L23.49 -50.51 L24.73 -50.17 L26.04 -50.21 L27.28 -50.16 L28.58 -50.3 L29.93 -50.03 L31.21 -50.33 L32.57 -50.7 L33.61 -50.19 L34.4 -49.3 L34.91 -48.21 L35.64 -47.26 L36.22 -46.34 L37.46 -45.9 L38.71 -45.55 L40.05 -45.76 L41.35 -45.68 L42.62 -45.27 L43.91 -45 L45.18 -44.62 L46.56 -44.67 L47.71 -43.86 L49 -43.42 L50.32 -43.07 L51.67 -42.76 L52.61 -41.84 L53.9 -41.7 L54.9 -40.92 L56.25 -40.66 L56.69 -39.6 L56.82 -38.41 L57.52 -37.36 L56.71 -36.22 L56.54 -34.87 L56.29 -33.63 L56.46 -32.33 L56.55 -31.01 L56.61 -29.66 L57.11 -28.28 L58.21 -27.07 L57.91 -25.97 L57.87 -24.83 L57.27 -23.76 L57.51 -22.42 L56.47 -21.74 L55.4 -21.11 L54.21 -20.64 L52.99 -20.67 L51.83 -20.4 L50.69 -20.06 L49.49 -19.95 L48.22 -19.58 L47.15 -18.19 L48.15 -17.66 L48.97 -16.64 L50.28 -16.58 L51.64 -16.83 L52.89 -16.28 L54.26 -16.24 L55.09 -15.18 L55.95 -14.13 L56.76 -13.19 L58.09 -12.85 L59.34 -12.26 L60.67 -11.76 L61.19 -10.57 L62.37 -9.95 L62.79 -8.67 L63.94 -8 L64.82 -6.65 L65.52 -5.23 L65.95 -4.16 L66.6 -3.18 L67.25 -2.01 L66.61 -1.02 L66.27 0.08 L65.56 1.04 L65.58 2.23 L65.25 3.48 L64.7 4.69 L64.98 6.01 L64.7 7.3 L64.41 8.59 L64.39 9.89 L64.73 11.04 L65.46 12.11 L66.18 13.18 L66.52 14.58 L68.09 15.82 L66.61 16.53 L65.26 17.41 L64.16 18.63 L62.93 19.48 L62.7 20.67 L63.08 21.76 L63.47 22.85 L63.37 23.98 L63.38 25.32 L63.17 26.62 L62.92 28.17 L61.44 28.36 L60.04 28.91 L59.08 29.9 L57.9 30.63 L57.28 31.74 L56.96 33.02 L56.61 34.3 L56.18 35.43 L55.23 36.69 L54.55 38.14 L53.62 39.49 L52.54 40.72 L51.85 42 L51 43.14 L50.52 44.48 L49.39 45.32 L48.56 46.5 L48.51 47.8 L48.54 49.1 L48.72 50.34 L47.37 50.15 L46.12 49.81 L44.99 49.96 L43.82 49.88 L42.76 50.47 L41.69 50.56 L40.46 50.9 L39.54 51.8 L38.55 52.51 L37.27 53.48 L35.8 54.17 L34.68 54.3 L33.55 53.91 L32.43 53.97 L31.25 53.91 L30.06 54.57 L28.81 54.91 L27.5 55.14 L26.2 54.9 L24.9 54.77 L23.59 54.93 L22.3 54.82 L21.06 54.48 L19.81 54.13 L18.52 53.9 L17.22 53.65 L15.92 53.39 L14.41 53.35 L12.82 53.51 L11.73 52.61 L10.29 52.35 L9.8 50.98 L9.06 49.73 L8.64 48.42 L8.47 47.25 L8.65 46.13 L8.8 45 L8.9 43.84 L9.65 42.84 L9.8 41.66 L9.97 40.5 L10.34 39.41 L10.52 38.23 L10.05 37.15 L9.72 36.05 L9.85 34.79 L8.94 33.78 L8.27 32.59 L6.99 31.59 L7.82 30.43 L8.64 29.25 L9.3 27.87 L9.15 26.56 L8.43 25.34 L8.4 24.08 L7.46 23.08 L6.62 21.98 L6.1 20.6 L5.07 19.9 L4.35 18.88 L3.25 18.26 L2.13 17.07 L0.7 16.33 L-0.9 16.44 L-2.44 16.15 L-3.47 15.62 L-4.72 15.65 L-5.65 14.98 L-6.07 13.91 L-6.72 12.93 L-7.03 11.87 L-8.11 11.3 L-8.72 12.43 L-8.95 13.72 L-9.36 14.99 L-9.58 16.26 L-10.01 17.68 L-10.57 19.03 L-11.43 20.27 L-12.53 21.07 L-13.32 22.27 L-14.75 22.85 L-16.02 23.39 L-16.31 24.68 L-16.1 25.93 L-15.77 27.08 L-15.12 28.39 L-14.61 29.77 L-14.03 31.09 L-14.43 32.68 L-14.83 34.51 L-15.87 33.84 L-16.77 32.93 L-17.89 32.45 L-19.48 32.83 L-21.04 33.1 L-22.31 33.4 L-23.18 34.36 L-24.28 34.87 L-25.41 34.27 L-26.46 33.54 L-27.43 32.59 L-28.71 32.08 L-30.13 32.01 L-31.48 31.66 L-32.64 30.74 L-34.08 30.39 L-35.49 29.83 L-36.4 28.41 L-37.84 27.62 L-38.28 26.26 L-39.15 25.13 L-39.54 23.7 L-40.42 22.51 L-41.51 21.32 L-42.58 19.96 L-42.62 18.29 L-42.92 16.71 L-42.58 15.61 L-42.89 14.41 L-42.4 13.34 L-42.38 12.21 L-42.53 10.93 L-42.98 9.71 L-43 8.53 L-44.91 8.39 L-46.12 9.03 L-46.89 10.25 L-48.1 10.91 L-49.7 10.72 L-51.05 10.77 L-52.11 9.73 L-52.8 8.3 L-51.71 7.22 L-51.1 6 L-50.36 4.84 L-49.67 3.92 L-49.25 2.55 L-49.67 1.24 L-49.46 -0.06 L-49.33 -1.69 L-48.91 -3.24 L-48.96 -4.46 L-48.27 -5.45 L-48.25 -6.66 L-47.6 -7.92 L-46.8 -9.15 L-46.51 -10.25 L-46.58 -11.35 L-46.93 -12.59 L-47.19 -13.85 L-47.49 -15.1 L-48.11 -16.17 L-48.7 -17.1 L-49.72 -17.66 L-50.7 -18.43 L-52.81 -18.52 L-54.31 -18.6 L-55.48 -19.43 L-56.53 -20.09 L-57.97 -20.46 L-57.75 -22.13 L-58.36 -23.53 L-59.13 -24.68 L-60.11 -25.59 L-61.04 -26.55 L-61.89 -27.35 L-62.54 -28.32 L-63.16 -29.3 L-63.94 -30.18 L-64.42 -31.27 L-65.13 -32.23 L-65.73 -33.26 L-66.56 -34.18 L-66.74 -35.38 L-67.31 -36.4 L-67.94 -37.38 L-68.14 -38.47 L-67.89 -39.77Z" fill="none" stroke="#333" stroke-width="0.8" stroke-linejoin="round"/>
<path d="M-25.5 -22.4 L-23.8 -24.1 L-21.8 -23.1 L-20.9 -20.2 L-21.3 -16.9 L-22.6 -16.1 L-24.3 -17.5 L-25.3 -19.9Z" fill="none" stroke="#2e2e2e" stroke-width="0.7"/>
<path d="M-11.7 28.1 L-10.5 27.9 L-10.1 29.8 L-10.7 31.5 L-11.7 31.1 L-12 29.6Z" fill="none" stroke="#2e2e2e" stroke-width="0.7"/>
<path d="M-55.6 -19.9 L-52.6 -19.1 L-49.6 -17.9 L-48.3 -16.2 L-49.1 -14.5 L-51.1 -14.7 L-52.9 -16.1 L-55.1 -17.4Z" fill="none" stroke="#2e2e2e" stroke-width="0.7"/>
<path d="M-26.5 -14.4 L-23.1 -12.2 L-25.1 -10.9Z" fill="#2e2e2e"/>
</g>
<g transform="translate(328.2 337) scale(1.02)">
<path d="M-67.8 -41.1 L-65.9 -38.2 L-63.8 -34.4 L-61.5 -30.9 L-59.3 -27.9 L-57.1 -25.8 L-53.4 -26.6 L-48.1 -26.4 L-43.8 -24.7 L-40.6 -22.1 L-39 -18.9 L-36.6 -22.9 L-33.1 -23.9 L-29.1 -24.5 L-25.1 -24.9 L-21.6 -25.4 L-18.3 -25.6 L-19.6 -29.4 L-19 -34.6 L-16.4 -37.8 L-14.5 -40.4 L-13.2 -42.9 L-13.2 -46.1 L-11.9 -48.7 L-11.2 -51.9 L-10 -53.8 L-7.4 -54.5 L-4.8 -53.8 L-1 -53.8 L2.2 -55.1 L6.7 -57.1 L9.3 -56.2 L10.6 -54.5 L13.2 -55.1 L17 -54.5 L20.2 -52.6 L23.5 -50.6 L27.3 -50 L32.5 -50.6 L34.4 -49.3 L36.2 -46.2 L41.3 -45.4 L46.5 -44.5 L51.6 -42.6 L56.1 -40.6 L57.4 -37.4 L56.1 -33.6 L56.7 -29.7 L58 -27.1 L57.4 -22.6 L54.2 -20.7 L55.4 -18.7 L54.2 -16.2 L56.7 -13 L60.6 -11.7 L63.8 -7.9 L65.7 -5.3 L67 -2.1 L65.4 2.2 L64.7 6 L64.5 11.2 L66.7 14.4 L68 15.7 L65.4 17.6 L62.8 19.5 L63.5 24 L62.8 27.9 L60.2 29.1 L57 31.7 L56.4 35.6 L54.5 38.1 L52.5 40.7 L51.2 43.3 L48.7 46.5 L48.7 50.4 L46.1 49.7 L41.6 50.4 L38.4 52.3 L35.8 54.2 L31.3 54.2 L27.5 54.9 L23.6 54.9 L19.8 54.2 L15.9 53.6 L12.9 53.3 L10.4 52.3 L8.5 48.4 L9.1 43.9 L10.4 39.4 L9.7 34.9 L5.9 34.7 L0.9 34.5 L-4.1 34.1 L-9.1 33.7 L-12.1 33.9 L-14.7 34.3 L-17.9 32.4 L-21.1 33 L-24.3 34.9 L-27.5 32.8 L-31.4 31.5 L-35.3 29.6 L-37.8 27.6 L-39.1 25.1 L-40.4 22.5 L-42.3 19.9 L-43 16.7 L-42.3 12.2 L-43 8.4 L-44.9 8.4 L-48.1 10.9 L-51.3 10.9 L-52.6 8.4 L-51.3 5.8 L-49.4 3.9 L-49.7 -0.1 L-49.1 -3.3 L-48.1 -6.6 L-47 -9.2 L-46.4 -11.4 L-47.5 -15.1 L-48.6 -17.3 L-50.7 -18.3 L-52.9 -18.3 L-55.5 -19.4 L-57.7 -20.5 L-58.2 -23.7 L-61.1 -26.5 L-63.9 -30.2 L-66.3 -34.3 L-68.3 -38.5Z" fill="#fcfbf4"/>
<g clip-path="url(#coastclip)"><path d="M-18.73 -54.63 L-9.95 -56.1 L-2.15 -55.61 L3.71 -51.71 L0.78 -43.9 L-6.05 -40 L-9.95 -31.22 L-11.9 -18.54 L-15.8 -6.83 L-27.51 -3.9 L-32.39 -10.73 L-25.56 -18.54 L-19.71 -31.22 L-21.66 -43.9Z" fill="#e0f7df" filter="url(#bl2)"/><path d="M40.78 -43.9 L50.54 -44.88 L56.39 -40 L55.41 -31.22 L46.63 -31.22 L41.76 -37.07Z" fill="#e3f7e0" filter="url(#bl2)"/><path d="M16.39 41.95 L29.07 40 L38.83 43.9 L42.73 50.73 L31.02 53.66 L19.32 51.71Z" fill="#e3f7e0" filter="url(#bl2)"/><path d="M-9.95 24.39 L-4.1 24.39 L-2.15 34.15 L-9.95 34.15Z" fill="#e3f7e0" filter="url(#bl2)"/><path d="M-50.93 -6.83 L-44.1 -6.83 L-43.12 8.78 L-48.98 14.63 L-52.88 6.83Z" fill="#faf3d6" filter="url(#bl2)"/></g>
<g stroke="#b0b0b0" stroke-width="0.7" stroke-dasharray="2 1.5" fill="none"><line x1="0" y1="-88.5" x2="0" y2="88.5"/><line x1="-76.21" y1="-44" x2="76.21" y2="44"/><line x1="-76.21" y1="44" x2="76.21" y2="-44"/><circle cx="0" cy="0" r="42.5" fill="none"/></g>
<path d="M-67.97 -40.99 L-67.06 -40.2 L-66.75 -39.02 L-65.77 -38.27 L-65.08 -37 L-64.51 -35.66 L-63.64 -34.5 L-62.97 -33.28 L-62.5 -31.92 L-61.69 -30.76 L-60.92 -29.79 L-60.1 -28.85 L-59.47 -27.72 L-58.38 -26.66 L-57.09 -25.77 L-55.84 -25.94 L-54.69 -26.6 L-53.41 -26.46 L-52.07 -26.58 L-50.76 -26.35 L-49.43 -26.36 L-48.05 -26.52 L-46.93 -26.23 L-46.04 -25.31 L-44.79 -25.33 L-43.79 -24.71 L-42.67 -23.91 L-41.59 -23.06 L-40.73 -22.04 L-40.32 -20.91 L-39.4 -20.03 L-39.09 -18.89 L-38.68 -17.48 L-38.63 -16.03 L-38.34 -14.62 L-37.93 -13.57 L-37.65 -12.5 L-37.41 -11.42 L-37.47 -10.13 L-36.25 -9.25 L-35.15 -8.36 L-33.93 -7.52 L-32.56 -7.01 L-31.14 -7.03 L-29.9 -6.89 L-28.82 -7.4 L-27.78 -7.99 L-26.63 -8.39 L-25.61 -8.9 L-24.52 -9.18 L-23.45 -9.54 L-22.32 -9.73 L-21.19 -9.91 L-20.18 -10.35 L-18.86 -10.7 L-17.55 -10.82 L-17.01 -11.89 L-16.62 -13.03 L-16.16 -14.14 L-15.84 -15.3 L-15.19 -16.58 L-14.27 -17.76 L-14.22 -19.17 L-14.16 -20.63 L-14.26 -22.08 L-14.34 -23.65 L-15.67 -24.48 L-16.59 -25.56 L-18.44 -25.55 L-18.79 -26.85 L-19.2 -28.12 L-19.33 -29.37 L-19.24 -30.68 L-19.08 -31.97 L-19.44 -33.33 L-19.22 -34.78 L-18.04 -35.59 L-17.08 -36.58 L-16.41 -37.81 L-15.41 -39.07 L-14.77 -40.54 L-13.91 -41.68 L-12.94 -42.9 L-13 -44.5 L-13.01 -46 L-12.3 -47.27 L-12.05 -48.73 L-11.78 -50.35 L-11.38 -52.01 L-10.59 -52.84 L-9.97 -53.69 L-8.63 -53.89 L-7.43 -54.37 L-6.12 -54.06 L-4.8 -53.64 L-3.53 -53.83 L-2.27 -53.77 L-1.1 -54.06 L0.13 -54.08 L1.07 -54.82 L2.3 -54.87 L3.36 -55.52 L4.4 -56.21 L5.48 -56.8 L6.75 -57.24 L7.97 -56.57 L9.21 -56.13 L10.55 -54.73 L11.84 -55.05 L13.2 -55.09 L14.46 -54.85 L15.74 -54.77 L17.08 -54.64 L18.04 -53.81 L19.28 -53.49 L20.26 -52.7 L21.31 -51.95 L22.26 -51.03 L23.49 -50.51 L24.73 -50.17 L26.04 -50.21 L27.28 -50.16 L28.58 -50.3 L29.93 -50.03 L31.21 -50.33 L32.57 -50.7 L33.61 -50.19 L34.4 -49.3 L34.91 -48.21 L35.64 -47.26 L36.22 -46.34 L37.46 -45.9 L38.71 -45.55 L40.05 -45.76 L41.35 -45.68 L42.62 -45.27 L43.91 -45 L45.18 -44.62 L46.56 -44.67 L47.71 -43.86 L49 -43.42 L50.32 -43.07 L51.67 -42.76 L52.61 -41.84 L53.9 -41.7 L54.9 -40.92 L56.25 -40.66 L56.69 -39.6 L56.82 -38.41 L57.52 -37.36 L56.71 -36.22 L56.54 -34.87 L56.29 -33.63 L56.46 -32.33 L56.55 -31.01 L56.61 -29.66 L57.11 -28.28 L58.21 -27.07 L57.91 -25.97 L57.87 -24.83 L57.27 -23.76 L57.51 -22.42 L56.47 -21.74 L55.4 -21.11 L54.21 -20.64 L52.99 -20.67 L51.83 -20.4 L50.69 -20.06 L49.49 -19.95 L48.22 -19.58 L47.15 -18.19 L48.15 -17.66 L48.97 -16.64 L50.28 -16.58 L51.64 -16.83 L52.89 -16.28 L54.26 -16.24 L55.09 -15.18 L55.95 -14.13 L56.76 -13.19 L58.09 -12.85 L59.34 -12.26 L60.67 -11.76 L61.19 -10.57 L62.37 -9.95 L62.79 -8.67 L63.94 -8 L64.82 -6.65 L65.52 -5.23 L65.95 -4.16 L66.6 -3.18 L67.25 -2.01 L66.61 -1.02 L66.27 0.08 L65.56 1.04 L65.58 2.23 L65.25 3.48 L64.7 4.69 L64.98 6.01 L64.7 7.3 L64.41 8.59 L64.39 9.89 L64.73 11.04 L65.46 12.11 L66.18 13.18 L66.52 14.58 L68.09 15.82 L66.61 16.53 L65.26 17.41 L64.16 18.63 L62.93 19.48 L62.7 20.67 L63.08 21.76 L63.47 22.85 L63.37 23.98 L63.38 25.32 L63.17 26.62 L62.92 28.17 L61.44 28.36 L60.04 28.91 L59.08 29.9 L57.9 30.63 L57.28 31.74 L56.96 33.02 L56.61 34.3 L56.18 35.43 L55.23 36.69 L54.55 38.14 L53.62 39.49 L52.54 40.72 L51.85 42 L51 43.14 L50.52 44.48 L49.39 45.32 L48.56 46.5 L48.51 47.8 L48.54 49.1 L48.72 50.34 L47.37 50.15 L46.12 49.81 L44.99 49.96 L43.82 49.88 L42.76 50.47 L41.69 50.56 L40.46 50.9 L39.54 51.8 L38.55 52.51 L37.27 53.48 L35.8 54.17 L34.68 54.3 L33.55 53.91 L32.43 53.97 L31.25 53.91 L30.06 54.57 L28.81 54.91 L27.5 55.14 L26.2 54.9 L24.9 54.77 L23.59 54.93 L22.3 54.82 L21.06 54.48 L19.81 54.13 L18.52 53.9 L17.22 53.65 L15.92 53.39 L14.41 53.35 L12.82 53.51 L11.73 52.61 L10.29 52.35 L9.8 50.98 L9.06 49.73 L8.64 48.42 L8.47 47.25 L8.65 46.13 L8.8 45 L8.9 43.84 L9.65 42.84 L9.8 41.66 L9.97 40.5 L10.34 39.41 L10.52 38.23 L10.05 37.15 L9.72 36.05 L9.85 34.79 L8.94 33.78 L8.27 32.59 L6.99 31.59 L7.82 30.43 L8.64 29.25 L9.3 27.87 L9.15 26.56 L8.43 25.34 L8.4 24.08 L7.46 23.08 L6.62 21.98 L6.1 20.6 L5.07 19.9 L4.35 18.88 L3.25 18.26 L2.13 17.07 L0.7 16.33 L-0.9 16.44 L-2.44 16.15 L-3.47 15.62 L-4.72 15.65 L-5.65 14.98 L-6.07 13.91 L-6.72 12.93 L-7.03 11.87 L-8.11 11.3 L-8.72 12.43 L-8.95 13.72 L-9.36 14.99 L-9.58 16.26 L-10.01 17.68 L-10.57 19.03 L-11.43 20.27 L-12.53 21.07 L-13.32 22.27 L-14.75 22.85 L-16.02 23.39 L-16.31 24.68 L-16.1 25.93 L-15.77 27.08 L-15.12 28.39 L-14.61 29.77 L-14.03 31.09 L-14.43 32.68 L-14.83 34.51 L-15.87 33.84 L-16.77 32.93 L-17.89 32.45 L-19.48 32.83 L-21.04 33.1 L-22.31 33.4 L-23.18 34.36 L-24.28 34.87 L-25.41 34.27 L-26.46 33.54 L-27.43 32.59 L-28.71 32.08 L-30.13 32.01 L-31.48 31.66 L-32.64 30.74 L-34.08 30.39 L-35.49 29.83 L-36.4 28.41 L-37.84 27.62 L-38.28 26.26 L-39.15 25.13 L-39.54 23.7 L-40.42 22.51 L-41.51 21.32 L-42.58 19.96 L-42.62 18.29 L-42.92 16.71 L-42.58 15.61 L-42.89 14.41 L-42.4 13.34 L-42.38 12.21 L-42.53 10.93 L-42.98 9.71 L-43 8.53 L-44.91 8.39 L-46.12 9.03 L-46.89 10.25 L-48.1 10.91 L-49.7 10.72 L-51.05 10.77 L-52.11 9.73 L-52.8 8.3 L-51.71 7.22 L-51.1 6 L-50.36 4.84 L-49.67 3.92 L-49.25 2.55 L-49.67 1.24 L-49.46 -0.06 L-49.33 -1.69 L-48.91 -3.24 L-48.96 -4.46 L-48.27 -5.45 L-48.25 -6.66 L-47.6 -7.92 L-46.8 -9.15 L-46.51 -10.25 L-46.58 -11.35 L-46.93 -12.59 L-47.19 -13.85 L-47.49 -15.1 L-48.11 -16.17 L-48.7 -17.1 L-49.72 -17.66 L-50.7 -18.43 L-52.81 -18.52 L-54.31 -18.6 L-55.48 -19.43 L-56.53 -20.09 L-57.97 -20.46 L-57.75 -22.13 L-58.36 -23.53 L-59.13 -24.68 L-60.11 -25.59 L-61.04 -26.55 L-61.89 -27.35 L-62.54 -28.32 L-63.16 -29.3 L-63.94 -30.18 L-64.42 -31.27 L-65.13 -32.23 L-65.73 -33.26 L-66.56 -34.18 L-66.74 -35.38 L-67.31 -36.4 L-67.94 -37.38 L-68.14 -38.47 L-67.89 -39.77Z" fill="none" stroke="#333" stroke-width="0.8" stroke-linejoin="round"/>
<path d="M-25.5 -22.4 L-23.8 -24.1 L-21.8 -23.1 L-20.9 -20.2 L-21.3 -16.9 L-22.6 -16.1 L-24.3 -17.5 L-25.3 -19.9Z" fill="none" stroke="#2e2e2e" stroke-width="0.7"/>
<path d="M-11.7 28.1 L-10.5 27.9 L-10.1 29.8 L-10.7 31.5 L-11.7 31.1 L-12 29.6Z" fill="none" stroke="#2e2e2e" stroke-width="0.7"/>
<path d="M-55.6 -19.9 L-52.6 -19.1 L-49.6 -17.9 L-48.3 -16.2 L-49.1 -14.5 L-51.1 -14.7 L-52.9 -16.1 L-55.1 -17.4Z" fill="none" stroke="#2e2e2e" stroke-width="0.7"/>
<path d="M-26.5 -14.4 L-23.1 -12.2 L-25.1 -10.9Z" fill="#2e2e2e"/>
</g>
<g transform="translate(525 336.9) scale(1)">
<path d="M-67.8 -41.1 L-65.9 -38.2 L-63.8 -34.4 L-61.5 -30.9 L-59.3 -27.9 L-57.1 -25.8 L-53.4 -26.6 L-48.1 -26.4 L-43.8 -24.7 L-40.6 -22.1 L-39 -18.9 L-36.6 -22.9 L-33.1 -23.9 L-29.1 -24.5 L-25.1 -24.9 L-21.6 -25.4 L-18.3 -25.6 L-19.6 -29.4 L-19 -34.6 L-16.4 -37.8 L-14.5 -40.4 L-13.2 -42.9 L-13.2 -46.1 L-11.9 -48.7 L-11.2 -51.9 L-10 -53.8 L-7.4 -54.5 L-4.8 -53.8 L-1 -53.8 L2.2 -55.1 L6.7 -57.1 L9.3 -56.2 L10.6 -54.5 L13.2 -55.1 L17 -54.5 L20.2 -52.6 L23.5 -50.6 L27.3 -50 L32.5 -50.6 L34.4 -49.3 L36.2 -46.2 L41.3 -45.4 L46.5 -44.5 L51.6 -42.6 L56.1 -40.6 L57.4 -37.4 L56.1 -33.6 L56.7 -29.7 L58 -27.1 L57.4 -22.6 L54.2 -20.7 L55.4 -18.7 L54.2 -16.2 L56.7 -13 L60.6 -11.7 L63.8 -7.9 L65.7 -5.3 L67 -2.1 L65.4 2.2 L64.7 6 L64.5 11.2 L66.7 14.4 L68 15.7 L65.4 17.6 L62.8 19.5 L63.5 24 L62.8 27.9 L60.2 29.1 L57 31.7 L56.4 35.6 L54.5 38.1 L52.5 40.7 L51.2 43.3 L48.7 46.5 L48.7 50.4 L46.1 49.7 L41.6 50.4 L38.4 52.3 L35.8 54.2 L31.3 54.2 L27.5 54.9 L23.6 54.9 L19.8 54.2 L15.9 53.6 L12.9 53.3 L10.4 52.3 L8.5 48.4 L9.1 43.9 L10.4 39.4 L9.7 34.9 L5.9 34.7 L0.9 34.5 L-4.1 34.1 L-9.1 33.7 L-12.1 33.9 L-14.7 34.3 L-17.9 32.4 L-21.1 33 L-24.3 34.9 L-27.5 32.8 L-31.4 31.5 L-35.3 29.6 L-37.8 27.6 L-39.1 25.1 L-40.4 22.5 L-42.3 19.9 L-43 16.7 L-42.3 12.2 L-43 8.4 L-44.9 8.4 L-48.1 10.9 L-51.3 10.9 L-52.6 8.4 L-51.3 5.8 L-49.4 3.9 L-49.7 -0.1 L-49.1 -3.3 L-48.1 -6.6 L-47 -9.2 L-46.4 -11.4 L-47.5 -15.1 L-48.6 -17.3 L-50.7 -18.3 L-52.9 -18.3 L-55.5 -19.4 L-57.7 -20.5 L-58.2 -23.7 L-61.1 -26.5 L-63.9 -30.2 L-66.3 -34.3 L-68.3 -38.5Z" fill="#fcfbf4"/>
<g clip-path="url(#coastclip)"><path d="M-67.8 -41.1 L-65.9 -38.2 L-63.8 -34.4 L-61.5 -30.9 L-59.3 -27.9 L-57.1 -25.8 L-53.4 -26.6 L-48.1 -26.4 L-43.8 -24.7 L-40.6 -22.1 L-39 -18.9 L-38.4 -14.6 L-37.3 -10.3 L-35.2 -8.2 L-32.5 -7.3 L-29.8 -6.7 L-26.6 -8.3 L-23.4 -9.4 L-20.2 -10.5 L-17.5 -10.8 L-15.6 -15.2 L-14 -19.2 L-14.5 -23.5 L-16.6 -25.7 L-18.3 -25.6 L-19.6 -29.4 L-19 -34.6 L-16.4 -37.8 L-14.5 -40.4 L-13.2 -42.9 L-13.2 -46.1 L-11.9 -48.7 L-11.2 -51.9 L-10 -53.8 L-7.4 -54.5 L-4.8 -53.8 L-1 -53.8 L2.2 -55.1 L6.7 -57.1 L9.3 -56.2 L10.6 -54.5 L13.2 -55.1 L17 -54.5 L20.2 -52.6 L23.5 -50.6 L27.3 -50 L32.5 -50.6 L34.4 -49.3 L36.2 -46.2 L41.3 -45.4 L46.5 -44.5 L51.6 -42.6 L56.1 -40.6 L57.4 -37.4 L56.1 -33.6 L56.7 -29.7 L58 -27.1 L57.4 -22.6 L54.2 -20.7 L48.4 -19.4 L47.1 -18.1 L49 -16.9 L54.2 -16.2 L56.7 -13 L60.6 -11.7 L63.8 -7.9 L65.7 -5.3 L67 -2.1 L65.4 2.2 L64.7 6 L64.5 11.2 L66.7 14.4 L68 15.7 L65.4 17.6 L62.8 19.5 L63.5 24 L62.8 27.9 L60.2 29.1 L57 31.7 L56.4 35.6 L54.5 38.1 L52.5 40.7 L51.2 43.3 L48.7 46.5 L48.7 50.4 L46.1 49.7 L41.6 50.4 L38.4 52.3 L35.8 54.2 L31.3 54.2 L27.5 54.9 L23.6 54.9 L19.8 54.2 L15.9 53.6 L12.9 53.3 L10.4 52.3 L8.5 48.4 L9.1 43.9 L10.4 39.4 L9.7 34.9 L7.2 31.7 L9.1 27.9 L8.5 24 L5.9 20.8 L3.3 18.2 L0.7 16.3 L-2.5 16.3 L-5.7 15 L-7 11.8 L-8.3 11.2 L-8.9 12.4 L-9.5 16.3 L-11.5 20.2 L-13.4 22.1 L-16.2 23.4 L-16 27.2 L-14 31.1 L-14.7 34.3 L-17.9 32.4 L-21.1 33 L-24.3 34.9 L-27.5 32.8 L-31.4 31.5 L-35.3 29.6 L-37.8 27.6 L-39.1 25.1 L-40.4 22.5 L-42.3 19.9 L-43 16.7 L-42.3 12.2 L-43 8.4 L-44.9 8.4 L-48.1 10.9 L-51.3 10.9 L-52.6 8.4 L-51.3 5.8 L-49.4 3.9 L-49.7 -0.1 L-49.1 -3.3 L-48.1 -6.6 L-47 -9.2 L-46.4 -11.4 L-47.5 -15.1 L-48.6 -17.3 L-50.7 -18.3 L-52.9 -18.3 L-55.5 -19.4 L-57.7 -20.5 L-58.2 -23.7 L-61.1 -26.5 L-63.9 -30.2 L-66.3 -34.3 L-68.3 -38.5Z" fill="none" stroke="#e2f6df" stroke-width="9" filter="url(#bl1)"/><path d="M-67.8 -41.1 L-65.9 -38.2 L-63.8 -34.4 L-61.5 -30.9 L-59.3 -27.9 L-57.1 -25.8 L-53.4 -26.6 L-48.1 -26.4 L-43.8 -24.7 L-40.6 -22.1 L-39 -18.9 L-38.4 -14.6 L-37.3 -10.3 L-35.2 -8.2 L-32.5 -7.3 L-29.8 -6.7 L-26.6 -8.3 L-23.4 -9.4 L-20.2 -10.5 L-17.5 -10.8 L-15.6 -15.2 L-14 -19.2 L-14.5 -23.5 L-16.6 -25.7 L-18.3 -25.6 L-19.6 -29.4 L-19 -34.6 L-16.4 -37.8 L-14.5 -40.4 L-13.2 -42.9 L-13.2 -46.1 L-11.9 -48.7 L-11.2 -51.9 L-10 -53.8 L-7.4 -54.5 L-4.8 -53.8 L-1 -53.8 L2.2 -55.1 L6.7 -57.1 L9.3 -56.2 L10.6 -54.5 L13.2 -55.1 L17 -54.5 L20.2 -52.6 L23.5 -50.6 L27.3 -50 L32.5 -50.6 L34.4 -49.3 L36.2 -46.2 L41.3 -45.4 L46.5 -44.5 L51.6 -42.6 L56.1 -40.6 L57.4 -37.4 L56.1 -33.6 L56.7 -29.7 L58 -27.1 L57.4 -22.6 L54.2 -20.7 L48.4 -19.4 L47.1 -18.1 L49 -16.9 L54.2 -16.2 L56.7 -13 L60.6 -11.7 L63.8 -7.9 L65.7 -5.3 L67 -2.1 L65.4 2.2 L64.7 6 L64.5 11.2 L66.7 14.4 L68 15.7 L65.4 17.6 L62.8 19.5 L63.5 24 L62.8 27.9 L60.2 29.1 L57 31.7 L56.4 35.6 L54.5 38.1 L52.5 40.7 L51.2 43.3 L48.7 46.5 L48.7 50.4 L46.1 49.7 L41.6 50.4 L38.4 52.3 L35.8 54.2 L31.3 54.2 L27.5 54.9 L23.6 54.9 L19.8 54.2 L15.9 53.6 L12.9 53.3 L10.4 52.3 L8.5 48.4 L9.1 43.9 L10.4 39.4 L9.7 34.9 L7.2 31.7 L9.1 27.9 L8.5 24 L5.9 20.8 L3.3 18.2 L0.7 16.3 L-2.5 16.3 L-5.7 15 L-7 11.8 L-8.3 11.2 L-8.9 12.4 L-9.5 16.3 L-11.5 20.2 L-13.4 22.1 L-16.2 23.4 L-16 27.2 L-14 31.1 L-14.7 34.3 L-17.9 32.4 L-21.1 33 L-24.3 34.9 L-27.5 32.8 L-31.4 31.5 L-35.3 29.6 L-37.8 27.6 L-39.1 25.1 L-40.4 22.5 L-42.3 19.9 L-43 16.7 L-42.3 12.2 L-43 8.4 L-44.9 8.4 L-48.1 10.9 L-51.3 10.9 L-52.6 8.4 L-51.3 5.8 L-49.4 3.9 L-49.7 -0.1 L-49.1 -3.3 L-48.1 -6.6 L-47 -9.2 L-46.4 -11.4 L-47.5 -15.1 L-48.6 -17.3 L-50.7 -18.3 L-52.9 -18.3 L-55.5 -19.4 L-57.7 -20.5 L-58.2 -23.7 L-61.1 -26.5 L-63.9 -30.2 L-66.3 -34.3 L-68.3 -38.5Z" fill="none" stroke="#d3f2cf" stroke-width="3" filter="url(#bl2)"/><path d="M-49 36.3 L-35 36.3 L-20 43.3 L-5 49.3 L-10 55.3 L-25 53.3 L-40 46.3Z" fill="#dff5dc" filter="url(#bl1)"/><path d="M-25 -46.7 L-15 -48.7 L-10 -36.7 L-20 -30.7 L-27 -36.7Z" fill="#e8f8e5" filter="url(#bl1)"/><path d="M-42 -0.7 L-37 -1.7 L-35 8.3 L-37 16.3 L-42 13.3Z" fill="#f8f0d2" filter="url(#bl1)"/></g>
<g stroke="#b0b0b0" stroke-width="0.7" stroke-dasharray="2 1.5" fill="none"><line x1="0" y1="-88.5" x2="0" y2="88.5"/><line x1="-76.21" y1="-44" x2="76.21" y2="44"/><line x1="-76.21" y1="44" x2="76.21" y2="-44"/><circle cx="0" cy="0" r="42.5" fill="none"/></g>
<path d="M-67.97 -40.99 L-67.06 -40.2 L-66.75 -39.02 L-65.77 -38.27 L-65.08 -37 L-64.51 -35.66 L-63.64 -34.5 L-62.97 -33.28 L-62.5 -31.92 L-61.69 -30.76 L-60.92 -29.79 L-60.1 -28.85 L-59.47 -27.72 L-58.38 -26.66 L-57.09 -25.77 L-55.84 -25.94 L-54.69 -26.6 L-53.41 -26.46 L-52.07 -26.58 L-50.76 -26.35 L-49.43 -26.36 L-48.05 -26.52 L-46.93 -26.23 L-46.04 -25.31 L-44.79 -25.33 L-43.79 -24.71 L-42.67 -23.91 L-41.59 -23.06 L-40.73 -22.04 L-40.32 -20.91 L-39.4 -20.03 L-39.09 -18.89 L-38.68 -17.48 L-38.63 -16.03 L-38.34 -14.62 L-37.93 -13.57 L-37.65 -12.5 L-37.41 -11.42 L-37.47 -10.13 L-36.25 -9.25 L-35.15 -8.36 L-33.93 -7.52 L-32.56 -7.01 L-31.14 -7.03 L-29.9 -6.89 L-28.82 -7.4 L-27.78 -7.99 L-26.63 -8.39 L-25.61 -8.9 L-24.52 -9.18 L-23.45 -9.54 L-22.32 -9.73 L-21.19 -9.91 L-20.18 -10.35 L-18.86 -10.7 L-17.55 -10.82 L-17.01 -11.89 L-16.62 -13.03 L-16.16 -14.14 L-15.84 -15.3 L-15.19 -16.58 L-14.27 -17.76 L-14.22 -19.17 L-14.16 -20.63 L-14.26 -22.08 L-14.34 -23.65 L-15.67 -24.48 L-16.59 -25.56 L-18.44 -25.55 L-18.79 -26.85 L-19.2 -28.12 L-19.33 -29.37 L-19.24 -30.68 L-19.08 -31.97 L-19.44 -33.33 L-19.22 -34.78 L-18.04 -35.59 L-17.08 -36.58 L-16.41 -37.81 L-15.41 -39.07 L-14.77 -40.54 L-13.91 -41.68 L-12.94 -42.9 L-13 -44.5 L-13.01 -46 L-12.3 -47.27 L-12.05 -48.73 L-11.78 -50.35 L-11.38 -52.01 L-10.59 -52.84 L-9.97 -53.69 L-8.63 -53.89 L-7.43 -54.37 L-6.12 -54.06 L-4.8 -53.64 L-3.53 -53.83 L-2.27 -53.77 L-1.1 -54.06 L0.13 -54.08 L1.07 -54.82 L2.3 -54.87 L3.36 -55.52 L4.4 -56.21 L5.48 -56.8 L6.75 -57.24 L7.97 -56.57 L9.21 -56.13 L10.55 -54.73 L11.84 -55.05 L13.2 -55.09 L14.46 -54.85 L15.74 -54.77 L17.08 -54.64 L18.04 -53.81 L19.28 -53.49 L20.26 -52.7 L21.31 -51.95 L22.26 -51.03 L23.49 -50.51 L24.73 -50.17 L26.04 -50.21 L27.28 -50.16 L28.58 -50.3 L29.93 -50.03 L31.21 -50.33 L32.57 -50.7 L33.61 -50.19 L34.4 -49.3 L34.91 -48.21 L35.64 -47.26 L36.22 -46.34 L37.46 -45.9 L38.71 -45.55 L40.05 -45.76 L41.35 -45.68 L42.62 -45.27 L43.91 -45 L45.18 -44.62 L46.56 -44.67 L47.71 -43.86 L49 -43.42 L50.32 -43.07 L51.67 -42.76 L52.61 -41.84 L53.9 -41.7 L54.9 -40.92 L56.25 -40.66 L56.69 -39.6 L56.82 -38.41 L57.52 -37.36 L56.71 -36.22 L56.54 -34.87 L56.29 -33.63 L56.46 -32.33 L56.55 -31.01 L56.61 -29.66 L57.11 -28.28 L58.21 -27.07 L57.91 -25.97 L57.87 -24.83 L57.27 -23.76 L57.51 -22.42 L56.47 -21.74 L55.4 -21.11 L54.21 -20.64 L52.99 -20.67 L51.83 -20.4 L50.69 -20.06 L49.49 -19.95 L48.22 -19.58 L47.15 -18.19 L48.15 -17.66 L48.97 -16.64 L50.28 -16.58 L51.64 -16.83 L52.89 -16.28 L54.26 -16.24 L55.09 -15.18 L55.95 -14.13 L56.76 -13.19 L58.09 -12.85 L59.34 -12.26 L60.67 -11.76 L61.19 -10.57 L62.37 -9.95 L62.79 -8.67 L63.94 -8 L64.82 -6.65 L65.52 -5.23 L65.95 -4.16 L66.6 -3.18 L67.25 -2.01 L66.61 -1.02 L66.27 0.08 L65.56 1.04 L65.58 2.23 L65.25 3.48 L64.7 4.69 L64.98 6.01 L64.7 7.3 L64.41 8.59 L64.39 9.89 L64.73 11.04 L65.46 12.11 L66.18 13.18 L66.52 14.58 L68.09 15.82 L66.61 16.53 L65.26 17.41 L64.16 18.63 L62.93 19.48 L62.7 20.67 L63.08 21.76 L63.47 22.85 L63.37 23.98 L63.38 25.32 L63.17 26.62 L62.92 28.17 L61.44 28.36 L60.04 28.91 L59.08 29.9 L57.9 30.63 L57.28 31.74 L56.96 33.02 L56.61 34.3 L56.18 35.43 L55.23 36.69 L54.55 38.14 L53.62 39.49 L52.54 40.72 L51.85 42 L51 43.14 L50.52 44.48 L49.39 45.32 L48.56 46.5 L48.51 47.8 L48.54 49.1 L48.72 50.34 L47.37 50.15 L46.12 49.81 L44.99 49.96 L43.82 49.88 L42.76 50.47 L41.69 50.56 L40.46 50.9 L39.54 51.8 L38.55 52.51 L37.27 53.48 L35.8 54.17 L34.68 54.3 L33.55 53.91 L32.43 53.97 L31.25 53.91 L30.06 54.57 L28.81 54.91 L27.5 55.14 L26.2 54.9 L24.9 54.77 L23.59 54.93 L22.3 54.82 L21.06 54.48 L19.81 54.13 L18.52 53.9 L17.22 53.65 L15.92 53.39 L14.41 53.35 L12.82 53.51 L11.73 52.61 L10.29 52.35 L9.8 50.98 L9.06 49.73 L8.64 48.42 L8.47 47.25 L8.65 46.13 L8.8 45 L8.9 43.84 L9.65 42.84 L9.8 41.66 L9.97 40.5 L10.34 39.41 L10.52 38.23 L10.05 37.15 L9.72 36.05 L9.85 34.79 L8.94 33.78 L8.27 32.59 L6.99 31.59 L7.82 30.43 L8.64 29.25 L9.3 27.87 L9.15 26.56 L8.43 25.34 L8.4 24.08 L7.46 23.08 L6.62 21.98 L6.1 20.6 L5.07 19.9 L4.35 18.88 L3.25 18.26 L2.13 17.07 L0.7 16.33 L-0.9 16.44 L-2.44 16.15 L-3.47 15.62 L-4.72 15.65 L-5.65 14.98 L-6.07 13.91 L-6.72 12.93 L-7.03 11.87 L-8.11 11.3 L-8.72 12.43 L-8.95 13.72 L-9.36 14.99 L-9.58 16.26 L-10.01 17.68 L-10.57 19.03 L-11.43 20.27 L-12.53 21.07 L-13.32 22.27 L-14.75 22.85 L-16.02 23.39 L-16.31 24.68 L-16.1 25.93 L-15.77 27.08 L-15.12 28.39 L-14.61 29.77 L-14.03 31.09 L-14.43 32.68 L-14.83 34.51 L-15.87 33.84 L-16.77 32.93 L-17.89 32.45 L-19.48 32.83 L-21.04 33.1 L-22.31 33.4 L-23.18 34.36 L-24.28 34.87 L-25.41 34.27 L-26.46 33.54 L-27.43 32.59 L-28.71 32.08 L-30.13 32.01 L-31.48 31.66 L-32.64 30.74 L-34.08 30.39 L-35.49 29.83 L-36.4 28.41 L-37.84 27.62 L-38.28 26.26 L-39.15 25.13 L-39.54 23.7 L-40.42 22.51 L-41.51 21.32 L-42.58 19.96 L-42.62 18.29 L-42.92 16.71 L-42.58 15.61 L-42.89 14.41 L-42.4 13.34 L-42.38 12.21 L-42.53 10.93 L-42.98 9.71 L-43 8.53 L-44.91 8.39 L-46.12 9.03 L-46.89 10.25 L-48.1 10.91 L-49.7 10.72 L-51.05 10.77 L-52.11 9.73 L-52.8 8.3 L-51.71 7.22 L-51.1 6 L-50.36 4.84 L-49.67 3.92 L-49.25 2.55 L-49.67 1.24 L-49.46 -0.06 L-49.33 -1.69 L-48.91 -3.24 L-48.96 -4.46 L-48.27 -5.45 L-48.25 -6.66 L-47.6 -7.92 L-46.8 -9.15 L-46.51 -10.25 L-46.58 -11.35 L-46.93 -12.59 L-47.19 -13.85 L-47.49 -15.1 L-48.11 -16.17 L-48.7 -17.1 L-49.72 -17.66 L-50.7 -18.43 L-52.81 -18.52 L-54.31 -18.6 L-55.48 -19.43 L-56.53 -20.09 L-57.97 -20.46 L-57.75 -22.13 L-58.36 -23.53 L-59.13 -24.68 L-60.11 -25.59 L-61.04 -26.55 L-61.89 -27.35 L-62.54 -28.32 L-63.16 -29.3 L-63.94 -30.18 L-64.42 -31.27 L-65.13 -32.23 L-65.73 -33.26 L-66.56 -34.18 L-66.74 -35.38 L-67.31 -36.4 L-67.94 -37.38 L-68.14 -38.47 L-67.89 -39.77Z" fill="none" stroke="#333" stroke-width="0.8" stroke-linejoin="round"/>
<path d="M-25.5 -22.4 L-23.8 -24.1 L-21.8 -23.1 L-20.9 -20.2 L-21.3 -16.9 L-22.6 -16.1 L-24.3 -17.5 L-25.3 -19.9Z" fill="none" stroke="#2e2e2e" stroke-width="0.7"/>
<path d="M-11.7 28.1 L-10.5 27.9 L-10.1 29.8 L-10.7 31.5 L-11.7 31.1 L-12 29.6Z" fill="none" stroke="#2e2e2e" stroke-width="0.7"/>
<path d="M-55.6 -19.9 L-52.6 -19.1 L-49.6 -17.9 L-48.3 -16.2 L-49.1 -14.5 L-51.1 -14.7 L-52.9 -16.1 L-55.1 -17.4Z" fill="none" stroke="#2e2e2e" stroke-width="0.7"/>
<path d="M-26.5 -14.4 L-23.1 -12.2 L-25.1 -10.9Z" fill="#2e2e2e"/>
</g>
<path d="M15.2 298 C15.77 297.28 16.82 296.07 17.8 295.9 C18.78 295.73 20.2 296.2 21.1 297 C22 297.8 22.58 299.28 23.2 300.7 C23.82 302.12 24.17 303.98 24.8 305.5 C25.43 307.02 26.82 308.63 27 309.8 C27.18 310.97 26.62 311.87 25.9 312.5 C25.18 313.13 23.87 313.7 22.7 313.6 C21.53 313.5 19.98 312.72 18.9 311.9 C17.82 311.08 16.92 310.03 16.2 308.7 C15.48 307.37 14.9 305.32 14.6 303.9 C14.3 302.48 14.3 301.18 14.4 300.2 C14.5 299.22 14.63 298.72 15.2 298Z" fill="#4a68e6"/>
<circle cx="260.5" cy="299" r="3.2" fill="none" stroke="#eda128" stroke-width="1.1"/>
<circle cx="262.6" cy="304.2" r="3.2" fill="none" stroke="#eda128" stroke-width="1.1"/>
<circle cx="264.8" cy="307.6" r="3.2" fill="none" stroke="#eda128" stroke-width="1.1"/>
<circle cx="267.2" cy="311.2" r="3.2" fill="none" stroke="#eda128" stroke-width="1.1"/>
<circle cx="269.8" cy="315.6" r="3.2" fill="none" stroke="#eda128" stroke-width="1.1"/>
<circle cx="278.5" cy="344.5" r="3.2" fill="none" stroke="#eda128" stroke-width="1.1"/>
<circle cx="383.3" cy="377.8" r="3.2" fill="none" stroke="#eda128" stroke-width="1.1"/>
<circle cx="378.2" cy="385.8" r="3.2" fill="none" stroke="#eda128" stroke-width="1.1"/>
<circle cx="466.8" cy="311.2" r="4.9" fill="#47e236"/>
<circle cx="500.3" cy="368.8" r="4.5" fill="#47e236"/>
<circle cx="508.6" cy="368.5" r="4.7" fill="#47e236"/>
<rect x="103.8" y="246.3" width="68.9" height="20.3" fill="#fff" stroke="#5470e8" stroke-width="1.2"/>
<text x="109" y="261.1" font-size="11.87" textLength="58.99" lengthAdjust="spacingAndGlyphs" style="" fill="#222">Max: 8546</text>
<rect x="175.6" y="225.8" width="54.2" height="19.8" fill="#b3c3f0" stroke="#8f9cc4" stroke-width="1"/>
<text x="180.7" y="239.2" font-size="11.77" textLength="9.3" lengthAdjust="spacingAndGlyphs" style="" fill="#222">&gt;</text>
<text x="197.1" y="239.2" font-size="11.77" textLength="28.25" lengthAdjust="spacingAndGlyphs" style="" fill="#222">5000</text>
<rect x="254.1" y="244.8" width="69.5" height="20.9" fill="#fff" stroke="#f2ac48" stroke-width="1.2"/>
<text x="259.6" y="259" font-size="11.87" textLength="59.75" lengthAdjust="spacingAndGlyphs" style="" fill="#222">Min: -1056</text>
<rect x="348.4" y="245.3" width="61.9" height="20.3" fill="#fff" stroke="#66ea55" stroke-width="1.2"/>
<text x="353.8" y="258.4" font-size="11.87" textLength="51.87" lengthAdjust="spacingAndGlyphs" style="" fill="#222">Max: 384</text>
<rect x="453.2" y="246.4" width="61.8" height="20.8" fill="#fff" stroke="#f2ac48" stroke-width="1.2"/>
<text x="458.4" y="260.8" font-size="11.87" textLength="52.63" lengthAdjust="spacingAndGlyphs" style="" fill="#222">Min: -542</text>
<rect x="545.1" y="246.6" width="68.6" height="20.4" fill="#fff" stroke="#66ea55" stroke-width="1.2"/>
<text x="549.9" y="260.8" font-size="11.87" textLength="58.99" lengthAdjust="spacingAndGlyphs" style="" fill="#222">Max: 1755</text>
<rect x="616.6" y="225.8" width="54" height="19.9" fill="#b6f0ae" stroke="#9bb894" stroke-width="1"/>
<text x="621.8" y="239.4" font-size="11.77" textLength="9.3" lengthAdjust="spacingAndGlyphs" style="" fill="#222">&gt;</text>
<text x="638.2" y="239.4" font-size="11.77" textLength="28.25" lengthAdjust="spacingAndGlyphs" style="" fill="#222">1200</text>
<rect x="616.4" y="427.3" width="51.4" height="21.3" fill="#f1dc9b" stroke="#b9a977" stroke-width="1"/>
<text x="622.3" y="441.9" font-size="11.77" textLength="9.3" lengthAdjust="spacingAndGlyphs" style="" fill="#222">&lt;</text>
<text x="638" y="441.9" font-size="11.77" textLength="25.19" lengthAdjust="spacingAndGlyphs" style="" fill="#222">-700</text>
<rect x="181.6" y="404.25" width="8.3" height="12.45" fill="#f8fbff"/>
<rect x="181.6" y="392.09" width="8.3" height="12.45" fill="#e9f2fa"/>
<rect x="181.6" y="379.94" width="8.3" height="12.45" fill="#dae8f6"/>
<rect x="181.6" y="367.78" width="8.3" height="12.45" fill="#cbdef1"/>
<rect x="181.6" y="355.63" width="8.3" height="12.45" fill="#b4d4e8"/>
<rect x="181.6" y="343.48" width="8.3" height="12.45" fill="#99c7e1"/>
<rect x="181.6" y="331.32" width="8.3" height="12.45" fill="#79b6da"/>
<rect x="181.6" y="319.17" width="8.3" height="12.45" fill="#61a5d0"/>
<rect x="181.6" y="307.02" width="8.3" height="12.45" fill="#4b93c7"/>
<rect x="181.6" y="294.86" width="8.3" height="12.45" fill="#377fbc"/>
<rect x="181.6" y="282.71" width="8.3" height="12.45" fill="#286cad"/>
<rect x="181.6" y="270.55" width="8.3" height="12.45" fill="#215897"/>
<rect x="181.6" y="258.4" width="8.3" height="12.45" fill="#21457a"/>
<path d="M181.6 259 L185.75 250.2 L189.9 259 Z" fill="#21457a"/>
<path d="M181.6 415.8 L185.75 423.6 L189.9 415.8 Z" fill="#f8fbff"/>
<path d="M181.6 258.4 L185.75 250.2 L189.9 258.4 L189.9 416.4 L185.75 423.6 L181.6 416.4 Z" fill="none" stroke="#2a2a2a" stroke-width="1.1"/>
<line x1="189.9" y1="270.55" x2="195.1" y2="270.55" stroke="#555" stroke-width="0.95"/>
<text x="200" y="274.15" font-size="11.8" textLength="27.23" lengthAdjust="spacingAndGlyphs" style="" fill="#222">4600</text>
<line x1="189.9" y1="294.86" x2="195.1" y2="294.86" stroke="#555" stroke-width="0.95"/>
<text x="200.3" y="298.46" font-size="11.8" textLength="27.23" lengthAdjust="spacingAndGlyphs" style="" fill="#222">3850</text>
<line x1="189.9" y1="319.17" x2="195.1" y2="319.17" stroke="#555" stroke-width="0.95"/>
<text x="200.3" y="322.77" font-size="11.8" textLength="27.23" lengthAdjust="spacingAndGlyphs" style="" fill="#222">3100</text>
<line x1="189.9" y1="343.48" x2="195.1" y2="343.48" stroke="#555" stroke-width="0.95"/>
<text x="200.3" y="347.08" font-size="11.8" textLength="27.23" lengthAdjust="spacingAndGlyphs" style="" fill="#222">2350</text>
<line x1="189.9" y1="367.78" x2="195.1" y2="367.78" stroke="#555" stroke-width="0.95"/>
<text x="200.3" y="371.38" font-size="11.8" textLength="27.23" lengthAdjust="spacingAndGlyphs" style="" fill="#222">1600</text>
<line x1="189.9" y1="392.09" x2="195.1" y2="392.09" stroke="#555" stroke-width="0.95"/>
<text x="200.3" y="395.69" font-size="11.8" textLength="20.42" lengthAdjust="spacingAndGlyphs" style="" fill="#222">850</text>
<rect x="622.6" y="258.9" width="8.4" height="12.31" fill="#3fd524"/>
<rect x="622.6" y="270.91" width="8.4" height="12.31" fill="#56da3c"/>
<rect x="622.6" y="282.92" width="8.4" height="12.31" fill="#6ddf55"/>
<rect x="622.6" y="294.92" width="8.4" height="12.31" fill="#85e46f"/>
<rect x="622.6" y="306.93" width="8.4" height="12.31" fill="#9cea89"/>
<rect x="622.6" y="318.94" width="8.4" height="12.31" fill="#b4efa4"/>
<rect x="622.6" y="330.95" width="8.4" height="12.31" fill="#cbf4bf"/>
<rect x="622.6" y="342.96" width="8.4" height="12.31" fill="#e2f9da"/>
<rect x="622.6" y="354.96" width="8.4" height="12.31" fill="#fcfbef"/>
<rect x="622.6" y="366.97" width="8.4" height="12.31" fill="#f9f2cf"/>
<rect x="622.6" y="378.98" width="8.4" height="12.31" fill="#f5e8b0"/>
<rect x="622.6" y="390.99" width="8.4" height="12.31" fill="#f0dc92"/>
<rect x="622.6" y="402.99" width="8.4" height="8.31" fill="#ebcf74"/>
<path d="M622.6 258.9 L626.8 250.4 L631 258.9 Z" fill="#35d31a"/>
<path d="M622.6 411 L626.8 423.2 L631 411 Z" fill="#e8b33a"/>
<path d="M622.6 258.9 L626.8 250.4 L631 258.9 L631 411 L626.8 423.2 L622.6 411 Z" fill="none" stroke="#2a2a2a" stroke-width="1.1"/>
<line x1="631" y1="258.9" x2="636.2" y2="258.9" stroke="#555" stroke-width="0.95"/>
<text x="640.3" y="262.7" font-size="11.8" textLength="27.23" lengthAdjust="spacingAndGlyphs" style="" fill="#222">1200</text>
<line x1="631" y1="282.92" x2="636.2" y2="282.92" stroke="#555" stroke-width="0.95"/>
<text x="643.4" y="286.72" font-size="11.8" textLength="20.42" lengthAdjust="spacingAndGlyphs" style="" fill="#222">900</text>
<line x1="631" y1="306.93" x2="636.2" y2="306.93" stroke="#555" stroke-width="0.95"/>
<text x="643.4" y="310.73" font-size="11.8" textLength="20.42" lengthAdjust="spacingAndGlyphs" style="" fill="#222">600</text>
<line x1="631" y1="330.95" x2="636.2" y2="330.95" stroke="#555" stroke-width="0.95"/>
<text x="643.4" y="334.75" font-size="11.8" textLength="20.42" lengthAdjust="spacingAndGlyphs" style="" fill="#222">300</text>
<line x1="631" y1="354.96" x2="636.2" y2="354.96" stroke="#555" stroke-width="0.95"/>
<text x="649.9" y="358.76" font-size="11.8" textLength="6.81" lengthAdjust="spacingAndGlyphs" style="" fill="#222">0</text>
<line x1="631" y1="378.98" x2="636.2" y2="378.98" stroke="#555" stroke-width="0.95"/>
<text x="637.4" y="382.78" font-size="11.8" textLength="24.28" lengthAdjust="spacingAndGlyphs" style="" fill="#222">-300</text>
<line x1="631" y1="402.99" x2="636.2" y2="402.99" stroke="#555" stroke-width="0.95"/>
<text x="637.4" y="406.79" font-size="11.8" textLength="24.28" lengthAdjust="spacingAndGlyphs" style="" fill="#222">-600</text>
<g transform="translate(684.7 350.4) rotate(-90)"><text x="0" y="0" font-size="13.04" textLength="23.96" lengthAdjust="spacingAndGlyphs" style="" fill="#222">mm</text></g>
<text x="28" y="219" font-size="15.9" textLength="53.34" lengthAdjust="spacingAndGlyphs" style="font-weight:bold;" fill="#222">Precip</text>
<text x="88.3" y="219" font-size="15.9" textLength="51.37" lengthAdjust="spacingAndGlyphs" style="" fill="#222">(CTRL)</text>
<text x="1.3" y="233.8" font-size="13.04" textLength="12.61" lengthAdjust="spacingAndGlyphs" style="" fill="#222">d)</text>
<text x="282.4" y="216.4" font-size="15.9" textLength="88.2" lengthAdjust="spacingAndGlyphs" style="" fill="#222">exICE-CTRL</text>
<text x="242.9" y="231.2" font-size="13.04" textLength="12.37" lengthAdjust="spacingAndGlyphs" style="" fill="#222">e)</text>
<text x="480.2" y="218.8" font-size="15.9" textLength="89.06" lengthAdjust="spacingAndGlyphs" style="" fill="#222">noICE-CTRL</text>
<text x="441.1" y="234.7" font-size="13.04" textLength="9.13" lengthAdjust="spacingAndGlyphs" style="" fill="#222">f)</text>
<text x="4.52" y="447.3" font-size="13.04" textLength="158.75" lengthAdjust="spacingAndGlyphs" style="" fill="#222">Sum over land: 2820.4 Gt</text>
<text x="2.42" y="462.2" font-size="13.04" textLength="162.76" lengthAdjust="spacingAndGlyphs" style="" fill="#222">incl ice shelves: 3573.8 Gt</text>
<text x="296.39" y="449.8" font-size="13.04" textLength="61.83" lengthAdjust="spacingAndGlyphs" style="" fill="#222">- 182.3 Gt</text>
<text x="296.39" y="465.1" font-size="13.04" textLength="61.83" lengthAdjust="spacingAndGlyphs" style="" fill="#222">- 227.6 Gt</text>
<text x="490.65" y="447.6" font-size="13.04" textLength="67.69" lengthAdjust="spacingAndGlyphs" style="" fill="#222">+ 249.0 Gt</text>
<text x="490.65" y="462.7" font-size="13.04" textLength="67.69" lengthAdjust="spacingAndGlyphs" style="" fill="#222">+ 362.5 Gt</text>
</svg></body></html>
